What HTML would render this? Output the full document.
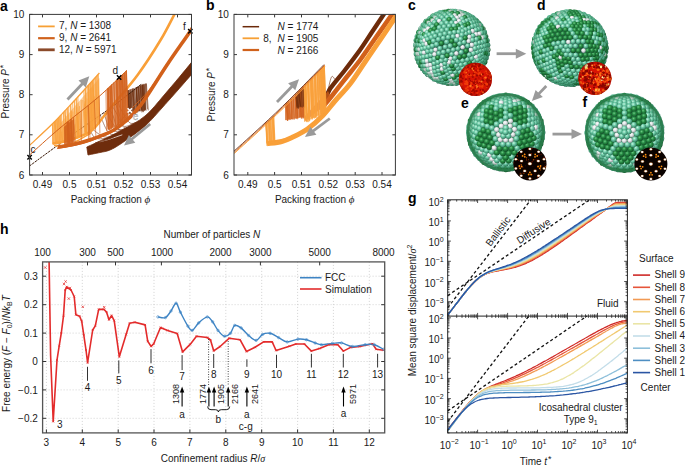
<!DOCTYPE html><html><head><meta charset="utf-8"><style>html,body{margin:0;padding:0;background:#fff;overflow:hidden}svg{display:block}</style></head><body><svg width="685" height="466" viewBox="0 0 685 466" font-family='"Liberation Sans", sans-serif'>
<rect width="685" height="466" fill="#fff"/>
<clipPath id="ca"><rect x="29.6" y="14.4" width="161.9" height="160.6"/></clipPath><g clip-path="url(#ca)">
<path d="M126.6 95.5 L141.6 84 L146.6 83.4 L146 110 L128 113 Z" stroke="none" stroke-width="1" fill="#6E2C0C" fill-opacity="0.45"/>
<path d="M140.4 85.7L141.8 111.1M142.5 84.9L144.1 110.8M131.3 89.0L131.6 112.3M128.0 90.3L129.6 112.2M127.4 90.5L129.4 113.7M138.9 86.2L139.3 111.0M128.9 89.9L130.8 112.4M143.0 84.7L143.5 112.2M137.6 86.7L138.5 111.6M127.3 90.5L129.1 112.2M130.8 89.2L132.7 113.7M141.9 85.2L143.1 111.6M136.1 87.3L137.8 110.8M144.4 84.2L145.3 110.2M134.3 87.9L136.3 111.6M128.5 90.1L130.0 114.4M136.4 87.2L137.7 112.5M138.8 86.3L140.0 111.8M130.0 89.5L130.9 114.0M138.5 86.4L139.4 110.3M142.9 84.8L144.5 110.4M140.1 85.8L141.9 112.5M146.4 83.5L148.3 110.4M136.4 87.2L137.4 111.0M129.8 89.6L130.3 113.8M136.3 87.2L138.0 110.4M132.4 88.6L133.4 111.4M133.4 88.3L135.2 113.6M136.2 87.2L136.9 113.2M141.2 85.4L141.5 110.3M142.5 84.9L144.3 111.1M138.2 86.5L140.0 110.8M132.1 88.7L133.7 110.9M145.7 83.7L146.0 110.8M143.6 84.5L144.9 109.9M145.8 83.7L147.6 109.2M128.5 90.1L128.8 112.9M143.9 84.4L145.4 109.5M133.1 88.4L134.2 111.4M130.3 89.4L131.2 113.3M127.5 90.4L129.0 114.2M142.4 84.9L142.7 110.9M141.9 85.1L142.5 111.7M140.5 85.6L141.4 109.8M132.8 88.5L134.6 111.6" stroke="#6E2C0C" stroke-width="0.6" fill="none" stroke-opacity="0.9"/>
<path d="M86.8 147 C89.0 146.0 94.1 143.8 100.0 141.0 C105.9 138.2 114.5 134.2 122.0 130.0 C129.5 125.8 137.8 122.0 145.0 116.0 C152.2 110.0 157.2 103.0 165.0 94.0 C172.8 85.0 185.7 69.6 191.5 62.3 C197.3 55.0 198.6 52.0 200.0 50.0 L200 64 C198.6 65.8 197.3 67.7 191.5 74.5 C185.7 81.3 172.8 96.0 165.0 104.6 C157.2 113.2 152.2 119.6 145.0 126.0 C137.8 132.4 127.8 139.0 122.0 143.0 C116.2 147.0 113.7 148.4 110.0 150.0 C106.3 151.6 103.7 151.7 100.0 152.5 C96.3 153.3 90.0 154.6 88.0 155.0 Z" stroke="#6E2C0C" stroke-width="0.8" fill="#6E2C0C"/>
<path d="M99.7 141.8 C101.4 141.3 106.2 140.2 110.0 139.0 C113.8 137.8 120.2 135.5 122.3 134.8" stroke="#fff" stroke-width="0.7" fill="none" />
<path d="M95 143 C97.5 142.2 105.5 140.3 110.0 138.5 C114.5 136.7 117.8 134.4 122.0 132.0 C126.2 129.6 132.8 125.3 135.0 124.0" stroke="#6E2C0C" stroke-width="0.8" fill="none" />
<path d="M104.1 112.4 C104.6 114.0 105.6 119.1 106.8 122.2 C107.9 125.2 108.0 129.5 110.9 130.9 C113.8 132.3 122.0 130.6 124.2 130.5" stroke="#6E2C0C" stroke-width="0.55" fill="none" />
<path d="M112.4 106.4 C113.1 107.5 114.4 109.4 116.3 112.9 C118.3 116.4 121.3 125.6 124.0 127.6 C126.8 129.5 131.4 125.2 132.9 124.7" stroke="#6E2C0C" stroke-width="0.55" fill="none" />
<path d="M88.3 123.5 C88.9 125.1 90.3 130.9 91.7 133.4 C93.2 135.9 93.7 137.9 97.1 138.6 C100.6 139.3 109.7 137.9 112.2 137.7" stroke="#6E2C0C" stroke-width="0.55" fill="none" />
<path d="M89.9 122.4 C90.1 123.3 89.0 125.5 91.1 127.8 C93.2 130.1 99.3 134.6 102.4 136.2 C105.4 137.7 108.3 136.9 109.5 137.1" stroke="#6E2C0C" stroke-width="0.55" fill="none" />
<path d="M108.4 109.4 C108.5 110.8 107.8 114.3 109.4 117.7 C111.0 121.0 114.9 127.8 117.9 129.4 C120.9 131.1 125.9 127.9 127.5 127.6" stroke="#6E2C0C" stroke-width="0.55" fill="none" />
<path d="M100.5 115 C100.7 115.9 100.6 117.1 102.1 120.2 C103.7 123.4 106.6 131.8 109.9 133.8 C113.3 135.9 120.1 132.8 122.1 132.6" stroke="#6E2C0C" stroke-width="0.55" fill="none" />
<path d="M115.4 104.1 C116.0 105.3 117.3 107.7 118.6 111.4 C119.9 115.0 120.5 124.1 123.3 126.0 C126.1 127.9 133.3 123.2 135.3 122.7" stroke="#6E2C0C" stroke-width="0.55" fill="none" />
<path d="M108.7 109.2 C109.4 110.1 111.0 111.2 112.6 114.6 C114.3 118.0 115.6 127.3 118.6 129.4 C121.6 131.5 128.5 127.7 130.5 127.3" stroke="#6E2C0C" stroke-width="0.55" fill="none" />
<path d="M118.1 102.1 C118.6 103.4 119.4 106.7 121.4 110.2 C123.4 113.7 126.9 121.2 130.1 123.0 C133.4 124.7 139.1 121.2 140.9 120.8" stroke="#6E2C0C" stroke-width="0.55" fill="none" />
<path d="M29.6 165.9 C37.0 160.5 60.8 143.0 74.0 133.5 C87.2 124.0 97.7 117.2 109.0 109.0 C120.3 100.8 136.2 88.2 141.6 84.0" stroke="#3a1a08" stroke-width="1.0" fill="none" stroke-dasharray="2.5 0.8"/>
<path d="M52 124.3 L60 115.8 L61 144.5 L52 144 Z" stroke="none" stroke-width="1" fill="#F9A03A" fill-opacity="0.75"/>
<path d="M60 123.8 L75 106 L99.4 78 L100 117 L91 131 L70 140 L60 143 Z" stroke="none" stroke-width="1" fill="#F9A03A" fill-opacity="0.5"/>
<path d="M94.8 78.1L95.6 127.5M76.1 98.7L77.8 138.5M85.1 88.8L85.9 133.1M65.3 110.2L66.6 139.9M83.7 90.4L85.3 133.8M61.6 114.2L63.1 141.0M76.8 98.1L78.2 136.3M89.6 83.8L90.4 132.8M58.8 117.1L59.5 143.0M70.7 104.5L72.6 139.3M76.2 98.7L77.0 136.5M68.3 107.1L68.9 142.1M60.1 115.7L62.0 142.8M57.0 119.0L57.4 143.4M88.5 85.1L88.8 132.6M55.1 121.0L56.2 144.5M65.1 110.5L66.7 142.1M85.7 88.2L86.3 133.2M88.2 85.3L89.9 133.0M97.7 74.9L98.1 123.6M61.0 114.8L62.6 142.8M63.4 112.3L65.1 141.8M91.8 81.4L93.4 128.2M70.1 105.2L70.9 140.5M86.0 87.8L86.4 133.5M87.7 85.9L88.5 131.3M57.0 119.1L58.4 143.3M64.4 111.2L66.3 141.4M77.9 96.8L79.4 136.5M60.3 115.6L60.9 141.0M74.2 100.8L75.6 137.1M92.1 81.1L92.7 130.6M98.1 74.5L99.5 120.8M98.0 74.5L99.2 123.3M90.6 82.7L92.5 131.1M85.2 88.8L86.1 134.0M95.9 76.9L97.3 123.2M92.7 80.4L94.5 126.6M93.0 80.1L94.6 128.1M90.2 83.2L90.7 131.4M74.4 100.6L76.1 137.5M52.3 124.0L53.3 144.2M58.7 117.3L59.3 141.5M92.5 80.6L94.4 127.7M54.4 121.8L55.4 143.9M95.8 77.0L97.2 123.6M70.7 104.5L71.8 139.0M91.6 81.6L92.0 131.4M96.6 76.1L98.1 124.0M90.4 82.9L91.4 129.6M93.4 79.7L94.7 128.8M67.2 108.2L68.8 141.7M63.3 112.4L64.2 142.7M72.6 102.5L73.6 139.4M95.0 77.9L96.8 125.6M67.8 107.7L69.4 141.5M87.9 85.8L89.6 133.3M55.1 121.0L56.5 142.2M88.8 84.7L90.3 131.2M66.8 108.7L67.9 141.6" stroke="#F9A03A" stroke-width="0.75" fill="none" stroke-opacity="0.9"/>
<path d="M87.0 98.4L88.4 131.8M65.6 116.1L67.0 140.4M94.7 96.3L95.0 126.8M77.5 112.3L79.4 135.7M85.0 101.2L85.9 133.7M78.0 112.0L78.7 136.9M85.3 102.7L86.0 133.3M63.4 127.0L64.0 141.8M72.9 111.5L73.3 138.0M84.6 111.3L85.3 132.7M64.6 124.1L66.1 140.2M81.2 99.8L81.9 135.1M68.0 123.9L69.7 140.1M60.4 126.5L61.2 142.6M90.9 88.1L92.1 130.5M82.8 100.0L84.7 132.9M90.6 102.2L91.8 129.4M86.2 105.8L87.1 133.3M71.3 110.7L72.2 139.7M65.9 120.8L66.4 141.1M69.1 118.7L70.9 139.5M84.7 103.7L86.0 132.9M79.5 106.1L80.3 134.9M76.8 107.1L77.1 136.4M73.3 120.2L74.0 138.6M89.0 100.1L90.0 131.0M92.8 99.2L93.9 127.3M93.3 87.6L94.8 127.2M98.0 97.1L98.7 123.1M75.0 124.6L75.5 137.4M70.8 114.8L72.4 139.2M91.1 104.6L92.9 129.4M79.7 113.9L80.8 136.3M77.0 116.1L77.8 135.9M65.4 115.2L65.9 140.8M61.9 131.6L62.4 141.6M77.6 116.4L78.6 136.1M64.6 123.0L66.1 141.5M70.1 122.6L71.0 140.0M65.3 122.1L67.2 140.3" stroke="#F9A03A" stroke-width="0.8" fill="none" stroke-opacity="0.9"/>
<path d="M29.6 145.3 C33.3 141.8 44.4 131.8 52.0 124.3 C59.6 116.8 67.1 108.5 75.0 100.0 C82.9 91.5 95.3 77.5 99.4 73.0" stroke="#F9A03A" stroke-width="1.3" fill="none" />
<path d="M53 143.5 C55.8 142.9 63.7 142.1 70.0 140.0 C76.3 137.9 85.3 135.0 91.0 131.0 C96.7 127.0 100.0 120.8 104.0 116.0 C108.0 111.2 109.4 109.3 115.0 102.5 C120.6 95.7 130.0 85.4 137.6 75.0 C145.2 64.6 154.5 50.1 160.6 40.0 C166.7 29.9 171.2 20.4 174.4 14.4 C177.6 8.4 179.1 5.7 180.0 4.0" stroke="#F9A03A" stroke-width="2.6" fill="none" />
<path d="M52.8 143.8 C55.6 143.3 63.5 142.4 69.8 140.3 C76.1 138.3 85.1 135.3 90.8 131.3 C96.5 127.3 99.8 121.1 103.8 116.3 C107.8 111.6 109.2 109.7 114.8 102.8 C120.4 96.0 129.8 85.8 137.4 75.3 C145.0 64.9 154.3 50.4 160.4 40.3 C166.5 30.2 171.0 20.7 174.2 14.7 C177.4 8.7 178.9 6.1 179.8 4.3" stroke="#F9A03A" stroke-width="0.7" fill="none" />
<path d="M52.5 144.3 C55.3 143.7 63.2 142.9 69.5 140.8 C75.8 138.7 84.8 135.8 90.5 131.8 C96.2 127.8 99.5 121.6 103.5 116.8 C107.5 112.1 108.9 110.2 114.5 103.3 C120.1 96.5 129.5 86.2 137.1 75.8 C144.7 65.4 154.0 50.9 160.1 40.8 C166.2 30.7 170.7 21.2 173.9 15.2 C177.1 9.2 178.6 6.6 179.5 4.8" stroke="#F9A03A" stroke-width="0.7" fill="none" />
<path d="M53.3 142.9 C56.2 142.3 64.0 141.5 70.3 139.4 C76.7 137.3 85.7 134.4 91.3 130.4 C97.0 126.4 100.3 120.2 104.3 115.4 C108.3 110.7 109.7 108.8 115.3 101.9 C120.9 95.1 130.3 84.8 137.9 74.4 C145.5 64.0 154.8 49.5 160.9 39.4 C167.1 29.3 171.5 19.8 174.7 13.8 C178.0 7.8 179.4 5.2 180.3 3.4" stroke="#F9A03A" stroke-width="0.7" fill="none" />
<path d="M54 145.5 C56.0 145.7 62.2 147.2 66.0 146.5 C69.8 145.8 72.8 143.2 77.0 141.0 C81.2 138.8 88.7 134.3 91.0 133.0" stroke="#F9A03A" stroke-width="1.5" fill="none" />
<path d="M108 88 L126.8 70.4 L128 122 L108 130 Z" stroke="none" stroke-width="1" fill="#D2621C" fill-opacity="0.6"/>
<path d="M64 126.8 L74 118.7 L74.5 142 L64 145 Z" stroke="none" stroke-width="1" fill="#D2621C" fill-opacity="0.8"/>
<path d="M107.1 88.9L108.0 129.4M81.0 111.1L81.4 142.8M69.7 120.2L71.0 145.5M119.4 77.3L120.0 125.1M73.3 117.3L74.1 143.7M68.0 121.6L69.6 145.8M121.6 75.3L122.3 123.2M88.3 105.2L90.1 140.7M73.6 117.0L75.5 143.8M122.7 74.3L123.3 123.3M124.6 72.5L126.5 120.9M116.7 79.8L118.6 124.6M109.4 86.7L111.1 129.1M67.1 122.3L67.6 145.7M108.3 87.8L110.2 130.0M118.5 78.2L119.4 125.1M115.8 80.7L117.4 125.1M99.2 96.3L99.9 133.7M110.2 86.0L111.2 128.2M67.5 121.9L68.7 144.5M108.0 88.0L108.5 129.2M67.4 122.0L68.2 146.0M116.5 80.1L118.1 125.8M94.3 100.4L95.9 136.8M119.7 77.1L121.5 123.4M126.5 70.6L127.7 121.9M71.2 119.0L72.0 145.1M117.7 78.9L118.4 124.8M119.9 76.9L121.2 123.3M105.9 90.0L106.6 130.9M117.2 79.4L118.5 126.2M111.7 84.5L112.8 127.7M120.5 76.3L121.2 124.4M107.3 88.7L108.1 129.7M70.7 119.4L72.7 145.3M124.1 72.9L125.3 122.4M108.2 87.8L109.1 129.2M88.1 105.4L88.5 140.6M111.7 84.6L112.3 127.7M111.5 84.7L113.1 127.0M121.4 75.4L122.9 122.5M124.0 73.1L125.1 123.0M110.4 85.8L111.3 129.1M107.8 88.2L108.4 129.2M119.9 76.9L120.9 124.0M113.9 82.5L115.3 126.1M110.6 85.6L111.1 128.3M67.8 121.7L69.2 145.3M116.5 80.0L117.0 126.4M122.0 74.9L124.0 122.9M67.6 121.9L68.7 144.9M68.0 121.6L69.4 145.8M124.7 72.4L126.3 121.6M108.1 88.0L109.7 129.6M68.7 121.0L69.5 145.7M122.6 74.3L124.5 123.1M113.8 82.5L115.8 127.3M67.6 121.9L69.3 145.7M68.5 121.2L70.4 144.1M70.6 119.4L72.5 145.4M122.8 74.1L124.8 122.1M66.6 122.7L68.2 144.6M125.6 71.5L126.2 122.1M126.3 70.8L127.5 121.2M122.0 74.9L122.6 124.0M126.4 70.8L128.3 120.8M111.5 84.7L112.3 127.5M71.3 118.9L71.7 144.9M121.7 75.2L123.0 124.1M64.9 124.0L66.2 145.3" stroke="#D2621C" stroke-width="0.7" fill="none" stroke-opacity="0.9"/>
<path d="M29.6 155 C34.7 150.5 48.6 137.6 60.0 128.0 C71.4 118.4 86.8 107.1 97.9 97.5 C109.0 87.9 122.0 74.9 126.8 70.4" stroke="#D2621C" stroke-width="1.0" fill="none" />
<path d="M58 147 C60.8 146.5 69.5 145.2 75.0 144.0 C80.5 142.8 84.8 141.7 91.0 139.5 C97.2 137.3 106.0 134.2 112.0 131.0 C118.0 127.8 122.3 124.2 127.0 120.0 C131.7 115.8 136.3 110.5 140.0 106.0 C143.7 101.5 144.3 100.2 149.0 93.0 C153.7 85.8 161.4 73.3 168.3 63.0 C175.2 52.7 185.5 38.4 190.3 31.2 C195.1 24.0 195.9 21.9 197.0 20.0" stroke="#D2621C" stroke-width="3.6" fill="none" />
<path d="M57.1 148.6 C59.9 148.1 68.6 146.8 74.1 145.6 C79.6 144.3 83.9 143.2 90.1 141.1 C96.2 138.9 105.1 135.8 111.1 132.6 C117.1 129.3 121.4 125.7 126.1 121.6 C130.7 117.4 135.4 112.1 139.1 107.6 C142.7 103.1 143.3 101.7 148.1 94.6 C152.8 87.4 160.5 74.9 167.4 64.6 C174.2 54.3 184.6 39.9 189.4 32.8 C194.1 25.6 194.9 23.4 196.1 21.6" stroke="#D2621C" stroke-width="0.7" fill="none" />
<path d="M57.2 148.3 C60.0 147.8 68.7 146.6 74.2 145.3 C79.7 144.1 84.0 143.0 90.2 140.8 C96.4 138.7 105.2 135.6 111.2 132.3 C117.2 129.1 121.5 125.5 126.2 121.3 C130.9 117.2 135.5 111.8 139.2 107.3 C142.9 102.8 143.5 101.5 148.2 94.3 C152.9 87.2 160.6 74.6 167.5 64.3 C174.4 54.0 184.7 39.7 189.5 32.5 C194.3 25.4 195.1 23.2 196.2 21.3" stroke="#D2621C" stroke-width="0.7" fill="none" />
<path d="M57.6 147.6 C60.5 147.1 69.1 145.9 74.6 144.6 C80.1 143.4 84.5 142.3 90.6 140.1 C96.8 137.9 105.6 134.9 111.6 131.6 C117.6 128.4 122.0 124.8 126.6 120.6 C131.3 116.4 136.0 111.1 139.6 106.6 C143.3 102.1 143.9 100.8 148.6 93.6 C153.4 86.4 161.1 73.9 167.9 63.6 C174.8 53.3 185.2 39.0 189.9 31.8 C194.7 24.6 195.5 22.5 196.6 20.6" stroke="#D2621C" stroke-width="0.7" fill="none" />
<path d="M57.4 148.1 C60.2 147.6 68.9 146.3 74.4 145.1 C79.9 143.8 84.2 142.7 90.4 140.6 C96.5 138.4 105.4 135.3 111.4 132.1 C117.4 128.8 121.7 125.2 126.4 121.1 C131.0 116.9 135.7 111.6 139.4 107.1 C143.0 102.6 143.6 101.2 148.4 94.1 C153.1 86.9 160.8 74.4 167.7 64.1 C174.5 53.8 184.9 39.4 189.7 32.3 C194.4 25.1 195.2 22.9 196.4 21.1" stroke="#D2621C" stroke-width="0.7" fill="none" />
<path d="M112 131 C115.0 127.6 123.6 117.2 129.8 110.4 C136.0 103.6 142.6 98.1 149.0 90.0 C155.4 81.9 164.8 66.7 168.0 62.0" stroke="#D2621C" stroke-width="0.8" fill="none" />
</g>
<line x1="67.5" y1="99.5" x2="82.8" y2="83.2" stroke="#9a9a9a" stroke-width="2.8" />
<path d="M89.3 76.3 L85.8 87.4 L78.5 80.5 Z" fill="#9a9a9a"/>
<line x1="150.2" y1="124" x2="131.3" y2="139.5" stroke="#9a9a9a" stroke-width="2.8" />
<path d="M124.0 145.5 L128.9 135.0 L135.3 142.7 Z" fill="#9a9a9a"/>
<path d="M27.4 155.1l4.4 4.4m0 -4.4l-4.4 4.4" stroke="#000" stroke-width="1.4"/>
<text x="33" y="153.3" font-size="10" text-anchor="middle" fill="#1a1a1a" >c</text>
<path d="M116.9 75.3l4.4 4.4m0 -4.4l-4.4 4.4" stroke="#000" stroke-width="1.4"/>
<text x="115.4" y="73.5" font-size="10" text-anchor="middle" fill="#1a1a1a" >d</text>
<path d="M127.6 108.2l4.4 4.4m0 -4.4l-4.4 4.4" stroke="#fff" stroke-width="1.6"/>
<text x="135.5" y="120.2" font-size="10" text-anchor="middle" fill="#fff" stroke="#888" stroke-width="0.35">e</text>
<path d="M188.1 29.0l4.4 4.4m0 -4.4l-4.4 4.4" stroke="#000" stroke-width="1.4"/>
<text x="184.4" y="29.6" font-size="10" text-anchor="middle" fill="#1a1a1a" >f</text>
<rect x="29.6" y="14.4" width="161.9" height="160.6" fill="none" stroke="#3a3a3a" stroke-width="1"/>
<line x1="42.5" y1="175" x2="42.5" y2="172" stroke="#3a3a3a" stroke-width="1" />
<line x1="42.5" y1="14.4" x2="42.5" y2="17.4" stroke="#3a3a3a" stroke-width="1" />
<text x="42.5" y="188.2" font-size="10" text-anchor="middle" fill="#1a1a1a" >0.49</text>
<line x1="69.5" y1="175" x2="69.5" y2="172" stroke="#3a3a3a" stroke-width="1" />
<line x1="69.5" y1="14.4" x2="69.5" y2="17.4" stroke="#3a3a3a" stroke-width="1" />
<text x="69.5" y="188.2" font-size="10" text-anchor="middle" fill="#1a1a1a" >0.5</text>
<line x1="96.5" y1="175" x2="96.5" y2="172" stroke="#3a3a3a" stroke-width="1" />
<line x1="96.5" y1="14.4" x2="96.5" y2="17.4" stroke="#3a3a3a" stroke-width="1" />
<text x="96.5" y="188.2" font-size="10" text-anchor="middle" fill="#1a1a1a" >0.51</text>
<line x1="123.5" y1="175" x2="123.5" y2="172" stroke="#3a3a3a" stroke-width="1" />
<line x1="123.5" y1="14.4" x2="123.5" y2="17.4" stroke="#3a3a3a" stroke-width="1" />
<text x="123.5" y="188.2" font-size="10" text-anchor="middle" fill="#1a1a1a" >0.52</text>
<line x1="150.5" y1="175" x2="150.5" y2="172" stroke="#3a3a3a" stroke-width="1" />
<line x1="150.5" y1="14.4" x2="150.5" y2="17.4" stroke="#3a3a3a" stroke-width="1" />
<text x="150.5" y="188.2" font-size="10" text-anchor="middle" fill="#1a1a1a" >0.53</text>
<line x1="177.5" y1="175" x2="177.5" y2="172" stroke="#3a3a3a" stroke-width="1" />
<line x1="177.5" y1="14.4" x2="177.5" y2="17.4" stroke="#3a3a3a" stroke-width="1" />
<text x="177.5" y="188.2" font-size="10" text-anchor="middle" fill="#1a1a1a" >0.54</text>
<line x1="29.6" y1="175" x2="32.6" y2="175" stroke="#3a3a3a" stroke-width="1" />
<line x1="191.5" y1="175" x2="188.5" y2="175" stroke="#3a3a3a" stroke-width="1" />
<text x="24.4" y="178.6" font-size="10" text-anchor="end" fill="#1a1a1a" >6</text>
<line x1="29.6" y1="134.8" x2="32.6" y2="134.8" stroke="#3a3a3a" stroke-width="1" />
<line x1="191.5" y1="134.8" x2="188.5" y2="134.8" stroke="#3a3a3a" stroke-width="1" />
<text x="24.4" y="138.4" font-size="10" text-anchor="end" fill="#1a1a1a" >7</text>
<line x1="29.6" y1="94.7" x2="32.6" y2="94.7" stroke="#3a3a3a" stroke-width="1" />
<line x1="191.5" y1="94.7" x2="188.5" y2="94.7" stroke="#3a3a3a" stroke-width="1" />
<text x="24.4" y="98.3" font-size="10" text-anchor="end" fill="#1a1a1a" >8</text>
<line x1="29.6" y1="54.6" x2="32.6" y2="54.6" stroke="#3a3a3a" stroke-width="1" />
<line x1="191.5" y1="54.6" x2="188.5" y2="54.6" stroke="#3a3a3a" stroke-width="1" />
<text x="24.4" y="58.2" font-size="10" text-anchor="end" fill="#1a1a1a" >9</text>
<line x1="29.6" y1="14.4" x2="32.6" y2="14.4" stroke="#3a3a3a" stroke-width="1" />
<line x1="191.5" y1="14.4" x2="188.5" y2="14.4" stroke="#3a3a3a" stroke-width="1" />
<text x="24.4" y="18" font-size="10" text-anchor="end" fill="#1a1a1a" >10</text>
<text x="110.5" y="203" font-size="10" text-anchor="middle" fill="#1a1a1a" >Packing fraction <tspan font-family="Liberation Serif" font-style="italic" font-size="11">ϕ</tspan></text>
<text x="8.9" y="91.6" font-size="10" text-anchor="middle" fill="#1a1a1a" transform="rotate(-90 8.9 91.6)" >Pressure <tspan font-style="italic">P</tspan><tspan font-size="9" dx="0.8" dy="-3">*</tspan></text>
<text x="0" y="10.5" font-size="14" text-anchor="start" font-weight="bold" fill="#000" >a</text>
<line x1="38.1" y1="26.4" x2="54.7" y2="26.4" stroke="#F7A035" stroke-width="1.8" />
<line x1="38.1" y1="38.2" x2="54.7" y2="38.2" stroke="#D0621C" stroke-width="2.2" />
<line x1="38.1" y1="49.8" x2="54.7" y2="49.8" stroke="#8B4A2A" stroke-width="2.8" />
<text x="59" y="29.4" font-size="10" text-anchor="start" fill="#1a1a1a" >7, <tspan font-style="italic">N</tspan> = 1308</text>
<text x="59" y="41.2" font-size="10" text-anchor="start" fill="#1a1a1a" >9, <tspan font-style="italic">N</tspan> = 2641</text>
<text x="59" y="52.8" font-size="10" text-anchor="start" fill="#1a1a1a" >12, <tspan font-style="italic">N</tspan> = 5971</text>
<clipPath id="cb"><rect x="234" y="14.4" width="161.4" height="160.6"/></clipPath><g clip-path="url(#cb)">
<path d="M326 100 C326.6 98.2 326.4 94.5 329.6 89.5 C332.8 84.5 339.9 76.6 345.0 70.0 C350.1 63.4 355.5 56.3 360.0 50.0 C364.5 43.7 367.8 38.3 372.0 32.0 C376.2 25.7 382.3 16.7 385.3 12.0 C388.3 7.3 389.2 5.3 390.0 4.0" stroke="#6E2C0C" stroke-width="4.4" fill="none" />
<path d="M325.8 100.3 C326.4 98.6 326.2 94.8 329.4 89.8 C332.6 84.8 339.7 76.9 344.8 70.3 C349.9 63.7 355.3 56.6 359.8 50.3 C364.3 44.0 367.6 38.6 371.8 32.3 C376.0 26.0 382.1 17.0 385.1 12.3 C388.1 7.6 389.0 5.6 389.8 4.3" stroke="#6E2C0C" stroke-width="0.7" fill="none" />
<path d="M325.7 100.6 C326.3 98.8 326.1 95.1 329.3 90.1 C332.4 85.1 339.6 77.2 344.7 70.6 C349.7 64.0 355.2 56.9 359.7 50.6 C364.2 44.2 367.4 38.9 371.7 32.6 C375.9 26.2 382.0 17.2 385.0 12.6 C388.0 7.9 388.9 5.9 389.7 4.6" stroke="#6E2C0C" stroke-width="0.7" fill="none" />
<path d="M325.2 101.4 C325.8 99.6 325.6 95.9 328.8 90.9 C331.9 85.9 339.1 78.0 344.2 71.4 C349.2 64.8 354.7 57.7 359.2 51.4 C363.7 45.1 366.9 39.7 371.2 33.4 C375.4 27.1 381.5 18.1 384.5 13.4 C387.5 8.7 388.4 6.7 389.2 5.4" stroke="#6E2C0C" stroke-width="0.7" fill="none" />
<path d="M326.6 99 C327.2 97.3 327.0 93.5 330.2 88.5 C333.4 83.5 340.5 75.6 345.6 69.0 C350.7 62.4 356.1 55.4 360.6 49.0 C365.1 42.7 368.4 37.4 372.6 31.0 C376.8 24.7 382.9 15.7 385.9 11.0 C388.9 6.4 389.8 4.4 390.6 3.0" stroke="#6E2C0C" stroke-width="0.7" fill="none" />
<path d="M325.6 100.7 C326.2 98.9 326.0 95.2 329.2 90.2 C332.4 85.2 339.5 77.3 344.6 70.7 C349.7 64.1 355.1 57.0 359.6 50.7 C364.1 44.3 367.4 39.0 371.6 32.7 C375.8 26.3 381.9 17.3 384.9 12.7 C387.9 8.0 388.8 6.0 389.6 4.7" stroke="#6E2C0C" stroke-width="0.7" fill="none" />
<path d="M327 95 C327.8 92.0 330.0 79.5 331.5 77.0 C333.0 74.5 334.6 80.5 336.0 80.0 C337.4 79.5 339.3 75.0 340.0 74.0" stroke="#6E2C0C" stroke-width="0.6" fill="none" />
<path d="M322 108 C323.6 106.0 327.9 100.9 331.8 96.0 C335.7 91.1 340.7 84.6 345.5 78.5 C350.3 72.4 355.3 66.5 360.5 59.5 C365.7 52.5 371.2 44.0 376.5 36.5 C381.8 29.0 388.8 19.1 392.0 14.4 C395.2 9.7 395.3 9.1 396.0 8.0" stroke="#D2621C" stroke-width="4.6" fill="none" />
<path d="M321 109.7 C322.6 107.7 326.9 102.6 330.8 97.7 C334.7 92.8 339.7 86.3 344.5 80.2 C349.3 74.1 354.3 68.2 359.5 61.2 C364.6 54.2 370.2 45.7 375.5 38.2 C380.7 30.7 387.7 20.9 391.0 16.1 C394.2 11.4 394.3 10.8 395.0 9.7" stroke="#D2621C" stroke-width="0.7" fill="none" />
<path d="M320.9 109.8 C322.6 107.8 326.8 102.7 330.7 97.8 C334.6 92.9 339.6 86.4 344.4 80.3 C349.2 74.2 354.3 68.3 359.4 61.3 C364.6 54.3 370.2 45.8 375.4 38.3 C380.7 30.8 387.7 20.9 390.9 16.2 C394.2 11.4 394.3 10.9 394.9 9.8" stroke="#D2621C" stroke-width="0.7" fill="none" />
<path d="M322.8 106.6 C324.5 104.6 328.7 99.5 332.6 94.6 C336.5 89.7 341.5 83.2 346.3 77.1 C351.1 71.0 356.2 65.1 361.3 58.1 C366.5 51.1 372.1 42.6 377.3 35.1 C382.6 27.6 389.6 17.8 392.8 13.0 C396.1 8.3 396.2 7.7 396.8 6.6" stroke="#D2621C" stroke-width="0.7" fill="none" />
<path d="M321.6 108.7 C323.2 106.7 327.5 101.6 331.4 96.7 C335.3 91.8 340.3 85.3 345.1 79.2 C349.9 73.1 354.9 67.2 360.1 60.2 C365.3 53.2 370.8 44.7 376.1 37.2 C381.3 29.7 388.3 19.8 391.6 15.1 C394.8 10.3 394.9 9.7 395.6 8.7" stroke="#D2621C" stroke-width="0.7" fill="none" />
<path d="M321.7 108.5 C323.3 106.5 327.6 101.4 331.5 96.5 C335.4 91.6 340.4 85.1 345.2 79.0 C350.0 72.9 355.0 67.0 360.2 60.0 C365.4 53.0 370.9 44.5 376.2 37.0 C381.4 29.5 388.4 19.7 391.7 14.9 C394.9 10.2 395.0 9.6 395.7 8.5" stroke="#D2621C" stroke-width="0.7" fill="none" />
<path d="M304 117 L328 91 L331 97 L322 108 L305 121 Z" stroke="none" stroke-width="1" fill="#D2621C" fill-opacity="0.7"/>
<path d="M285.2 105.9 L304 86.2 L304 117 L285.2 120.2 Z" stroke="none" stroke-width="1" fill="#D2621C" fill-opacity="0.65"/>
<path d="M303.4 86.9L304.6 117.3M297.1 93.2L297.9 118.1M286.0 104.2L287.3 120.6M301.1 89.2L303.0 117.8M287.2 103.0L287.6 121.0M289.1 101.3L290.9 120.1M291.1 99.3L291.8 119.0M295.0 95.4L295.8 118.6M287.1 103.1L287.4 120.9M295.6 94.7L296.1 118.0M291.0 99.4L291.4 119.0M288.7 101.7L290.1 119.6M291.8 98.6L293.0 119.8M286.3 103.9L287.5 119.9M287.1 103.1L288.9 118.9M293.4 96.9L294.3 119.8M288.1 102.2L289.2 120.1M286.7 103.6L288.0 120.5M293.0 97.3L294.2 118.6M303.3 86.9L304.4 116.5M300.3 90.0L301.1 117.2M298.5 91.8L299.9 117.7M299.5 90.8L301.4 118.6M300.4 89.9L302.3 118.5M296.1 94.2L297.3 119.3M298.7 91.6L299.4 117.4M296.1 94.2L297.4 117.9M303.1 87.2L303.5 118.4M295.9 94.4L297.9 118.8M302.8 87.4L303.8 118.4M287.6 102.6L288.0 119.1M300.0 90.2L300.7 117.2M300.2 90.1L301.7 118.6M299.3 90.9L301.1 117.0M301.4 88.9L302.7 117.4M291.3 99.1L292.2 119.4M288.8 101.5L289.3 119.2M286.9 103.3L287.9 119.3M295.4 95.0L296.4 119.0M285.4 104.7L285.9 120.0" stroke="#D2621C" stroke-width="0.7" fill="none" stroke-opacity="0.9"/>
<path d="M297 93 L304 86 L304 106.5 L297 108 Z" stroke="none" stroke-width="1" fill="#6E2C0C" fill-opacity="0.55"/>
<path d="M297.0 96.3L297.9 108.5M299.4 93.9L300.3 106.8M296.7 96.6L297.1 106.5M298.1 95.1L298.6 108.9M305.5 87.7L306.3 108.4M296.9 96.5L298.5 107.5M298.6 94.6L300.4 106.2M296.3 97.1L296.9 108.6M303.8 89.5L304.5 108.2M301.5 91.7L302.2 108.0M303.6 89.6L304.7 107.2M303.2 90.0L303.8 106.7M296.0 97.4L296.9 107.4M299.1 94.2L300.7 106.3" stroke="#6E2C0C" stroke-width="0.6" fill="none" stroke-opacity="0.9"/>
<path d="M304 86.2 L324.6 65.3 L326.5 112 L304 122 Z" stroke="none" stroke-width="1" fill="#F9A03A" fill-opacity="0.45"/>
<path d="M314.7 75.3L317.0 118.1M305.9 84.3L308.1 122.2M314.9 75.2L316.0 117.5M324.4 65.5L325.8 113.1M315.1 75.0L316.6 116.4M322.8 67.2L323.6 113.2M321.6 68.3L322.6 115.4M322.0 68.0L324.0 112.9M320.9 69.1L321.7 115.1M323.1 66.8L324.2 112.6M310.5 79.6L312.0 118.4M317.3 72.7L319.0 117.0M317.3 72.7L318.4 115.6M320.2 69.8L322.4 113.1M305.3 84.9L306.5 120.9M312.9 77.2L314.3 117.6M309.0 81.1L309.4 118.7M319.1 70.8L320.9 114.4M305.6 84.6L306.9 120.8M323.7 66.2L325.6 112.0M320.6 69.4L321.7 114.2M310.7 79.4L312.3 118.3M305.3 84.9L306.8 121.5M321.8 68.2L324.1 114.2M307.4 82.8L309.1 119.7M314.9 75.1L315.7 117.9M304.2 86.0L305.9 120.7M318.8 71.2L321.2 114.4M311.1 79.0L313.5 117.4M305.7 84.5L307.2 121.8M319.7 70.3L321.2 114.7M317.3 72.7L318.9 116.6M323.2 66.7L324.9 114.6M311.8 78.3L313.9 117.8M322.0 67.9L324.3 114.9M314.2 75.8L315.1 118.1M311.4 78.7L312.1 119.7M308.2 81.9L308.8 119.2M321.1 68.9L321.9 115.6M308.3 81.9L309.8 120.8M318.1 71.9L319.2 115.5M304.0 86.2L304.8 121.7M308.0 82.1L308.9 121.9M312.4 77.7L314.4 118.6M315.5 74.6L317.1 115.6M312.0 78.0L312.9 118.2M308.6 81.6L309.1 119.8M304.5 85.7L306.8 121.4M314.9 75.2L315.6 117.4M324.1 65.9L325.2 114.1M305.6 84.5L306.8 122.2M318.8 71.2L321.3 114.6M320.8 69.2L323.1 115.3M311.0 79.1L312.1 119.3M310.3 79.8L311.4 118.4M317.4 72.6L318.4 114.9M323.4 66.5L324.2 114.3M308.5 81.6L309.2 120.7M320.8 69.1L322.6 115.2M316.0 74.1L316.8 115.9M320.8 69.1L322.5 115.8M312.3 77.8L313.0 118.4M322.2 67.7L322.5 113.0M322.7 67.3L324.9 114.4M308.2 81.9L310.2 119.6M323.7 66.2L324.0 113.7M318.4 71.6L320.6 114.6M324.1 65.8L324.7 113.3M307.3 82.9L309.3 120.9M324.3 65.6L326.3 111.7" stroke="#F9A03A" stroke-width="0.8" fill="none" stroke-opacity="0.9"/>
<path d="M266.3 122.9 L273.5 116.1 L275 139 L270 145 L266.5 144 Z" stroke="none" stroke-width="1" fill="#F9A03A" fill-opacity="0.75"/>
<path d="M273.0 116.5L274.1 143.1M270.5 118.9L272.0 143.2M272.4 117.1L273.9 143.3M269.4 120.0L270.4 145.0M265.5 123.7L266.9 143.3M270.0 119.4L271.8 144.8M266.9 122.3L267.3 144.5M272.1 117.4L273.2 143.8M268.6 120.7L269.8 143.8M266.1 123.1L267.2 144.2M273.2 116.4L274.1 144.9M268.8 120.6L270.0 143.7M265.7 123.5L267.5 143.7M266.2 123.0L267.1 143.5M268.7 120.6L270.6 143.6M273.6 116.0L275.3 144.9M266.1 123.1L267.6 143.7M266.3 122.9L267.1 143.6M273.9 115.7L274.5 144.6M272.9 116.7L274.9 144.8" stroke="#F9A03A" stroke-width="0.7" fill="none" stroke-opacity="0.9"/>
<path d="M267 143.8 C269.5 143.4 277.6 142.6 281.8 141.5 C286.0 140.4 287.7 139.6 292.0 137.5 C296.3 135.4 302.4 132.7 307.5 129.0 C312.6 125.3 318.3 120.2 322.9 115.5 C327.5 110.8 330.5 106.2 335.0 101.0 C339.5 95.8 345.0 90.5 350.0 84.0 C355.0 77.5 360.0 69.3 365.0 62.0 C370.0 54.7 374.9 47.5 380.0 40.0 C385.1 32.5 391.7 22.7 395.4 17.0 C399.1 11.3 400.9 7.8 402.0 6.0" stroke="#F9A03A" stroke-width="5.0" fill="none" />
<path d="M268.1 142 C270.5 141.6 278.7 140.8 282.9 139.7 C287.0 138.7 288.8 137.8 293.1 135.7 C297.3 133.6 303.4 130.9 308.6 127.2 C313.7 123.6 319.4 118.4 324.0 113.7 C328.5 109.1 331.5 104.5 336.1 99.2 C340.6 94.0 346.1 88.7 351.1 82.2 C356.1 75.7 361.1 67.6 366.1 60.2 C371.1 52.9 376.0 45.7 381.1 38.2 C386.1 30.7 392.8 20.9 396.5 15.2 C400.1 9.6 402.0 6.1 403.1 4.2" stroke="#F9A03A" stroke-width="0.7" fill="none" />
<path d="M266.3 144.9 C268.8 144.6 276.9 143.7 281.1 142.6 C285.3 141.6 287.0 140.7 291.3 138.6 C295.6 136.6 301.7 133.8 306.8 130.1 C312.0 126.5 317.6 121.3 322.2 116.6 C326.8 112.0 329.8 107.4 334.3 102.1 C338.8 96.9 344.3 91.6 349.3 85.1 C354.3 78.6 359.3 70.5 364.3 63.1 C369.3 55.8 374.2 48.6 379.3 41.1 C384.4 33.6 391.0 23.8 394.7 18.1 C398.4 12.5 400.2 9.0 401.3 7.1" stroke="#F9A03A" stroke-width="0.7" fill="none" />
<path d="M266.2 145.1 C268.7 144.7 276.8 143.9 281.0 142.8 C285.2 141.8 286.9 140.9 291.2 138.8 C295.5 136.7 301.6 134.0 306.7 130.3 C311.9 126.6 317.5 121.5 322.1 116.8 C326.7 112.1 329.7 107.6 334.2 102.3 C338.7 97.1 344.2 91.8 349.2 85.3 C354.2 78.8 359.2 70.6 364.2 63.3 C369.2 56.0 374.1 48.8 379.2 41.3 C384.3 33.8 390.9 24.0 394.6 18.3 C398.3 12.6 400.1 9.1 401.2 7.3" stroke="#F9A03A" stroke-width="0.7" fill="none" />
<path d="M267.3 143.2 C269.8 142.8 278.0 142.0 282.1 140.9 C286.3 139.9 288.1 139.0 292.3 136.9 C296.6 134.8 302.7 132.1 307.8 128.4 C313.0 124.8 318.7 119.6 323.2 114.9 C327.8 110.3 330.8 105.7 335.3 100.4 C339.9 95.2 345.3 89.9 350.3 83.4 C355.3 76.9 360.3 68.8 365.3 61.4 C370.3 54.1 375.3 46.9 380.3 39.4 C385.4 31.9 392.1 22.1 395.7 16.4 C399.4 10.8 401.2 7.3 402.3 5.4" stroke="#F9A03A" stroke-width="0.7" fill="none" />
<path d="M268.3 141.6 C270.8 141.2 279.0 140.3 283.1 139.3 C287.3 138.2 289.1 137.3 293.3 135.3 C297.6 133.2 303.7 130.4 308.8 126.8 C314.0 123.1 319.7 117.9 324.2 113.3 C328.8 108.6 331.8 104.0 336.3 98.8 C340.9 93.5 346.3 88.3 351.3 81.8 C356.3 75.3 361.3 67.1 366.3 59.8 C371.3 52.4 376.3 45.3 381.3 37.8 C386.4 30.3 393.1 20.4 396.7 14.8 C400.4 9.1 402.2 5.6 403.3 3.8" stroke="#F9A03A" stroke-width="0.7" fill="none" />
<path d="M225.5 161.3 C227.0 160.0 228.3 158.8 234.5 153.2 C240.7 147.6 253.1 136.5 262.5 127.8 C271.9 119.1 280.5 111.1 290.9 100.8 C301.3 90.5 319.4 71.9 325.1 66.1" stroke="#F9A03A" stroke-width="1.0" fill="none" />
<path d="M225 160.5 C226.5 159.2 227.8 158.0 234.0 152.4 C240.2 146.8 252.6 135.7 262.0 127.0 C271.4 118.3 280.0 110.3 290.4 100.0 C300.8 89.7 318.9 71.1 324.6 65.3" stroke="#D2621C" stroke-width="0.9" fill="none" />
<path d="M224.5 159.7 C226.0 158.3 227.3 157.2 233.5 151.6 C239.7 146.0 252.1 134.9 261.5 126.2 C270.9 117.5 279.5 109.5 289.9 99.2 C300.3 88.9 318.4 70.3 324.1 64.5" stroke="#6E2C0C" stroke-width="0.9" fill="none" />
</g>
<line x1="277" y1="102" x2="292.4" y2="86" stroke="#9a9a9a" stroke-width="2.8" />
<path d="M299.0 79.2 L295.3 90.2 L288.1 83.3 Z" fill="#9a9a9a"/>
<line x1="329.8" y1="118.5" x2="312.6" y2="131.3" stroke="#9a9a9a" stroke-width="2.8" />
<path d="M305.0 137.0 L310.4 126.7 L316.4 134.7 Z" fill="#9a9a9a"/>
<rect x="234" y="14.4" width="161.4" height="160.6" fill="none" stroke="#3a3a3a" stroke-width="1"/>
<line x1="247.8" y1="175" x2="247.8" y2="172" stroke="#3a3a3a" stroke-width="1" />
<line x1="247.8" y1="14.4" x2="247.8" y2="17.4" stroke="#3a3a3a" stroke-width="1" />
<text x="247.8" y="188.2" font-size="10" text-anchor="middle" fill="#1a1a1a" >0.49</text>
<line x1="274.6" y1="175" x2="274.6" y2="172" stroke="#3a3a3a" stroke-width="1" />
<line x1="274.6" y1="14.4" x2="274.6" y2="17.4" stroke="#3a3a3a" stroke-width="1" />
<text x="274.6" y="188.2" font-size="10" text-anchor="middle" fill="#1a1a1a" >0.5</text>
<line x1="301.5" y1="175" x2="301.5" y2="172" stroke="#3a3a3a" stroke-width="1" />
<line x1="301.5" y1="14.4" x2="301.5" y2="17.4" stroke="#3a3a3a" stroke-width="1" />
<text x="301.5" y="188.2" font-size="10" text-anchor="middle" fill="#1a1a1a" >0.51</text>
<line x1="328.3" y1="175" x2="328.3" y2="172" stroke="#3a3a3a" stroke-width="1" />
<line x1="328.3" y1="14.4" x2="328.3" y2="17.4" stroke="#3a3a3a" stroke-width="1" />
<text x="328.3" y="188.2" font-size="10" text-anchor="middle" fill="#1a1a1a" >0.52</text>
<line x1="355.2" y1="175" x2="355.2" y2="172" stroke="#3a3a3a" stroke-width="1" />
<line x1="355.2" y1="14.4" x2="355.2" y2="17.4" stroke="#3a3a3a" stroke-width="1" />
<text x="355.2" y="188.2" font-size="10" text-anchor="middle" fill="#1a1a1a" >0.53</text>
<line x1="382" y1="175" x2="382" y2="172" stroke="#3a3a3a" stroke-width="1" />
<line x1="382" y1="14.4" x2="382" y2="17.4" stroke="#3a3a3a" stroke-width="1" />
<text x="382" y="188.2" font-size="10" text-anchor="middle" fill="#1a1a1a" >0.54</text>
<line x1="234" y1="175" x2="237" y2="175" stroke="#3a3a3a" stroke-width="1" />
<line x1="395.4" y1="175" x2="392.4" y2="175" stroke="#3a3a3a" stroke-width="1" />
<text x="228.8" y="178.6" font-size="10" text-anchor="end" fill="#1a1a1a" >6</text>
<line x1="234" y1="134.8" x2="237" y2="134.8" stroke="#3a3a3a" stroke-width="1" />
<line x1="395.4" y1="134.8" x2="392.4" y2="134.8" stroke="#3a3a3a" stroke-width="1" />
<text x="228.8" y="138.4" font-size="10" text-anchor="end" fill="#1a1a1a" >7</text>
<line x1="234" y1="94.7" x2="237" y2="94.7" stroke="#3a3a3a" stroke-width="1" />
<line x1="395.4" y1="94.7" x2="392.4" y2="94.7" stroke="#3a3a3a" stroke-width="1" />
<text x="228.8" y="98.3" font-size="10" text-anchor="end" fill="#1a1a1a" >8</text>
<line x1="234" y1="54.6" x2="237" y2="54.6" stroke="#3a3a3a" stroke-width="1" />
<line x1="395.4" y1="54.6" x2="392.4" y2="54.6" stroke="#3a3a3a" stroke-width="1" />
<text x="228.8" y="58.2" font-size="10" text-anchor="end" fill="#1a1a1a" >9</text>
<line x1="234" y1="14.4" x2="237" y2="14.4" stroke="#3a3a3a" stroke-width="1" />
<line x1="395.4" y1="14.4" x2="392.4" y2="14.4" stroke="#3a3a3a" stroke-width="1" />
<text x="228.8" y="18" font-size="10" text-anchor="end" fill="#1a1a1a" >10</text>
<text x="314.7" y="203" font-size="10" text-anchor="middle" fill="#1a1a1a" >Packing fraction <tspan font-family="Liberation Serif" font-style="italic" font-size="11">ϕ</tspan></text>
<text x="215.1" y="94.6" font-size="10" text-anchor="middle" fill="#1a1a1a" transform="rotate(-90 215.1 94.6)" >Pressure <tspan font-style="italic">P</tspan><tspan font-size="9" dx="0.8" dy="-3">*</tspan></text>
<text x="206" y="10.3" font-size="14" text-anchor="start" font-weight="bold" fill="#000" >b</text>
<line x1="242.6" y1="26.7" x2="259.1" y2="26.7" stroke="#6B2A0A" stroke-width="1.5" />
<line x1="242.6" y1="38.3" x2="259.1" y2="38.3" stroke="#F7A035" stroke-width="1.8" />
<line x1="242.6" y1="50" x2="259.1" y2="50" stroke="#D0621C" stroke-width="2.2" />
<text x="277.5" y="30.2" font-size="10" text-anchor="start" fill="#1a1a1a" ><tspan font-style="italic">N</tspan> = 1774</text>
<text x="263.3" y="41.8" font-size="10" text-anchor="start" fill="#1a1a1a" >8,</text>
<text x="277.5" y="41.8" font-size="10" text-anchor="start" fill="#1a1a1a" ><tspan font-style="italic">N</tspan> = 1905</text>
<text x="277.5" y="53.5" font-size="10" text-anchor="start" fill="#1a1a1a" ><tspan font-style="italic">N</tspan> = 2166</text>
<defs>
<radialGradient id="gt" cx="0.4" cy="0.36" r="0.66"><stop offset="0" stop-color="#c8f4e0"/><stop offset="0.4" stop-color="#72cfac"/><stop offset="0.9" stop-color="#3a8a6c"/><stop offset="1" stop-color="#2c6a54"/></radialGradient>
<radialGradient id="gg" cx="0.4" cy="0.36" r="0.66"><stop offset="0" stop-color="#6cc884"/><stop offset="0.4" stop-color="#2a9048"/><stop offset="0.9" stop-color="#135a2a"/><stop offset="1" stop-color="#0e4420"/></radialGradient>
<radialGradient id="gw" cx="0.4" cy="0.36" r="0.66"><stop offset="0" stop-color="#ffffff"/><stop offset="0.45" stop-color="#e2e6e8"/><stop offset="1" stop-color="#8e989a"/></radialGradient>
<radialGradient id="rim" cx="0.5" cy="0.5" r="0.5"><stop offset="0.82" stop-color="#1e7040" stop-opacity="0"/><stop offset="0.95" stop-color="#1e7040" stop-opacity="0.6"/><stop offset="1" stop-color="#1e7040" stop-opacity="0.35"/></radialGradient>
<radialGradient id="dshade" cx="0.5" cy="0.5" r="0.5"><stop offset="0.8" stop-color="#600" stop-opacity="0"/><stop offset="1" stop-color="#600" stop-opacity="0.35"/></radialGradient>
<circle id="bt" r="2.55" fill="url(#gt)"/><circle id="bg" r="2.55" fill="url(#gg)"/><circle id="bw" r="2.3" fill="url(#gw)"/>
</defs>
<circle cx="451.7" cy="47.2" r="37.4" fill="#2c6552"/>
<use href="#bt" x="420.6" y="65.4"/><use href="#bw" x="431.6" y="77.1"/><use href="#bt" x="427.9" y="74.5"/><use href="#bt" x="487.7" y="44.9"/><use href="#bt" x="487.2" y="53.9"/><use href="#bw" x="486.0" y="36.0"/><use href="#bt" x="484.7" y="62.0"/><use href="#bt" x="425.2" y="71.8"/><use href="#bg" x="483.0" y="28.7"/><use href="#bw" x="480.3" y="69.6"/><use href="#bg" x="479.1" y="23.7"/><use href="#bg" x="476.4" y="20.8"/><use href="#bt" x="439.8" y="12.9"/><use href="#bt" x="473.7" y="75.9"/><use href="#bg" x="432.9" y="16.1"/><use href="#bt" x="473.0" y="17.8"/><use href="#bt" x="469.1" y="15.6"/><use href="#bg" x="426.1" y="21.3"/><use href="#bw" x="466.7" y="79.9"/><use href="#bg" x="464.8" y="13.6"/><use href="#bt" x="420.8" y="28.8"/><use href="#bt" x="460.5" y="82.4"/><use href="#bt" x="460.0" y="12.0"/><use href="#bg" x="418.8" y="62.0"/><use href="#bt" x="416.2" y="54.1"/><use href="#bt" x="422.5" y="68.4"/><use href="#bt" x="415.6" y="44.9"/><use href="#bt" x="417.1" y="36.5"/><use href="#bt" x="456.9" y="83.1"/><use href="#bt" x="455.4" y="11.2"/><use href="#bt" x="452.6" y="83.3"/><use href="#bt" x="450.6" y="11.2"/><use href="#bg" x="447.9" y="83.2"/><use href="#bw" x="446.3" y="11.5"/><use href="#bt" x="486.2" y="58.0"/><use href="#bg" x="488.0" y="49.7"/><use href="#bt" x="480.9" y="25.9"/><use href="#bt" x="487.1" y="40.6"/><use href="#bt" x="484.5" y="32.1"/><use href="#bt" x="443.4" y="82.3"/><use href="#bt" x="442.8" y="12.2"/><use href="#bg" x="482.6" y="65.6"/><use href="#bt" x="438.5" y="80.9"/><use href="#bt" x="436.5" y="14.3"/><use href="#bt" x="477.2" y="72.8"/><use href="#bt" x="434.1" y="79.0"/><use href="#bw" x="430.4" y="76.5"/><use href="#bt" x="470.5" y="78.0"/><use href="#bt" x="429.9" y="18.5"/><use href="#bw" x="463.6" y="81.5"/><use href="#bt" x="427.2" y="73.8"/><use href="#bt" x="424.4" y="70.8"/><use href="#bt" x="423.2" y="25.0"/><use href="#bt" x="420.6" y="65.6"/><use href="#bt" x="478.2" y="22.9"/><use href="#bg" x="418.7" y="32.3"/><use href="#bt" x="417.2" y="58.4"/><use href="#bt" x="416.1" y="40.3"/><use href="#bw" x="415.5" y="49.5"/><use href="#bt" x="475.2" y="19.7"/><use href="#bt" x="471.8" y="17.0"/><use href="#bw" x="482.7" y="28.8"/><use href="#bt" x="487.3" y="54.0"/><use href="#bt" x="439.9" y="13.1"/><use href="#bw" x="486.1" y="36.4"/><use href="#bt" x="487.7" y="45.2"/><use href="#bg" x="484.8" y="62.0"/><use href="#bw" x="459.8" y="82.4"/><use href="#bt" x="467.3" y="14.6"/><use href="#bt" x="462.6" y="12.8"/><use href="#bt" x="480.3" y="69.5"/><use href="#bt" x="455.8" y="83.1"/><use href="#bt" x="433.2" y="16.1"/><use href="#bt" x="473.9" y="75.9"/><use href="#bw" x="467.1" y="79.7"/><use href="#bw" x="457.8" y="11.7"/><use href="#bt" x="452.8" y="11.3"/><use href="#bt" x="422.6" y="68.4"/><use href="#bg" x="448.4" y="11.4"/><use href="#bt" x="451.2" y="83.2"/><use href="#bg" x="444.4" y="12.2"/><use href="#bt" x="426.5" y="21.3"/><use href="#bt" x="480.1" y="25.3"/><use href="#bt" x="446.3" y="82.6"/><use href="#bt" x="419.1" y="62.0"/><use href="#bw" x="421.1" y="28.5"/><use href="#bt" x="417.6" y="36.5"/><use href="#bt" x="416.6" y="53.9"/><use href="#bt" x="441.2" y="81.6"/><use href="#bw" x="416.0" y="44.8"/><use href="#bt" x="436.4" y="79.5"/><use href="#bt" x="485.8" y="57.7"/><use href="#bt" x="432.1" y="77.1"/><use href="#bt" x="425.3" y="71.5"/><use href="#bw" x="428.6" y="74.7"/><use href="#bt" x="484.3" y="32.5"/><use href="#bw" x="463.0" y="81.2"/><use href="#bw" x="487.6" y="49.6"/><use href="#bt" x="486.7" y="40.6"/><use href="#bt" x="436.9" y="14.5"/><use href="#bt" x="482.6" y="65.6"/><use href="#bt" x="477.2" y="22.4"/><use href="#bg" x="470.3" y="77.7"/><use href="#bg" x="476.8" y="72.4"/><use href="#bt" x="430.1" y="18.8"/><use href="#bg" x="421.0" y="65.4"/><use href="#bt" x="473.8" y="19.5"/><use href="#bt" x="441.5" y="13.2"/><use href="#bt" x="423.9" y="25.1"/><use href="#bg" x="482.0" y="28.7"/><use href="#bt" x="419.5" y="32.8"/><use href="#bt" x="458.5" y="82.1"/><use href="#bt" x="418.0" y="58.0"/><use href="#bt" x="469.8" y="16.6"/><use href="#bg" x="417.0" y="40.4"/><use href="#bg" x="416.3" y="49.4"/><use href="#bt" x="465.2" y="14.4"/><use href="#bt" x="486.6" y="53.9"/><use href="#bg" x="485.5" y="36.7"/><use href="#bw" x="454.2" y="82.6"/><use href="#bt" x="484.0" y="61.2"/><use href="#bt" x="423.8" y="69.0"/><use href="#bg" x="445.9" y="12.2"/><use href="#bw" x="460.2" y="13.0"/><use href="#bt" x="486.8" y="45.1"/><use href="#bw" x="466.0" y="79.4"/><use href="#bw" x="450.3" y="11.9"/><use href="#bt" x="455.1" y="12.2"/><use href="#bt" x="434.2" y="16.9"/><use href="#bg" x="479.5" y="68.8"/><use href="#bw" x="449.2" y="82.2"/><use href="#bw" x="473.3" y="75.0"/><use href="#bw" x="478.8" y="25.2"/><use href="#bt" x="444.2" y="81.3"/><use href="#bt" x="427.2" y="72.1"/><use href="#bg" x="427.4" y="21.9"/><use href="#bt" x="420.0" y="61.7"/><use href="#bt" x="439.1" y="79.7"/><use href="#bt" x="430.5" y="75.2"/><use href="#bg" x="418.4" y="36.6"/><use href="#bw" x="434.6" y="77.6"/><use href="#bt" x="422.0" y="29.1"/><use href="#bt" x="484.9" y="57.3"/><use href="#bt" x="438.4" y="15.2"/><use href="#bt" x="483.4" y="32.7"/><use href="#bw" x="417.7" y="53.8"/><use href="#bt" x="417.0" y="44.7"/><use href="#bt" x="461.8" y="80.7"/><use href="#bt" x="486.3" y="49.5"/><use href="#bg" x="485.8" y="41.0"/><use href="#bt" x="475.6" y="21.9"/><use href="#bt" x="481.4" y="64.7"/><use href="#bt" x="469.3" y="77.0"/><use href="#bt" x="422.6" y="65.7"/><use href="#bt" x="476.1" y="71.6"/><use href="#bt" x="443.1" y="13.8"/><use href="#bt" x="471.7" y="19.3"/><use href="#bg" x="431.3" y="19.5"/><use href="#bt" x="457.0" y="81.2"/><use href="#bt" x="480.6" y="28.7"/><use href="#bt" x="467.7" y="16.7"/><use href="#bw" x="420.5" y="33.0"/><use href="#bt" x="425.0" y="25.9"/><use href="#bt" x="419.3" y="58.0"/><use href="#bt" x="418.3" y="40.8"/><use href="#bt" x="447.9" y="13.5"/><use href="#bw" x="425.8" y="69.3"/><use href="#bg" x="485.4" y="53.6"/><use href="#bw" x="462.5" y="15.0"/><use href="#bt" x="483.0" y="60.8"/><use href="#bt" x="417.6" y="49.4"/><use href="#bw" x="452.5" y="81.1"/><use href="#bg" x="452.2" y="13.2"/><use href="#bg" x="457.6" y="13.6"/><use href="#bt" x="484.3" y="36.8"/><use href="#bt" x="485.4" y="45.3"/><use href="#bt" x="465.1" y="78.3"/><use href="#bw" x="435.5" y="17.7"/><use href="#bg" x="478.4" y="67.9"/><use href="#bt" x="447.4" y="80.5"/><use href="#bt" x="472.8" y="73.6"/><use href="#bw" x="429.4" y="72.3"/><use href="#bt" x="477.0" y="25.3"/><use href="#bt" x="442.4" y="79.5"/><use href="#bw" x="433.3" y="75.0"/><use href="#bg" x="421.4" y="61.8"/><use href="#bw" x="437.3" y="77.4"/><use href="#bt" x="483.8" y="57.1"/><use href="#bt" x="419.9" y="36.8"/><use href="#bw" x="428.7" y="22.9"/><use href="#bt" x="423.4" y="29.7"/><use href="#bt" x="440.2" y="16.0"/><use href="#bt" x="484.7" y="49.1"/><use href="#bt" x="460.2" y="79.4"/><use href="#bw" x="419.3" y="53.7"/><use href="#bt" x="418.7" y="44.9"/><use href="#bt" x="481.5" y="32.7"/><use href="#bt" x="480.2" y="63.7"/><use href="#bt" x="473.4" y="22.2"/><use href="#bt" x="484.1" y="41.3"/><use href="#bt" x="424.7" y="65.7"/><use href="#bt" x="444.8" y="14.9"/><use href="#bt" x="468.3" y="75.5"/><use href="#bt" x="475.4" y="69.9"/><use href="#bt" x="469.2" y="19.6"/><use href="#bw" x="432.6" y="20.6"/><use href="#bt" x="455.6" y="79.7"/><use href="#bg" x="483.5" y="52.9"/><use href="#bt" x="422.2" y="33.8"/><use href="#bt" x="481.7" y="59.9"/><use href="#bt" x="426.6" y="26.6"/><use href="#bt" x="449.9" y="15.0"/><use href="#bg" x="419.9" y="40.9"/><use href="#bg" x="464.8" y="17.6"/><use href="#bt" x="421.2" y="57.6"/><use href="#bt" x="478.3" y="29.0"/><use href="#bt" x="428.2" y="69.3"/><use href="#bw" x="454.6" y="15.2"/><use href="#bw" x="459.9" y="16.0"/><use href="#bw" x="419.5" y="49.2"/><use href="#bw" x="450.9" y="79.3"/><use href="#bt" x="483.8" y="46.0"/><use href="#bt" x="482.1" y="56.3"/><use href="#bw" x="481.9" y="37.5"/><use href="#bw" x="431.9" y="72.1"/><use href="#bt" x="477.4" y="66.0"/><use href="#bt" x="463.4" y="76.6"/><use href="#bt" x="437.1" y="19.1"/><use href="#bg" x="445.7" y="78.5"/><use href="#bt" x="421.5" y="37.4"/><use href="#bt" x="436.0" y="74.5"/><use href="#bt" x="440.9" y="76.9"/><use href="#bt" x="471.4" y="72.1"/><use href="#bt" x="474.8" y="25.9"/><use href="#bw" x="425.1" y="30.5"/><use href="#bt" x="423.7" y="61.4"/><use href="#bt" x="430.0" y="24.3"/><use href="#bt" x="420.7" y="45.3"/><use href="#bt" x="482.7" y="50.1"/><use href="#bt" x="442.0" y="17.5"/><use href="#bt" x="478.8" y="62.0"/><use href="#bt" x="421.2" y="52.8"/><use href="#bt" x="458.5" y="77.3"/><use href="#bt" x="470.8" y="23.1"/><use href="#bw" x="479.2" y="33.7"/><use href="#bt" x="481.7" y="42.2"/><use href="#bt" x="447.2" y="17.2"/><use href="#bw" x="427.4" y="65.2"/><use href="#bg" x="424.3" y="34.6"/><use href="#bt" x="481.3" y="53.8"/><use href="#bt" x="466.5" y="20.7"/><use href="#bt" x="421.9" y="41.4"/><use href="#bt" x="479.9" y="57.9"/><use href="#bt" x="473.8" y="67.7"/><use href="#bg" x="453.9" y="77.3"/><use href="#bt" x="466.8" y="73.3"/><use href="#bt" x="451.9" y="17.0"/><use href="#bt" x="434.5" y="22.4"/><use href="#bt" x="461.9" y="18.8"/><use href="#bw" x="457.0" y="17.7"/><use href="#bw" x="428.2" y="28.6"/><use href="#bw" x="431.2" y="68.5"/><use href="#bt" x="422.2" y="48.6"/><use href="#bt" x="423.4" y="38.0"/><use href="#bt" x="423.6" y="56.8"/><use href="#bt" x="449.3" y="76.8"/><use href="#bt" x="475.7" y="29.9"/><use href="#bt" x="481.2" y="46.7"/><use href="#bt" x="434.9" y="71.3"/><use href="#bt" x="444.3" y="75.6"/><use href="#bt" x="439.5" y="73.6"/><use href="#bt" x="475.9" y="63.7"/><use href="#bg" x="479.2" y="38.0"/><use href="#bw" x="439.2" y="21.1"/><use href="#bt" x="461.6" y="74.3"/><use href="#bt" x="472.0" y="26.5"/><use href="#bt" x="427.1" y="32.5"/><use href="#bt" x="423.4" y="44.5"/><use href="#bt" x="469.7" y="69.6"/><use href="#bt" x="479.9" y="50.7"/><use href="#bw" x="426.9" y="60.9"/><use href="#bt" x="432.4" y="26.7"/><use href="#bt" x="477.3" y="59.7"/><use href="#bt" x="479.0" y="55.3"/><use href="#bg" x="468.0" y="24.1"/><use href="#bt" x="444.6" y="20.2"/><use href="#bg" x="457.0" y="74.8"/><use href="#bw" x="424.1" y="52.5"/><use href="#bt" x="426.1" y="36.2"/><use href="#bw" x="424.6" y="40.5"/><use href="#bt" x="463.4" y="22.1"/><use href="#bg" x="449.2" y="19.5"/><use href="#bw" x="475.9" y="34.2"/><use href="#bt" x="478.9" y="42.7"/><use href="#bt" x="454.1" y="19.7"/><use href="#bw" x="452.4" y="74.8"/><use href="#bw" x="430.4" y="64.7"/><use href="#bw" x="459.0" y="21.0"/><use href="#bt" x="471.9" y="65.3"/><use href="#bt" x="464.8" y="70.8"/><use href="#bg" x="430.7" y="30.6"/><use href="#bg" x="436.7" y="24.7"/><use href="#bt" x="434.4" y="67.7"/><use href="#bt" x="447.6" y="73.6"/><use href="#bt" x="438.4" y="70.2"/><use href="#bt" x="425.2" y="48.0"/><use href="#bg" x="442.9" y="72.2"/><use href="#bw" x="472.4" y="31.1"/><use href="#bt" x="478.1" y="47.3"/><use href="#bt" x="427.2" y="56.4"/><use href="#bt" x="473.5" y="61.3"/><use href="#bt" x="476.9" y="51.9"/><use href="#bw" x="475.7" y="56.8"/><use href="#bt" x="429.3" y="34.7"/><use href="#bt" x="476.2" y="39.2"/><use href="#bt" x="468.6" y="28.1"/><use href="#bt" x="459.8" y="71.6"/><use href="#bt" x="441.7" y="23.6"/><use href="#bw" x="426.5" y="43.9"/><use href="#bt" x="427.5" y="39.3"/><use href="#bg" x="464.9" y="25.5"/><use href="#bt" x="467.4" y="66.8"/><use href="#bg" x="434.5" y="28.9"/><use href="#bt" x="430.5" y="60.1"/><use href="#bt" x="460.6" y="23.9"/><use href="#bt" x="446.7" y="23.0"/><use href="#bt" x="455.0" y="71.8"/><use href="#bw" x="455.9" y="23.0"/><use href="#bt" x="451.6" y="22.8"/><use href="#bt" x="427.6" y="51.4"/><use href="#bt" x="450.6" y="71.7"/><use href="#bt" x="475.6" y="43.8"/><use href="#bt" x="472.9" y="35.7"/><use href="#bt" x="434.1" y="63.3"/><use href="#bt" x="446.1" y="70.2"/><use href="#bw" x="441.8" y="68.8"/><use href="#bg" x="469.4" y="62.5"/><use href="#bt" x="438.1" y="66.2"/><use href="#bt" x="433.0" y="33.1"/><use href="#bt" x="462.5" y="67.9"/><use href="#bt" x="439.3" y="27.6"/><use href="#bt" x="428.8" y="47.1"/><use href="#bt" x="474.9" y="48.4"/><use href="#bt" x="469.0" y="32.3"/><use href="#bt" x="471.6" y="58.4"/><use href="#bt" x="431.3" y="37.5"/><use href="#bt" x="473.3" y="53.4"/><use href="#bg" x="429.7" y="42.6"/><use href="#bt" x="430.7" y="55.2"/><use href="#bt" x="462.1" y="27.2"/><use href="#bt" x="465.4" y="29.6"/><use href="#bg" x="457.9" y="25.8"/><use href="#bt" x="457.7" y="68.2"/><use href="#bt" x="472.4" y="40.0"/><use href="#bt" x="444.1" y="26.7"/><use href="#bt" x="453.8" y="25.8"/><use href="#bg" x="453.2" y="68.6"/><use href="#bt" x="465.0" y="63.7"/><use href="#bt" x="449.2" y="68.5"/><use href="#bt" x="449.1" y="26.0"/><use href="#bt" x="437.5" y="31.7"/><use href="#bt" x="434.3" y="58.9"/><use href="#bt" x="444.9" y="67.1"/><use href="#bt" x="431.6" y="50.9"/><use href="#bw" x="469.2" y="36.9"/><use href="#bw" x="441.6" y="64.7"/><use href="#bt" x="437.8" y="62.1"/><use href="#bw" x="471.8" y="44.9"/><use href="#bt" x="467.2" y="59.5"/><use href="#bt" x="435.2" y="36.1"/><use href="#bt" x="459.4" y="29.0"/><use href="#bt" x="460.7" y="64.8"/><use href="#bt" x="465.7" y="33.7"/><use href="#bt" x="432.4" y="45.8"/><use href="#bt" x="462.5" y="31.2"/><use href="#bt" x="441.8" y="30.5"/><use href="#bw" x="470.9" y="49.9"/><use href="#bt" x="433.5" y="40.9"/><use href="#bt" x="469.2" y="54.8"/><use href="#bg" x="455.5" y="29.0"/><use href="#bt" x="447.8" y="65.3"/><use href="#bw" x="434.5" y="54.3"/><use href="#bt" x="455.9" y="65.2"/><use href="#bg" x="451.7" y="65.4"/><use href="#bt" x="446.9" y="29.8"/><use href="#bg" x="451.5" y="29.3"/><use href="#bw" x="468.5" y="41.0"/><use href="#bt" x="444.9" y="63.4"/><use href="#bt" x="462.5" y="60.5"/><use href="#bg" x="437.8" y="57.5"/><use href="#bt" x="440.2" y="34.9"/><use href="#bt" x="441.3" y="60.6"/><use href="#bw" x="435.5" y="49.7"/><use href="#bt" x="458.5" y="32.1"/><use href="#bg" x="465.1" y="37.9"/><use href="#bt" x="461.8" y="34.9"/><use href="#bt" x="467.6" y="45.8"/><use href="#bt" x="438.4" y="39.4"/><use href="#bg" x="464.3" y="56.0"/><use href="#bt" x="457.6" y="61.5"/><use href="#bt" x="436.5" y="44.4"/><use href="#bw" x="449.1" y="62.1"/><use href="#bt" x="444.8" y="33.8"/><use href="#bt" x="454.2" y="32.3"/><use href="#bg" x="466.0" y="50.9"/><use href="#bt" x="453.3" y="62.1"/><use href="#bt" x="449.8" y="33.1"/><use href="#bt" x="438.8" y="53.3"/><use href="#bt" x="445.7" y="59.7"/><use href="#bt" x="463.9" y="42.3"/><use href="#bt" x="442.5" y="56.7"/><use href="#bg" x="459.5" y="56.9"/><use href="#bw" x="457.3" y="36.1"/><use href="#bt" x="443.3" y="38.2"/><use href="#bt" x="460.6" y="39.1"/><use href="#bt" x="439.9" y="48.4"/><use href="#bw" x="450.4" y="58.3"/><use href="#bt" x="454.7" y="57.9"/><use href="#bw" x="462.6" y="47.2"/><use href="#bg" x="441.5" y="43.3"/><use href="#bt" x="461.1" y="52.3"/><use href="#bt" x="453.0" y="36.6"/><use href="#bt" x="448.2" y="37.3"/><use href="#bt" x="443.4" y="52.1"/><use href="#bg" x="447.2" y="55.5"/><use href="#bt" x="459.6" y="43.5"/><use href="#bt" x="456.3" y="40.1"/><use href="#bw" x="456.3" y="53.4"/><use href="#bt" x="446.6" y="42.0"/><use href="#bt" x="451.7" y="54.1"/><use href="#bt" x="445.2" y="47.0"/><use href="#bt" x="457.7" y="48.6"/><use href="#bg" x="451.6" y="41.1"/><use href="#bt" x="448.4" y="50.7"/><use href="#bg" x="454.8" y="45.0"/><use href="#bt" x="453.2" y="49.8"/><use href="#bt" x="450.1" y="45.9"/>
<circle cx="451.7" cy="47.2" r="38.6" fill="url(#rim)" opacity="0.5"/>
<clipPath id="dcc"><circle cx="475.4" cy="79.4" r="16.6"/></clipPath>
<circle cx="475.4" cy="79.4" r="16.6" fill="#d81404"/>
<g clip-path="url(#dcc)"><circle cx="465.2" cy="69.4" r="1.3" fill="#f03a08"/><circle cx="474.4" cy="63.5" r="0.9" fill="#a00800"/><circle cx="487.9" cy="74.7" r="0.7" fill="#f03a08"/><circle cx="467.3" cy="81.0" r="1.0" fill="#a00800"/><circle cx="483.1" cy="80.0" r="1.2" fill="#a00800"/><circle cx="476.1" cy="72.8" r="0.7" fill="#f03a08"/><circle cx="471.0" cy="75.4" r="1.2" fill="#a00800"/><circle cx="477.3" cy="86.9" r="1.2" fill="#ff7a20"/><circle cx="471.4" cy="95.2" r="1.1" fill="#a00800"/><circle cx="479.9" cy="94.9" r="1.3" fill="#f03a08"/><circle cx="482.5" cy="73.8" r="0.7" fill="#a00800"/><circle cx="478.0" cy="82.8" r="1.0" fill="#a00800"/><circle cx="489.1" cy="79.7" r="0.8" fill="#a00800"/><circle cx="480.2" cy="68.9" r="0.9" fill="#a00800"/><circle cx="474.3" cy="75.6" r="0.6" fill="#ff7a20"/><circle cx="475.4" cy="64.1" r="1.2" fill="#a00800"/><circle cx="467.0" cy="88.8" r="0.6" fill="#a00800"/><circle cx="482.2" cy="94.1" r="1.1" fill="#a00800"/><circle cx="490.0" cy="72.5" r="0.8" fill="#a00800"/><circle cx="461.0" cy="77.1" r="1.1" fill="#a00800"/><circle cx="479.9" cy="64.7" r="1.3" fill="#a00800"/><circle cx="483.5" cy="84.7" r="1.2" fill="#f03a08"/><circle cx="466.9" cy="92.9" r="0.8" fill="#a00800"/><circle cx="472.6" cy="85.8" r="0.7" fill="#a00800"/><circle cx="469.2" cy="64.0" r="0.6" fill="#a00800"/><circle cx="487.5" cy="78.4" r="0.8" fill="#a00800"/><circle cx="462.9" cy="71.0" r="0.9" fill="#a00800"/><circle cx="490.3" cy="84.8" r="0.9" fill="#a00800"/><circle cx="478.6" cy="74.3" r="1.3" fill="#f03a08"/><circle cx="465.3" cy="68.6" r="0.9" fill="#a00800"/><circle cx="484.4" cy="91.7" r="0.9" fill="#a00800"/><circle cx="490.7" cy="79.3" r="0.9" fill="#ff7a20"/><circle cx="461.3" cy="80.5" r="0.8" fill="#a00800"/><circle cx="470.2" cy="83.0" r="1.3" fill="#a00800"/><circle cx="488.1" cy="76.1" r="0.8" fill="#a00800"/><circle cx="482.7" cy="84.0" r="1.2" fill="#f03a08"/><circle cx="465.9" cy="90.7" r="1.1" fill="#f03a08"/><circle cx="468.0" cy="67.0" r="1.1" fill="#a00800"/><circle cx="473.2" cy="90.8" r="1.1" fill="#f03a08"/><circle cx="471.0" cy="94.9" r="1.0" fill="#f03a08"/><circle cx="487.6" cy="80.3" r="1.1" fill="#a00800"/><circle cx="460.8" cy="82.9" r="1.2" fill="#f03a08"/><circle cx="467.7" cy="90.3" r="1.2" fill="#f03a08"/><circle cx="466.4" cy="91.7" r="1.1" fill="#f03a08"/><circle cx="491.5" cy="77.0" r="1.0" fill="#a00800"/><circle cx="483.0" cy="92.5" r="0.9" fill="#ff7a20"/><circle cx="470.3" cy="66.3" r="0.7" fill="#f03a08"/><circle cx="477.8" cy="67.0" r="0.9" fill="#f03a08"/><circle cx="465.0" cy="69.2" r="1.1" fill="#f03a08"/><circle cx="481.9" cy="80.5" r="1.1" fill="#a00800"/><circle cx="478.1" cy="92.9" r="0.6" fill="#f03a08"/><circle cx="467.6" cy="80.8" r="0.7" fill="#a00800"/><circle cx="472.5" cy="85.8" r="0.6" fill="#a00800"/><circle cx="465.4" cy="81.6" r="1.0" fill="#f03a08"/><circle cx="476.6" cy="95.1" r="0.9" fill="#a00800"/><circle cx="473.5" cy="89.9" r="1.2" fill="#a00800"/><circle cx="473.2" cy="81.6" r="0.7" fill="#f03a08"/><circle cx="466.1" cy="76.7" r="1.3" fill="#f03a08"/><circle cx="479.9" cy="69.6" r="1.0" fill="#f03a08"/><circle cx="471.1" cy="84.0" r="1.0" fill="#f03a08"/><circle cx="491.1" cy="75.1" r="0.8" fill="#f03a08"/><circle cx="475.8" cy="79.1" r="1.0" fill="#a00800"/><circle cx="470.7" cy="75.3" r="1.2" fill="#f03a08"/><circle cx="467.6" cy="87.1" r="0.8" fill="#a00800"/><circle cx="485.5" cy="77.6" r="1.2" fill="#ff7a20"/><circle cx="468.4" cy="74.6" r="0.9" fill="#ff7a20"/><circle cx="467.3" cy="84.1" r="0.9" fill="#ff7a20"/><circle cx="472.8" cy="90.6" r="1.0" fill="#a00800"/><circle cx="467.0" cy="82.5" r="1.2" fill="#f03a08"/><circle cx="487.5" cy="80.4" r="1.3" fill="#a00800"/><circle cx="477.0" cy="71.3" r="0.7" fill="#a00800"/><circle cx="484.4" cy="78.8" r="0.9" fill="#f03a08"/><circle cx="467.5" cy="69.2" r="0.7" fill="#f03a08"/><circle cx="476.0" cy="70.3" r="0.8" fill="#a00800"/><circle cx="471.9" cy="91.0" r="0.9" fill="#a00800"/><circle cx="475.0" cy="66.6" r="0.8" fill="#a00800"/><circle cx="460.1" cy="83.8" r="1.0" fill="#f03a08"/><circle cx="490.0" cy="80.7" r="1.0" fill="#a00800"/><circle cx="472.0" cy="66.7" r="1.2" fill="#a00800"/><circle cx="467.6" cy="86.2" r="0.7" fill="#f03a08"/><circle cx="471.0" cy="93.9" r="1.2" fill="#a00800"/><circle cx="471.7" cy="69.1" r="1.1" fill="#a00800"/><circle cx="480.7" cy="76.1" r="1.0" fill="#a00800"/><circle cx="465.9" cy="79.5" r="1.0" fill="#a00800"/><circle cx="477.0" cy="75.4" r="1.2" fill="#a00800"/><circle cx="478.9" cy="66.3" r="1.1" fill="#a00800"/><circle cx="491.8" cy="77.2" r="0.6" fill="#f03a08"/><circle cx="479.6" cy="72.9" r="1.3" fill="#f03a08"/><circle cx="474.0" cy="73.5" r="1.2" fill="#a00800"/><circle cx="483.0" cy="89.9" r="0.7" fill="#a00800"/><circle cx="472.9" cy="77.0" r="0.9" fill="#a00800"/><circle cx="479.0" cy="81.1" r="1.1" fill="#f03a08"/><circle cx="479.8" cy="75.2" r="0.8" fill="#a00800"/><circle cx="466.0" cy="72.6" r="0.9" fill="#ff7a20"/><circle cx="488.4" cy="84.2" r="1.0" fill="#a00800"/><circle cx="459.6" cy="78.8" r="1.0" fill="#f03a08"/><circle cx="474.4" cy="91.7" r="1.1" fill="#a00800"/><circle cx="469.4" cy="78.8" r="0.9" fill="#a00800"/><circle cx="474.8" cy="72.4" r="1.1" fill="#f03a08"/><circle cx="487.1" cy="86.3" r="0.7" fill="#a00800"/><circle cx="468.7" cy="74.9" r="0.9" fill="#f03a08"/><circle cx="468.8" cy="92.7" r="1.1" fill="#a00800"/><circle cx="481.5" cy="81.5" r="1.1" fill="#ff7a20"/><circle cx="476.4" cy="85.0" r="1.1" fill="#ff7a20"/><circle cx="478.1" cy="73.8" r="0.8" fill="#f03a08"/><circle cx="476.3" cy="88.9" r="0.8" fill="#f03a08"/><circle cx="470.8" cy="83.4" r="1.1" fill="#f03a08"/><circle cx="479.1" cy="69.1" r="1.0" fill="#f03a08"/><circle cx="464.9" cy="72.5" r="0.9" fill="#f03a08"/><circle cx="477.9" cy="81.1" r="0.6" fill="#a00800"/><circle cx="484.2" cy="72.0" r="0.6" fill="#f03a08"/><circle cx="460.0" cy="82.3" r="0.9" fill="#f03a08"/><circle cx="470.3" cy="80.5" r="0.7" fill="#a00800"/><circle cx="468.1" cy="86.7" r="0.7" fill="#f03a08"/><circle cx="475.2" cy="88.1" r="0.8" fill="#a00800"/><circle cx="476.5" cy="90.9" r="1.2" fill="#a00800"/><circle cx="464.5" cy="91.2" r="1.1" fill="#f03a08"/><circle cx="459.5" cy="82.3" r="1.1" fill="#a00800"/><circle cx="471.9" cy="92.6" r="0.7" fill="#f03a08"/><circle cx="476.2" cy="81.9" r="0.7" fill="#a00800"/><circle cx="462.1" cy="88.9" r="0.8" fill="#a00800"/><circle cx="466.7" cy="81.2" r="1.1" fill="#f03a08"/><circle cx="479.6" cy="86.4" r="1.3" fill="#f03a08"/><circle cx="468.8" cy="70.8" r="0.6" fill="#ff7a20"/><circle cx="489.0" cy="84.9" r="0.6" fill="#a00800"/><circle cx="459.6" cy="74.5" r="0.8" fill="#a00800"/><circle cx="479.1" cy="81.9" r="0.9" fill="#f03a08"/><circle cx="478.9" cy="77.9" r="0.6" fill="#a00800"/><circle cx="472.1" cy="81.8" r="0.9" fill="#a00800"/><circle cx="474.1" cy="82.9" r="1.3" fill="#a00800"/><circle cx="480.5" cy="90.1" r="1.0" fill="#a00800"/><circle cx="483.4" cy="84.1" r="1.0" fill="#a00800"/><circle cx="486.7" cy="73.3" r="0.8" fill="#f03a08"/><circle cx="487.5" cy="80.7" r="1.0" fill="#a00800"/><circle cx="466.0" cy="88.6" r="1.2" fill="#f03a08"/><circle cx="471.5" cy="89.8" r="0.8" fill="#f03a08"/><circle cx="482.3" cy="85.6" r="1.1" fill="#a00800"/><circle cx="479.3" cy="71.0" r="0.7" fill="#a00800"/><circle cx="475.6" cy="84.2" r="1.0" fill="#a00800"/><circle cx="475.5" cy="83.5" r="0.6" fill="#f03a08"/><circle cx="478.2" cy="87.8" r="0.7" fill="#a00800"/><circle cx="467.2" cy="83.9" r="1.0" fill="#f03a08"/><circle cx="486.1" cy="71.2" r="1.0" fill="#f03a08"/><circle cx="461.4" cy="84.7" r="1.3" fill="#f03a08"/><circle cx="473.5" cy="65.6" r="1.2" fill="#a00800"/><circle cx="471.0" cy="83.4" r="0.7" fill="#a00800"/><circle cx="474.3" cy="93.0" r="0.6" fill="#a00800"/><circle cx="476.5" cy="67.1" r="0.6" fill="#a00800"/><circle cx="482.2" cy="86.6" r="1.3" fill="#f03a08"/><circle cx="469.3" cy="74.2" r="0.9" fill="#a00800"/><circle cx="474.5" cy="81.0" r="1.2" fill="#f03a08"/><circle cx="474.7" cy="74.3" r="0.7" fill="#a00800"/><circle cx="472.6" cy="68.7" r="1.2" fill="#ff7a20"/><circle cx="482.3" cy="85.7" r="0.9" fill="#f03a08"/><circle cx="465.3" cy="83.8" r="1.3" fill="#f03a08"/><circle cx="459.4" cy="76.1" r="0.7" fill="#f03a08"/><circle cx="479.6" cy="69.5" r="1.3" fill="#a00800"/><circle cx="487.7" cy="82.0" r="1.2" fill="#a00800"/><circle cx="469.4" cy="84.2" r="0.7" fill="#a00800"/><circle cx="466.2" cy="75.6" r="0.8" fill="#f03a08"/><circle cx="470.5" cy="86.0" r="1.2" fill="#ff7a20"/><circle cx="483.1" cy="68.8" r="0.7" fill="#a00800"/><circle cx="481.1" cy="69.3" r="0.7" fill="#a00800"/><circle cx="486.8" cy="87.6" r="0.7" fill="#f03a08"/><circle cx="478.2" cy="70.4" r="1.2" fill="#f03a08"/><circle cx="464.8" cy="69.0" r="0.6" fill="#a00800"/><circle cx="462.7" cy="78.5" r="0.9" fill="#a00800"/><circle cx="474.3" cy="81.9" r="0.9" fill="#a00800"/><circle cx="461.6" cy="81.5" r="1.3" fill="#a00800"/><circle cx="481.8" cy="64.8" r="1.1" fill="#f03a08"/><circle cx="461.0" cy="76.0" r="1.0" fill="#a00800"/><circle cx="470.3" cy="68.6" r="0.7" fill="#a00800"/><circle cx="483.9" cy="84.6" r="1.1" fill="#f03a08"/><circle cx="473.4" cy="70.4" r="0.8" fill="#ff7a20"/><circle cx="474.5" cy="75.0" r="1.1" fill="#f03a08"/><circle cx="490.5" cy="75.2" r="1.2" fill="#f03a08"/><circle cx="474.5" cy="66.5" r="1.0" fill="#a00800"/><circle cx="481.8" cy="74.5" r="1.0" fill="#ff7a20"/><circle cx="474.7" cy="80.0" r="0.7" fill="#a00800"/><circle cx="466.4" cy="66.5" r="1.0" fill="#f03a08"/><circle cx="471.3" cy="83.0" r="1.0" fill="#f03a08"/><circle cx="473.2" cy="69.5" r="0.7" fill="#f03a08"/><circle cx="472.5" cy="87.5" r="1.2" fill="#f03a08"/><circle cx="481.9" cy="90.9" r="0.8" fill="#f03a08"/><circle cx="486.9" cy="84.2" r="1.2" fill="#f03a08"/><circle cx="473.9" cy="68.8" r="1.0" fill="#a00800"/><circle cx="482.9" cy="74.3" r="1.0" fill="#a00800"/><circle cx="482.4" cy="77.9" r="0.7" fill="#a00800"/><circle cx="463.5" cy="74.5" r="0.7" fill="#a00800"/><circle cx="464.3" cy="71.9" r="1.1" fill="#f03a08"/><circle cx="486.1" cy="83.7" r="1.3" fill="#f03a08"/><circle cx="469.0" cy="93.3" r="1.2" fill="#f03a08"/><circle cx="477.2" cy="93.1" r="0.9" fill="#f03a08"/><circle cx="481.3" cy="83.7" r="0.7" fill="#a00800"/><circle cx="482.9" cy="90.0" r="1.1" fill="#a00800"/><circle cx="474.1" cy="64.5" r="1.1" fill="#f03a08"/><circle cx="489.8" cy="71.9" r="1.3" fill="#f03a08"/><circle cx="479.6" cy="82.6" r="0.7" fill="#a00800"/><circle cx="467.5" cy="87.4" r="1.1" fill="#f03a08"/><circle cx="484.5" cy="84.7" r="0.9" fill="#a00800"/></g>
<circle cx="475.4" cy="79.4" r="16.6" fill="url(#dshade)"/>
<circle cx="569.8" cy="48.0" r="37.5" fill="#2c6552"/>
<use href="#bg" x="543.7" y="73.0"/><use href="#bw" x="538.3" y="65.4"/><use href="#bt" x="553.1" y="15.8"/><use href="#bt" x="603.6" y="35.7"/><use href="#bt" x="590.6" y="18.3"/><use href="#bt" x="585.8" y="80.4"/><use href="#bt" x="573.3" y="84.2"/><use href="#bg" x="547.1" y="76.2"/><use href="#bg" x="606.2" y="48.2"/><use href="#bt" x="564.9" y="12.2"/><use href="#bt" x="536.3" y="61.3"/><use href="#bt" x="537.7" y="31.1"/><use href="#bt" x="596.4" y="72.5"/><use href="#bt" x="594.5" y="21.5"/><use href="#bg" x="551.3" y="79.1"/><use href="#bt" x="603.6" y="61.6"/><use href="#bt" x="533.9" y="44.0"/><use href="#bt" x="546.1" y="20.7"/><use href="#bt" x="597.9" y="24.9"/><use href="#bt" x="602.4" y="31.8"/><use href="#bt" x="555.9" y="81.6"/><use href="#bt" x="534.8" y="57.3"/><use href="#bw" x="578.0" y="83.5"/><use href="#bg" x="569.7" y="11.7"/><use href="#bg" x="557.2" y="14.1"/><use href="#bt" x="605.7" y="43.2"/><use href="#bt" x="600.0" y="27.9"/><use href="#bg" x="589.8" y="78.2"/><use href="#bt" x="560.8" y="83.3"/><use href="#bg" x="574.1" y="12.0"/><use href="#bt" x="605.0" y="56.9"/><use href="#bt" x="539.8" y="27.1"/><use href="#bt" x="599.6" y="68.6"/><use href="#bg" x="534.5" y="39.0"/><use href="#bt" x="565.8" y="84.2"/><use href="#bt" x="578.7" y="12.6"/><use href="#bt" x="549.6" y="17.6"/><use href="#bt" x="539.5" y="67.7"/><use href="#bg" x="534.0" y="53.0"/><use href="#bt" x="582.3" y="82.0"/><use href="#bt" x="569.9" y="84.3"/><use href="#bt" x="561.8" y="12.8"/><use href="#bw" x="605.0" y="38.8"/><use href="#bt" x="583.7" y="14.4"/><use href="#bt" x="537.4" y="63.8"/><use href="#bt" x="541.7" y="71.4"/><use href="#bt" x="593.6" y="75.2"/><use href="#bt" x="605.8" y="51.8"/><use href="#bt" x="536.3" y="34.5"/><use href="#bt" x="588.4" y="16.6"/><use href="#bg" x="545.1" y="74.5"/><use href="#bg" x="543.1" y="23.4"/><use href="#bt" x="602.1" y="64.9"/><use href="#bg" x="603.4" y="34.6"/><use href="#bg" x="574.4" y="83.9"/><use href="#bg" x="533.4" y="47.9"/><use href="#bt" x="592.5" y="19.8"/><use href="#bt" x="566.4" y="11.8"/><use href="#bt" x="553.8" y="15.5"/><use href="#bg" x="548.8" y="77.5"/><use href="#bt" x="535.9" y="60.4"/><use href="#bt" x="586.4" y="80.2"/><use href="#bt" x="601.5" y="30.5"/><use href="#bt" x="596.1" y="22.9"/><use href="#bt" x="606.0" y="47.0"/><use href="#bt" x="538.4" y="30.4"/><use href="#bt" x="553.2" y="80.2"/><use href="#bt" x="599.0" y="26.6"/><use href="#bt" x="596.9" y="71.8"/><use href="#bt" x="603.9" y="60.4"/><use href="#bg" x="579.0" y="83.0"/><use href="#bt" x="558.0" y="82.0"/><use href="#bg" x="570.8" y="12.0"/><use href="#bt" x="546.5" y="20.2"/><use href="#bt" x="533.9" y="42.9"/><use href="#bt" x="538.8" y="66.4"/><use href="#bt" x="558.2" y="14.1"/><use href="#bg" x="534.6" y="56.2"/><use href="#bt" x="562.7" y="83.4"/><use href="#bt" x="605.4" y="41.9"/><use href="#bg" x="575.8" y="12.3"/><use href="#bt" x="567.2" y="83.8"/><use href="#bg" x="590.2" y="77.7"/><use href="#bt" x="540.6" y="69.4"/><use href="#bt" x="571.4" y="84.1"/><use href="#bg" x="540.7" y="26.8"/><use href="#bg" x="604.8" y="55.9"/><use href="#bt" x="599.8" y="67.8"/><use href="#bt" x="535.2" y="38.2"/><use href="#bt" x="580.4" y="13.7"/><use href="#bt" x="550.2" y="18.0"/><use href="#bg" x="537.0" y="62.8"/><use href="#bg" x="543.7" y="72.2"/><use href="#bt" x="562.9" y="13.0"/><use href="#bt" x="582.8" y="81.3"/><use href="#bt" x="604.3" y="37.5"/><use href="#bg" x="534.2" y="51.6"/><use href="#bt" x="585.1" y="15.7"/><use href="#bt" x="575.4" y="83.5"/><use href="#bt" x="602.5" y="33.0"/><use href="#bw" x="546.8" y="75.5"/><use href="#bt" x="537.1" y="33.8"/><use href="#bt" x="589.7" y="18.5"/><use href="#bg" x="605.4" y="50.7"/><use href="#bt" x="594.0" y="74.4"/><use href="#bg" x="544.1" y="23.4"/><use href="#bg" x="602.0" y="63.8"/><use href="#bt" x="599.7" y="28.7"/><use href="#bt" x="593.8" y="21.6"/><use href="#bt" x="550.7" y="78.3"/><use href="#bt" x="567.5" y="12.6"/><use href="#bg" x="536.1" y="59.3"/><use href="#bg" x="597.1" y="25.0"/><use href="#bt" x="554.6" y="15.9"/><use href="#bg" x="534.1" y="46.7"/><use href="#bg" x="539.2" y="30.1"/><use href="#bt" x="555.3" y="80.4"/><use href="#bt" x="539.4" y="66.1"/><use href="#bt" x="586.5" y="79.3"/><use href="#bg" x="605.3" y="45.8"/><use href="#bt" x="560.0" y="81.8"/><use href="#bt" x="564.3" y="82.8"/><use href="#bg" x="579.1" y="82.2"/><use href="#bg" x="572.5" y="12.9"/><use href="#bg" x="547.4" y="20.7"/><use href="#bt" x="568.6" y="83.2"/><use href="#bg" x="603.1" y="59.3"/><use href="#bt" x="572.3" y="83.3"/><use href="#bt" x="597.1" y="70.7"/><use href="#bw" x="534.9" y="41.9"/><use href="#bg" x="541.7" y="69.4"/><use href="#bg" x="535.4" y="55.1"/><use href="#bw" x="559.3" y="14.3"/><use href="#bt" x="604.1" y="40.9"/><use href="#bg" x="577.0" y="13.6"/><use href="#bg" x="542.2" y="26.5"/><use href="#bt" x="537.9" y="62.9"/><use href="#bg" x="545.0" y="72.5"/><use href="#bg" x="590.0" y="76.4"/><use href="#bt" x="536.6" y="37.3"/><use href="#bt" x="602.8" y="36.6"/><use href="#bw" x="604.2" y="54.5"/><use href="#bt" x="582.0" y="15.2"/><use href="#bg" x="599.6" y="66.5"/><use href="#bg" x="551.4" y="18.6"/><use href="#bt" x="535.1" y="50.3"/><use href="#bt" x="582.5" y="80.2"/><use href="#bt" x="564.1" y="13.8"/><use href="#bg" x="575.6" y="82.4"/><use href="#bg" x="548.6" y="75.7"/><use href="#bt" x="600.7" y="31.7"/><use href="#bt" x="586.5" y="17.5"/><use href="#bg" x="538.5" y="33.2"/><use href="#bg" x="545.1" y="23.5"/><use href="#bt" x="597.9" y="27.7"/><use href="#bt" x="590.9" y="20.7"/><use href="#bg" x="594.4" y="23.9"/><use href="#bt" x="552.9" y="78.1"/><use href="#bg" x="601.4" y="62.0"/><use href="#bg" x="604.4" y="49.5"/><use href="#bt" x="537.0" y="58.8"/><use href="#bg" x="540.4" y="29.9"/><use href="#bt" x="593.6" y="73.0"/><use href="#bt" x="540.6" y="66.1"/><use href="#bt" x="558.0" y="80.0"/><use href="#bg" x="569.2" y="13.6"/><use href="#bt" x="535.6" y="45.8"/><use href="#bt" x="571.1" y="82.4"/><use href="#bt" x="562.7" y="81.4"/><use href="#bt" x="567.0" y="82.2"/><use href="#bt" x="555.5" y="17.0"/><use href="#bt" x="603.8" y="44.6"/><use href="#bg" x="586.4" y="77.7"/><use href="#bt" x="578.8" y="80.9"/><use href="#bg" x="573.9" y="14.1"/><use href="#bg" x="548.5" y="21.6"/><use href="#bg" x="543.2" y="69.4"/><use href="#bt" x="536.4" y="41.0"/><use href="#bt" x="602.4" y="57.6"/><use href="#bg" x="543.6" y="26.7"/><use href="#bt" x="536.5" y="54.3"/><use href="#bt" x="596.4" y="68.9"/><use href="#bg" x="602.4" y="40.1"/><use href="#bg" x="578.7" y="15.5"/><use href="#bt" x="560.8" y="15.7"/><use href="#bg" x="539.4" y="62.3"/><use href="#bt" x="538.1" y="36.6"/><use href="#bg" x="547.1" y="72.4"/><use href="#bt" x="574.4" y="80.9"/><use href="#bg" x="600.8" y="35.3"/><use href="#bt" x="602.8" y="52.9"/><use href="#bg" x="583.2" y="17.7"/><use href="#bg" x="540.1" y="32.9"/><use href="#bg" x="589.7" y="74.6"/><use href="#bg" x="598.8" y="64.5"/><use href="#bt" x="536.8" y="49.3"/><use href="#bt" x="597.9" y="30.6"/><use href="#bw" x="587.5" y="20.3"/><use href="#bt" x="542.1" y="29.7"/><use href="#bg" x="582.4" y="78.5"/><use href="#bt" x="552.7" y="19.9"/><use href="#bg" x="551.2" y="75.1"/><use href="#bg" x="591.6" y="23.3"/><use href="#bt" x="594.8" y="26.4"/><use href="#bt" x="565.5" y="15.3"/><use href="#bt" x="546.6" y="25.0"/><use href="#bg" x="600.2" y="60.8"/><use href="#bg" x="602.6" y="48.2"/><use href="#bt" x="569.9" y="80.7"/><use href="#bw" x="556.0" y="77.7"/><use href="#bt" x="538.6" y="57.9"/><use href="#bt" x="565.5" y="80.2"/><use href="#bt" x="560.8" y="79.3"/><use href="#bt" x="542.4" y="65.5"/><use href="#bt" x="537.4" y="44.3"/><use href="#bg" x="570.8" y="15.4"/><use href="#bt" x="592.9" y="70.8"/><use href="#bg" x="577.6" y="79.1"/><use href="#bw" x="557.1" y="18.4"/><use href="#bt" x="601.8" y="43.9"/><use href="#bg" x="575.4" y="16.3"/><use href="#bt" x="600.8" y="56.3"/><use href="#bt" x="585.7" y="75.8"/><use href="#bt" x="538.8" y="39.8"/><use href="#bt" x="544.8" y="27.9"/><use href="#bt" x="545.7" y="68.7"/><use href="#bt" x="549.9" y="23.1"/><use href="#bt" x="595.4" y="66.8"/><use href="#bt" x="538.5" y="53.3"/><use href="#bt" x="540.8" y="35.7"/><use href="#bg" x="579.7" y="17.9"/><use href="#bt" x="600.0" y="39.2"/><use href="#bt" x="542.6" y="31.9"/><use href="#bt" x="541.6" y="61.7"/><use href="#bg" x="600.9" y="51.8"/><use href="#bt" x="572.9" y="79.4"/><use href="#bt" x="562.2" y="17.8"/><use href="#bw" x="584.0" y="20.1"/><use href="#bt" x="549.3" y="71.7"/><use href="#bt" x="597.2" y="63.0"/><use href="#bg" x="588.4" y="22.8"/><use href="#bg" x="598.0" y="34.5"/><use href="#bg" x="588.8" y="72.6"/><use href="#bg" x="591.8" y="26.2"/><use href="#bg" x="594.8" y="30.0"/><use href="#bt" x="581.5" y="76.8"/><use href="#bt" x="598.7" y="59.0"/><use href="#bt" x="538.9" y="48.1"/><use href="#bt" x="554.0" y="74.5"/><use href="#bt" x="548.2" y="26.5"/><use href="#bt" x="568.1" y="78.6"/><use href="#bt" x="554.3" y="21.6"/><use href="#bt" x="567.2" y="17.7"/><use href="#bt" x="558.9" y="76.4"/><use href="#bt" x="563.7" y="77.8"/><use href="#bw" x="600.0" y="47.7"/><use href="#bt" x="544.9" y="64.6"/><use href="#bt" x="591.7" y="68.6"/><use href="#bw" x="572.0" y="18.0"/><use href="#bt" x="541.2" y="56.8"/><use href="#bt" x="540.3" y="43.3"/><use href="#bt" x="599.2" y="54.7"/><use href="#bt" x="545.6" y="30.4"/><use href="#bt" x="576.4" y="18.8"/><use href="#bt" x="576.5" y="77.1"/><use href="#bt" x="541.7" y="38.7"/><use href="#bg" x="599.0" y="43.0"/><use href="#bt" x="584.8" y="73.3"/><use href="#bt" x="559.1" y="20.5"/><use href="#bg" x="594.0" y="64.9"/><use href="#bt" x="543.5" y="34.5"/><use href="#bg" x="580.7" y="20.6"/><use href="#bg" x="551.7" y="25.1"/><use href="#bt" x="548.4" y="67.7"/><use href="#bg" x="584.6" y="22.9"/><use href="#bg" x="595.7" y="61.1"/><use href="#bg" x="541.1" y="51.8"/><use href="#bt" x="596.8" y="38.6"/><use href="#bt" x="598.3" y="50.9"/><use href="#bg" x="597.0" y="57.4"/><use href="#bg" x="571.6" y="76.8"/><use href="#bg" x="588.0" y="25.9"/><use href="#bg" x="544.1" y="60.3"/><use href="#bg" x="563.8" y="20.0"/><use href="#bt" x="552.4" y="70.7"/><use href="#bt" x="594.4" y="33.8"/><use href="#bg" x="591.4" y="29.7"/><use href="#bg" x="588.0" y="69.9"/><use href="#bg" x="549.0" y="28.7"/><use href="#bg" x="566.8" y="75.7"/><use href="#bt" x="579.9" y="74.0"/><use href="#bt" x="557.2" y="72.8"/><use href="#bt" x="569.0" y="20.3"/><use href="#bt" x="541.9" y="46.8"/><use href="#bt" x="562.1" y="74.5"/><use href="#bt" x="556.0" y="23.9"/><use href="#bg" x="597.2" y="46.9"/><use href="#bt" x="573.2" y="20.9"/><use href="#bt" x="577.4" y="21.8"/><use href="#bt" x="547.0" y="33.3"/><use href="#bt" x="590.5" y="65.8"/><use href="#bg" x="596.5" y="53.9"/><use href="#bt" x="547.6" y="63.6"/><use href="#bt" x="543.2" y="42.0"/><use href="#bg" x="581.2" y="23.6"/><use href="#bg" x="545.1" y="37.6"/><use href="#bt" x="544.1" y="55.7"/><use href="#bt" x="592.6" y="61.7"/><use href="#bt" x="575.1" y="73.9"/><use href="#bg" x="594.2" y="58.0"/><use href="#bt" x="561.0" y="23.0"/><use href="#bt" x="595.7" y="42.4"/><use href="#bg" x="583.4" y="70.3"/><use href="#bg" x="553.5" y="27.5"/><use href="#bt" x="584.5" y="26.5"/><use href="#bt" x="551.5" y="66.3"/><use href="#bg" x="595.5" y="50.2"/><use href="#bt" x="593.5" y="37.7"/><use href="#bt" x="587.5" y="29.5"/><use href="#bt" x="569.8" y="73.4"/><use href="#bt" x="565.6" y="22.8"/><use href="#bt" x="544.6" y="50.7"/><use href="#bg" x="590.5" y="33.7"/><use href="#bt" x="555.7" y="68.9"/><use href="#bt" x="547.2" y="59.2"/><use href="#bg" x="578.1" y="24.4"/><use href="#bt" x="570.3" y="23.1"/><use href="#bg" x="550.9" y="32.0"/><use href="#bt" x="565.0" y="72.5"/><use href="#bg" x="586.5" y="66.4"/><use href="#bg" x="574.6" y="23.8"/><use href="#bg" x="560.6" y="70.7"/><use href="#bg" x="593.5" y="54.4"/><use href="#bw" x="558.1" y="26.7"/><use href="#bg" x="545.6" y="45.7"/><use href="#bt" x="578.5" y="70.5"/><use href="#bg" x="593.9" y="46.2"/><use href="#bg" x="548.5" y="36.3"/><use href="#bt" x="588.9" y="62.3"/><use href="#bg" x="580.9" y="26.8"/><use href="#bg" x="546.9" y="40.9"/><use href="#bt" x="551.0" y="62.2"/><use href="#bt" x="590.8" y="58.5"/><use href="#bt" x="547.7" y="54.5"/><use href="#bg" x="591.7" y="41.7"/><use href="#bt" x="563.1" y="26.3"/><use href="#bt" x="583.9" y="29.8"/><use href="#bt" x="573.2" y="70.5"/><use href="#bg" x="555.4" y="30.8"/><use href="#bt" x="554.7" y="64.7"/><use href="#bg" x="592.0" y="50.3"/><use href="#bg" x="581.5" y="66.8"/><use href="#bt" x="586.7" y="33.6"/><use href="#bg" x="589.3" y="37.3"/><use href="#bg" x="576.7" y="26.7"/><use href="#bt" x="567.8" y="26.0"/><use href="#bg" x="572.4" y="26.4"/><use href="#bt" x="568.3" y="69.6"/><use href="#bg" x="559.1" y="66.9"/><use href="#bt" x="563.6" y="68.6"/><use href="#bt" x="548.3" y="49.6"/><use href="#bt" x="550.7" y="57.5"/><use href="#bg" x="552.8" y="35.2"/><use href="#bg" x="589.9" y="54.7"/><use href="#bt" x="584.5" y="62.9"/><use href="#bg" x="549.6" y="44.7"/><use href="#bg" x="579.2" y="29.9"/><use href="#bg" x="550.9" y="40.1"/><use href="#bg" x="590.1" y="45.9"/><use href="#bg" x="587.2" y="58.9"/><use href="#bg" x="560.2" y="29.9"/><use href="#bt" x="554.0" y="60.7"/><use href="#bg" x="576.7" y="66.7"/><use href="#bg" x="582.1" y="33.4"/><use href="#bt" x="551.3" y="52.9"/><use href="#bg" x="587.7" y="41.5"/><use href="#bg" x="565.4" y="29.6"/><use href="#bg" x="558.3" y="62.7"/><use href="#bg" x="574.8" y="30.0"/><use href="#bg" x="585.3" y="37.2"/><use href="#bg" x="571.4" y="66.4"/><use href="#bt" x="570.5" y="29.7"/><use href="#bg" x="562.4" y="64.6"/><use href="#bg" x="587.8" y="50.6"/><use href="#bg" x="557.9" y="34.6"/><use href="#bt" x="579.7" y="63.0"/><use href="#bt" x="566.9" y="65.9"/><use href="#bg" x="551.9" y="48.4"/><use href="#bg" x="554.5" y="56.4"/><use href="#bg" x="585.5" y="55.0"/><use href="#bg" x="582.8" y="59.2"/><use href="#bg" x="555.5" y="39.0"/><use href="#bt" x="553.7" y="43.8"/><use href="#bg" x="577.4" y="33.1"/><use href="#bg" x="557.6" y="58.8"/><use href="#bt" x="585.8" y="46.1"/><use href="#bg" x="562.9" y="33.7"/><use href="#bt" x="574.7" y="62.8"/><use href="#bg" x="561.4" y="61.0"/><use href="#bt" x="555.1" y="51.8"/><use href="#bg" x="580.2" y="37.3"/><use href="#bt" x="583.1" y="41.4"/><use href="#bt" x="572.6" y="33.5"/><use href="#bg" x="568.0" y="33.5"/><use href="#bg" x="565.6" y="61.9"/><use href="#bg" x="570.2" y="62.3"/><use href="#bw" x="583.5" y="50.6"/><use href="#bt" x="578.1" y="59.2"/><use href="#bg" x="557.7" y="54.6"/><use href="#bg" x="560.4" y="38.4"/><use href="#bt" x="556.6" y="47.7"/><use href="#bw" x="560.7" y="57.2"/><use href="#bg" x="580.8" y="55.1"/><use href="#bt" x="558.3" y="43.0"/><use href="#bt" x="575.6" y="37.1"/><use href="#bg" x="564.2" y="57.8"/><use href="#bt" x="573.1" y="58.9"/><use href="#bg" x="580.9" y="46.1"/><use href="#bg" x="565.5" y="37.8"/><use href="#bg" x="559.3" y="51.2"/><use href="#bt" x="578.3" y="41.4"/><use href="#bg" x="568.7" y="58.3"/><use href="#bg" x="570.3" y="37.6"/><use href="#bg" x="562.1" y="53.9"/><use href="#bt" x="575.6" y="55.0"/><use href="#bg" x="578.4" y="50.6"/><use href="#bt" x="561.0" y="46.6"/><use href="#bt" x="563.3" y="42.4"/><use href="#bt" x="566.1" y="54.6"/><use href="#bt" x="573.1" y="41.5"/><use href="#bt" x="570.7" y="54.9"/><use href="#bw" x="568.3" y="42.0"/><use href="#bt" x="563.9" y="50.2"/><use href="#bt" x="575.5" y="46.0"/><use href="#bt" x="566.1" y="46.2"/><use href="#bg" x="573.3" y="50.4"/><use href="#bt" x="568.1" y="50.5"/><use href="#bt" x="570.6" y="46.0"/>
<circle cx="569.8" cy="48.0" r="38.7" fill="url(#rim)" opacity="0.5"/>
<clipPath id="dcd"><circle cx="594.9" cy="78.3" r="16.6"/></clipPath>
<circle cx="594.9" cy="78.3" r="16.6" fill="#d81404"/>
<g clip-path="url(#dcd)"><circle cx="598.9" cy="63.8" r="0.8" fill="#8a0600"/><circle cx="608.4" cy="78.3" r="1.3" fill="#8a0600"/><circle cx="584.7" cy="88.7" r="1.3" fill="#8a0600"/><circle cx="593.5" cy="67.7" r="1.2" fill="#ff6010"/><circle cx="599.2" cy="89.9" r="0.8" fill="#ffb040"/><circle cx="599.4" cy="65.3" r="0.9" fill="#ffb040"/><circle cx="607.3" cy="86.5" r="1.0" fill="#ffb040"/><circle cx="601.0" cy="82.4" r="0.9" fill="#ff6010"/><circle cx="607.0" cy="74.5" r="1.2" fill="#8a0600"/><circle cx="584.7" cy="90.6" r="1.1" fill="#ffb040"/><circle cx="586.4" cy="67.4" r="1.5" fill="#ffb040"/><circle cx="604.7" cy="80.1" r="0.9" fill="#ff6010"/><circle cx="590.7" cy="75.7" r="1.1" fill="#ffb040"/><circle cx="604.9" cy="87.4" r="0.8" fill="#8a0600"/><circle cx="588.8" cy="78.9" r="1.4" fill="#8a0600"/><circle cx="594.3" cy="76.5" r="0.6" fill="#ff6010"/><circle cx="587.0" cy="92.0" r="0.9" fill="#ff6010"/><circle cx="587.5" cy="85.5" r="1.5" fill="#8a0600"/><circle cx="605.1" cy="81.9" r="1.0" fill="#ff6010"/><circle cx="603.1" cy="77.3" r="1.4" fill="#fff0a0"/><circle cx="587.4" cy="64.6" r="1.3" fill="#8a0600"/><circle cx="598.3" cy="66.9" r="1.2" fill="#8a0600"/><circle cx="590.8" cy="80.9" r="0.8" fill="#ff6010"/><circle cx="580.2" cy="79.4" r="0.6" fill="#8a0600"/><circle cx="604.0" cy="87.2" r="0.8" fill="#8a0600"/><circle cx="579.6" cy="83.1" r="1.0" fill="#8a0600"/><circle cx="604.3" cy="69.4" r="1.0" fill="#8a0600"/><circle cx="588.7" cy="79.1" r="0.9" fill="#8a0600"/><circle cx="598.1" cy="69.4" r="1.5" fill="#ff6010"/><circle cx="603.9" cy="73.6" r="0.9" fill="#ff6010"/><circle cx="585.6" cy="85.2" r="1.4" fill="#ff6010"/><circle cx="594.6" cy="79.6" r="0.7" fill="#8a0600"/><circle cx="609.2" cy="81.0" r="1.2" fill="#8a0600"/><circle cx="584.5" cy="90.6" r="0.7" fill="#ffb040"/><circle cx="600.6" cy="93.4" r="1.0" fill="#ff6010"/><circle cx="597.9" cy="63.6" r="1.0" fill="#8a0600"/><circle cx="603.0" cy="84.2" r="1.2" fill="#8a0600"/><circle cx="590.0" cy="74.4" r="0.7" fill="#ff6010"/><circle cx="605.4" cy="86.5" r="1.4" fill="#8a0600"/><circle cx="585.3" cy="68.2" r="1.3" fill="#8a0600"/><circle cx="606.2" cy="84.8" r="1.4" fill="#ffb040"/><circle cx="603.6" cy="71.4" r="1.3" fill="#ff6010"/><circle cx="605.4" cy="90.5" r="1.0" fill="#ffb040"/><circle cx="596.9" cy="67.4" r="1.2" fill="#8a0600"/><circle cx="608.6" cy="84.1" r="0.9" fill="#fff0a0"/><circle cx="599.4" cy="76.5" r="0.9" fill="#ffb040"/><circle cx="605.5" cy="76.0" r="0.6" fill="#ffb040"/><circle cx="607.8" cy="86.0" r="1.1" fill="#ff6010"/><circle cx="601.7" cy="79.7" r="0.6" fill="#8a0600"/><circle cx="609.4" cy="77.7" r="1.2" fill="#fff0a0"/><circle cx="592.3" cy="82.1" r="0.7" fill="#ff6010"/><circle cx="584.1" cy="75.0" r="0.7" fill="#8a0600"/><circle cx="605.6" cy="83.7" r="1.1" fill="#8a0600"/><circle cx="600.1" cy="85.4" r="1.1" fill="#8a0600"/><circle cx="588.9" cy="83.4" r="1.1" fill="#8a0600"/><circle cx="604.0" cy="72.6" r="0.9" fill="#8a0600"/><circle cx="595.7" cy="90.8" r="1.1" fill="#ff6010"/><circle cx="598.5" cy="87.1" r="1.0" fill="#8a0600"/><circle cx="581.6" cy="88.3" r="1.2" fill="#ff6010"/><circle cx="592.1" cy="65.3" r="0.9" fill="#ffb040"/><circle cx="586.7" cy="64.1" r="1.2" fill="#8a0600"/><circle cx="591.8" cy="81.0" r="1.3" fill="#8a0600"/><circle cx="605.4" cy="87.5" r="0.9" fill="#8a0600"/><circle cx="606.9" cy="80.8" r="0.8" fill="#ff6010"/><circle cx="580.3" cy="71.9" r="1.0" fill="#8a0600"/><circle cx="592.4" cy="63.1" r="1.2" fill="#8a0600"/><circle cx="599.0" cy="82.1" r="0.6" fill="#fff0a0"/><circle cx="607.5" cy="71.4" r="1.3" fill="#ff6010"/><circle cx="589.7" cy="71.1" r="0.8" fill="#8a0600"/><circle cx="604.2" cy="67.0" r="0.8" fill="#ff6010"/><circle cx="587.9" cy="73.7" r="1.3" fill="#ff6010"/><circle cx="608.9" cy="77.9" r="1.3" fill="#ff6010"/><circle cx="605.6" cy="85.4" r="0.9" fill="#8a0600"/><circle cx="606.9" cy="89.2" r="1.4" fill="#8a0600"/><circle cx="605.3" cy="74.8" r="0.6" fill="#ffb040"/><circle cx="596.0" cy="79.6" r="0.6" fill="#8a0600"/><circle cx="597.2" cy="74.0" r="0.8" fill="#ff6010"/><circle cx="602.1" cy="86.2" r="1.5" fill="#8a0600"/><circle cx="585.4" cy="86.8" r="1.2" fill="#ff6010"/><circle cx="586.3" cy="79.4" r="1.4" fill="#8a0600"/><circle cx="598.8" cy="88.7" r="1.1" fill="#ffb040"/><circle cx="609.0" cy="73.5" r="0.7" fill="#ff6010"/><circle cx="585.4" cy="72.0" r="1.1" fill="#ffb040"/><circle cx="589.8" cy="64.3" r="1.4" fill="#8a0600"/><circle cx="600.2" cy="74.4" r="1.4" fill="#ffb040"/><circle cx="600.8" cy="70.7" r="0.7" fill="#8a0600"/><circle cx="584.3" cy="89.4" r="0.6" fill="#8a0600"/><circle cx="593.3" cy="82.8" r="1.3" fill="#ff6010"/><circle cx="599.3" cy="76.1" r="0.7" fill="#8a0600"/><circle cx="607.7" cy="70.2" r="1.5" fill="#ff6010"/><circle cx="580.4" cy="76.4" r="0.9" fill="#8a0600"/><circle cx="610.1" cy="77.8" r="1.4" fill="#ff6010"/><circle cx="586.1" cy="66.3" r="0.7" fill="#8a0600"/><circle cx="604.9" cy="86.5" r="0.7" fill="#ff6010"/><circle cx="589.3" cy="78.1" r="1.3" fill="#ff6010"/><circle cx="609.0" cy="86.8" r="0.7" fill="#ff6010"/><circle cx="591.0" cy="83.6" r="1.4" fill="#ff6010"/><circle cx="598.1" cy="84.6" r="1.4" fill="#ff6010"/><circle cx="594.1" cy="67.1" r="1.2" fill="#8a0600"/><circle cx="580.6" cy="82.4" r="1.3" fill="#ff6010"/><circle cx="607.8" cy="75.9" r="0.8" fill="#ffb040"/><circle cx="610.5" cy="78.5" r="1.5" fill="#8a0600"/><circle cx="590.9" cy="79.4" r="1.2" fill="#8a0600"/><circle cx="585.1" cy="87.0" r="1.4" fill="#8a0600"/><circle cx="584.3" cy="89.1" r="1.2" fill="#8a0600"/><circle cx="584.5" cy="80.3" r="1.1" fill="#8a0600"/><circle cx="597.7" cy="73.7" r="0.6" fill="#8a0600"/><circle cx="611.2" cy="77.7" r="1.0" fill="#ff6010"/><circle cx="600.1" cy="80.8" r="1.3" fill="#ff6010"/><circle cx="610.3" cy="77.2" r="0.8" fill="#8a0600"/><circle cx="585.5" cy="75.8" r="1.4" fill="#ff6010"/><circle cx="579.2" cy="83.1" r="0.6" fill="#ff6010"/><circle cx="594.6" cy="64.8" r="0.6" fill="#ff6010"/><circle cx="603.4" cy="70.2" r="0.8" fill="#ff6010"/><circle cx="596.8" cy="78.7" r="0.9" fill="#8a0600"/><circle cx="597.2" cy="81.6" r="1.2" fill="#ff6010"/><circle cx="600.6" cy="73.1" r="1.1" fill="#ff6010"/><circle cx="608.0" cy="86.6" r="0.8" fill="#8a0600"/><circle cx="601.4" cy="92.9" r="0.9" fill="#8a0600"/><circle cx="585.4" cy="75.4" r="0.7" fill="#ff6010"/><circle cx="583.4" cy="83.7" r="1.1" fill="#ff6010"/><circle cx="593.3" cy="91.5" r="1.0" fill="#fff0a0"/><circle cx="585.5" cy="66.4" r="0.8" fill="#8a0600"/><circle cx="603.8" cy="76.6" r="0.9" fill="#8a0600"/><circle cx="607.1" cy="77.8" r="0.7" fill="#ffb040"/><circle cx="592.6" cy="91.5" r="1.2" fill="#8a0600"/><circle cx="590.3" cy="78.1" r="1.0" fill="#8a0600"/><circle cx="588.1" cy="76.8" r="0.6" fill="#8a0600"/><circle cx="594.0" cy="87.5" r="1.1" fill="#8a0600"/><circle cx="603.4" cy="67.1" r="0.9" fill="#ff6010"/><circle cx="580.8" cy="78.7" r="0.8" fill="#ffb040"/><circle cx="598.6" cy="78.7" r="1.4" fill="#ff6010"/><circle cx="603.3" cy="90.4" r="1.4" fill="#ff6010"/><circle cx="599.3" cy="75.1" r="0.7" fill="#ff6010"/><circle cx="602.6" cy="85.4" r="0.7" fill="#8a0600"/><circle cx="593.8" cy="85.2" r="0.7" fill="#8a0600"/><circle cx="602.6" cy="79.5" r="1.0" fill="#8a0600"/><circle cx="590.5" cy="66.1" r="0.9" fill="#8a0600"/><circle cx="589.4" cy="73.5" r="0.7" fill="#8a0600"/><circle cx="591.9" cy="72.9" r="0.9" fill="#8a0600"/><circle cx="582.6" cy="73.1" r="1.1" fill="#ff6010"/><circle cx="600.5" cy="93.1" r="1.0" fill="#ff6010"/><circle cx="584.9" cy="85.9" r="1.2" fill="#8a0600"/><circle cx="603.1" cy="72.6" r="0.8" fill="#8a0600"/><circle cx="603.5" cy="72.8" r="1.2" fill="#8a0600"/><circle cx="583.9" cy="89.6" r="1.1" fill="#8a0600"/><circle cx="590.6" cy="90.3" r="0.7" fill="#8a0600"/><circle cx="600.0" cy="74.0" r="1.2" fill="#ff6010"/><circle cx="585.6" cy="80.2" r="1.5" fill="#8a0600"/><circle cx="610.5" cy="79.5" r="1.0" fill="#ff6010"/><circle cx="586.3" cy="68.2" r="1.5" fill="#ffb040"/><circle cx="585.1" cy="77.4" r="1.4" fill="#8a0600"/><circle cx="590.5" cy="78.9" r="0.7" fill="#ff6010"/><circle cx="587.3" cy="89.3" r="1.1" fill="#ff6010"/><circle cx="601.1" cy="66.9" r="1.3" fill="#fff0a0"/><circle cx="593.6" cy="92.9" r="1.5" fill="#8a0600"/><circle cx="587.0" cy="71.0" r="1.4" fill="#8a0600"/><circle cx="593.6" cy="80.0" r="0.6" fill="#ffb040"/><circle cx="597.7" cy="79.1" r="1.1" fill="#ff6010"/><circle cx="578.9" cy="80.0" r="0.8" fill="#8a0600"/><circle cx="600.4" cy="78.2" r="0.8" fill="#8a0600"/><circle cx="605.5" cy="76.7" r="0.9" fill="#8a0600"/><circle cx="585.0" cy="88.8" r="0.9" fill="#ff6010"/><circle cx="600.4" cy="92.3" r="1.1" fill="#ff6010"/><circle cx="599.9" cy="93.9" r="1.4" fill="#ff6010"/><circle cx="588.8" cy="66.5" r="1.4" fill="#8a0600"/><circle cx="597.7" cy="74.7" r="1.2" fill="#8a0600"/><circle cx="591.3" cy="72.0" r="0.7" fill="#fff0a0"/><circle cx="584.4" cy="73.5" r="1.2" fill="#8a0600"/><circle cx="581.4" cy="83.6" r="0.6" fill="#ff6010"/><circle cx="589.3" cy="89.2" r="1.1" fill="#8a0600"/><circle cx="600.2" cy="79.3" r="0.8" fill="#ff6010"/><circle cx="597.7" cy="88.6" r="1.2" fill="#ff6010"/><circle cx="585.4" cy="71.5" r="1.4" fill="#8a0600"/><circle cx="605.2" cy="66.4" r="1.2" fill="#fff0a0"/><circle cx="599.2" cy="91.5" r="0.9" fill="#8a0600"/><circle cx="592.5" cy="80.1" r="0.8" fill="#8a0600"/><circle cx="596.1" cy="89.1" r="1.2" fill="#ff6010"/><circle cx="589.3" cy="91.3" r="0.9" fill="#8a0600"/><circle cx="587.4" cy="83.1" r="1.5" fill="#8a0600"/><circle cx="583.8" cy="70.7" r="1.1" fill="#ff6010"/><circle cx="593.9" cy="77.3" r="1.1" fill="#8a0600"/><circle cx="593.1" cy="78.7" r="0.9" fill="#8a0600"/><circle cx="609.8" cy="75.2" r="0.9" fill="#8a0600"/><circle cx="591.3" cy="83.3" r="1.5" fill="#8a0600"/><circle cx="602.4" cy="74.0" r="0.7" fill="#ff6010"/><circle cx="591.6" cy="74.7" r="1.1" fill="#ff6010"/><circle cx="607.5" cy="77.8" r="0.8" fill="#ffb040"/><circle cx="589.5" cy="73.0" r="1.5" fill="#8a0600"/><circle cx="604.6" cy="80.0" r="0.8" fill="#8a0600"/><circle cx="603.8" cy="67.0" r="1.1" fill="#8a0600"/><circle cx="596.8" cy="74.8" r="1.4" fill="#ff6010"/><circle cx="585.4" cy="70.9" r="0.8" fill="#8a0600"/><circle cx="599.3" cy="87.2" r="1.3" fill="#8a0600"/><circle cx="598.1" cy="83.3" r="1.0" fill="#ff6010"/><circle cx="606.2" cy="88.2" r="0.9" fill="#8a0600"/><circle cx="585.0" cy="85.0" r="1.4" fill="#8a0600"/><circle cx="586.6" cy="73.7" r="0.9" fill="#ff6010"/><circle cx="583.0" cy="73.5" r="1.4" fill="#8a0600"/><circle cx="608.3" cy="87.2" r="1.1" fill="#8a0600"/><circle cx="604.2" cy="85.7" r="1.2" fill="#8a0600"/><circle cx="592.8" cy="73.5" r="1.4" fill="#8a0600"/><circle cx="598.7" cy="91.4" r="1.3" fill="#ff6010"/><circle cx="608.2" cy="78.8" r="0.6" fill="#ffb040"/><circle cx="610.5" cy="79.0" r="1.2" fill="#ff6010"/><circle cx="596.4" cy="65.4" r="0.7" fill="#8a0600"/><circle cx="608.3" cy="79.6" r="1.5" fill="#ff6010"/><circle cx="595.1" cy="84.6" r="1.4" fill="#8a0600"/><circle cx="596.2" cy="93.8" r="1.3" fill="#ff6010"/><circle cx="606.0" cy="88.2" r="1.3" fill="#8a0600"/><circle cx="603.5" cy="81.0" r="0.8" fill="#ff6010"/><circle cx="589.6" cy="77.0" r="1.2" fill="#8a0600"/><circle cx="587.1" cy="92.7" r="0.9" fill="#8a0600"/><circle cx="584.1" cy="86.0" r="1.5" fill="#8a0600"/><circle cx="598.8" cy="90.4" r="0.8" fill="#ffb040"/><circle cx="596.2" cy="90.1" r="1.4" fill="#ffb040"/><circle cx="603.6" cy="67.3" r="1.4" fill="#8a0600"/><circle cx="596.0" cy="80.0" r="0.6" fill="#ff6010"/><circle cx="601.9" cy="80.3" r="0.8" fill="#fff0a0"/><circle cx="604.5" cy="65.4" r="0.7" fill="#8a0600"/><circle cx="597.7" cy="91.3" r="0.9" fill="#ff6010"/><circle cx="595.7" cy="73.9" r="0.9" fill="#8a0600"/><circle cx="586.6" cy="65.5" r="1.4" fill="#fff0a0"/><circle cx="607.7" cy="75.9" r="0.6" fill="#8a0600"/><circle cx="580.5" cy="71.6" r="1.0" fill="#ff6010"/><circle cx="585.7" cy="67.0" r="1.2" fill="#fff0a0"/><circle cx="581.2" cy="69.6" r="0.6" fill="#fff0a0"/><circle cx="603.7" cy="76.3" r="0.9" fill="#8a0600"/><circle cx="595.5" cy="79.0" r="0.9" fill="#ffb040"/><circle cx="605.6" cy="87.5" r="0.9" fill="#8a0600"/><circle cx="587.0" cy="83.5" r="0.8" fill="#ff6010"/><circle cx="599.2" cy="67.9" r="0.9" fill="#8a0600"/><circle cx="602.0" cy="74.3" r="0.8" fill="#8a0600"/><circle cx="596.7" cy="80.0" r="1.3" fill="#ff6010"/><circle cx="590.4" cy="88.3" r="0.6" fill="#ffb040"/><circle cx="592.8" cy="92.4" r="0.8" fill="#8a0600"/><circle cx="586.4" cy="76.7" r="0.6" fill="#8a0600"/><circle cx="609.8" cy="76.8" r="0.7" fill="#8a0600"/><circle cx="582.8" cy="76.8" r="0.9" fill="#ffb040"/><circle cx="605.3" cy="89.5" r="0.8" fill="#8a0600"/></g>
<circle cx="594.9" cy="78.3" r="16.6" fill="url(#dshade)"/>
<circle cx="505.7" cy="132.3" r="38.6" fill="#2a7a4c"/>
<use href="#bt" transform="translate(511.7 96.0) scale(1.12)"/><use href="#bt" transform="translate(538.3 115.6) scale(1.12)"/><use href="#bt" transform="translate(531.7 158.2) scale(1.12)"/><use href="#bt" transform="translate(488.9 165.1) scale(1.12)"/><use href="#bt" transform="translate(469.1 126.7) scale(1.12)"/><use href="#bt" transform="translate(535.3 110.5) scale(1.12)"/><use href="#bt" transform="translate(531.9 106.4) scale(1.12)"/><use href="#bg" transform="translate(527.3 102.6) scale(1.12)"/><use href="#bt" transform="translate(522.2 99.4) scale(1.12)"/><use href="#bt" transform="translate(517.1 97.4) scale(1.12)"/><use href="#bt" transform="translate(476.1 110.6) scale(1.12)"/><use href="#bt" transform="translate(479.6 106.3) scale(1.12)"/><use href="#bg" transform="translate(484.2 102.7) scale(1.12)"/><use href="#bt" transform="translate(489.0 99.6) scale(1.12)"/><use href="#bt" transform="translate(494.2 97.4) scale(1.12)"/><use href="#bt" transform="translate(499.6 96.1) scale(1.12)"/><use href="#bg" transform="translate(505.8 95.4) scale(1.12)"/><use href="#bt" transform="translate(535.5 153.9) scale(1.12)"/><use href="#bt" transform="translate(538.5 149.3) scale(1.12)"/><use href="#bg" transform="translate(540.6 143.8) scale(1.12)"/><use href="#bt" transform="translate(542.1 138.0) scale(1.12)"/><use href="#bt" transform="translate(542.6 132.4) scale(1.12)"/><use href="#bt" transform="translate(541.9 126.8) scale(1.12)"/><use href="#bg" transform="translate(540.8 121.0) scale(1.12)"/><use href="#bt" transform="translate(494.5 167.3) scale(1.12)"/><use href="#bt" transform="translate(499.9 168.6) scale(1.12)"/><use href="#bg" transform="translate(505.8 169.3) scale(1.12)"/><use href="#bt" transform="translate(511.6 168.5) scale(1.12)"/><use href="#bt" transform="translate(517.2 167.3) scale(1.12)"/><use href="#bt" transform="translate(522.3 165.2) scale(1.12)"/><use href="#bg" transform="translate(527.1 161.9) scale(1.12)"/><use href="#bt" transform="translate(468.9 132.2) scale(1.12)"/><use href="#bt" transform="translate(469.5 137.9) scale(1.12)"/><use href="#bg" transform="translate(470.8 143.7) scale(1.12)"/><use href="#bt" transform="translate(472.9 149.1) scale(1.12)"/><use href="#bt" transform="translate(475.9 153.9) scale(1.12)"/><use href="#bt" transform="translate(479.7 158.1) scale(1.12)"/><use href="#bg" transform="translate(484.0 162.1) scale(1.12)"/><use href="#bt" transform="translate(472.9 115.6) scale(1.12)"/><use href="#bg" transform="translate(470.6 120.9) scale(1.12)"/><use href="#bt" transform="translate(491.7 165.8) scale(1.12)"/><use href="#bt" transform="translate(519.6 166.1) scale(1.12)"/><use href="#bt" transform="translate(537.0 113.3) scale(1.12)"/><use href="#bt" transform="translate(514.2 96.9) scale(1.12)"/><use href="#bt" transform="translate(474.4 113.2) scale(1.12)"/><use href="#bt" transform="translate(497.4 96.7) scale(1.12)"/><use href="#bt" transform="translate(533.4 156.3) scale(1.12)"/><use href="#bt" transform="translate(542.1 129.2) scale(1.12)"/><use href="#bt" transform="translate(469.2 129.4) scale(1.12)"/><use href="#bt" transform="translate(478.1 156.0) scale(1.12)"/><use href="#bt" transform="translate(472.0 118.3) scale(1.12)"/><use href="#bt" transform="translate(503.0 95.9) scale(1.12)"/><use href="#bt" transform="translate(508.4 95.9) scale(1.12)"/><use href="#bt" transform="translate(541.2 123.9) scale(1.12)"/><use href="#bt" transform="translate(539.2 118.2) scale(1.12)"/><use href="#bt" transform="translate(524.6 163.4) scale(1.12)"/><use href="#bt" transform="translate(529.4 160.2) scale(1.12)"/><use href="#bt" transform="translate(482.1 160.2) scale(1.12)"/><use href="#bt" transform="translate(486.7 163.4) scale(1.12)"/><use href="#bt" transform="translate(470.3 123.7) scale(1.12)"/><use href="#bt" transform="translate(496.8 167.6) scale(1.12)"/><use href="#bt" transform="translate(514.4 167.6) scale(1.12)"/><use href="#bt" transform="translate(533.5 108.9) scale(1.12)"/><use href="#bt" transform="translate(519.4 98.5) scale(1.12)"/><use href="#bt" transform="translate(477.7 109.1) scale(1.12)"/><use href="#bt" transform="translate(492.0 98.3) scale(1.12)"/><use href="#bt" transform="translate(536.6 151.7) scale(1.12)"/><use href="#bt" transform="translate(542.0 134.7) scale(1.12)"/><use href="#bt" transform="translate(469.2 134.8) scale(1.12)"/><use href="#bt" transform="translate(474.7 151.5) scale(1.12)"/><use href="#bt" transform="translate(471.9 146.4) scale(1.12)"/><use href="#bg" transform="translate(529.5 104.8) scale(1.12)"/><use href="#bg" transform="translate(524.5 101.1) scale(1.12)"/><use href="#bg" transform="translate(481.7 104.8) scale(1.12)"/><use href="#bg" transform="translate(487.0 101.3) scale(1.12)"/><use href="#bg" transform="translate(539.2 146.4) scale(1.12)"/><use href="#bg" transform="translate(541.1 140.6) scale(1.12)"/><use href="#bg" transform="translate(502.5 168.6) scale(1.12)"/><use href="#bg" transform="translate(508.9 168.8) scale(1.12)"/><use href="#bg" transform="translate(470.2 140.6) scale(1.12)"/><use href="#bw" transform="translate(474.1 116.2) scale(1.12)"/><use href="#bt" transform="translate(537.6 116.3) scale(1.12)"/><use href="#bw" transform="translate(511.3 97.1) scale(1.12)"/><use href="#bw" transform="translate(500.2 97.2) scale(1.12)"/><use href="#bt" transform="translate(530.6 157.5) scale(1.12)"/><use href="#bt" transform="translate(540.7 126.4) scale(1.12)"/><use href="#bw" transform="translate(489.2 163.9) scale(1.12)"/><use href="#bt" transform="translate(521.8 163.9) scale(1.12)"/><use href="#bw" transform="translate(470.5 126.5) scale(1.12)"/><use href="#bt" transform="translate(480.6 157.6) scale(1.12)"/><use href="#bt" transform="translate(505.8 96.8) scale(1.12)"/><use href="#bw" transform="translate(539.6 121.2) scale(1.12)"/><use href="#bw" transform="translate(526.8 161.0) scale(1.12)"/><use href="#bw" transform="translate(484.8 161.1) scale(1.12)"/><use href="#bt" transform="translate(471.9 121.5) scale(1.12)"/><use href="#bt" transform="translate(534.2 153.7) scale(1.12)"/><use href="#bt" transform="translate(494.0 165.8) scale(1.12)"/><use href="#bt" transform="translate(517.2 165.9) scale(1.12)"/><use href="#bt" transform="translate(534.8 111.8) scale(1.12)"/><use href="#bt" transform="translate(516.0 98.6) scale(1.12)"/><use href="#bt" transform="translate(476.7 111.8) scale(1.12)"/><use href="#bt" transform="translate(495.5 98.5) scale(1.12)"/><use href="#bt" transform="translate(541.3 131.9) scale(1.12)"/><use href="#bt" transform="translate(470.2 131.8) scale(1.12)"/><use href="#bt" transform="translate(477.2 153.5) scale(1.12)"/><use href="#bt" transform="translate(531.0 107.5) scale(1.12)"/><use href="#bg" transform="translate(521.3 100.4) scale(1.12)"/><use href="#bg" transform="translate(480.4 107.8) scale(1.12)"/><use href="#bg" transform="translate(489.9 100.5) scale(1.12)"/><use href="#bg" transform="translate(537.0 148.7) scale(1.12)"/><use href="#bg" transform="translate(540.6 137.4) scale(1.12)"/><use href="#bg" transform="translate(499.8 167.0) scale(1.12)"/><use href="#bg" transform="translate(511.8 167.1) scale(1.12)"/><use href="#bg" transform="translate(470.5 137.2) scale(1.12)"/><use href="#bg" transform="translate(474.4 148.6) scale(1.12)"/><use href="#bg" transform="translate(526.3 103.9) scale(1.12)"/><use href="#bg" transform="translate(484.9 103.6) scale(1.12)"/><use href="#bg" transform="translate(539.3 143.2) scale(1.12)"/><use href="#bg" transform="translate(505.5 167.5) scale(1.12)"/><use href="#bg" transform="translate(472.2 143.1) scale(1.12)"/><use href="#bt" transform="translate(537.7 119.3) scale(1.12)"/><use href="#bt" transform="translate(508.2 98.2) scale(1.12)"/><use href="#bt" transform="translate(473.8 119.1) scale(1.12)"/><use href="#bt" transform="translate(503.0 98.2) scale(1.12)"/><use href="#bt" transform="translate(527.8 158.3) scale(1.12)"/><use href="#bt" transform="translate(523.9 161.4) scale(1.12)"/><use href="#bt" transform="translate(539.2 124.0) scale(1.12)"/><use href="#bt" transform="translate(487.6 161.6) scale(1.12)"/><use href="#bt" transform="translate(472.2 124.4) scale(1.12)"/><use href="#bt" transform="translate(483.3 158.5) scale(1.12)"/><use href="#bw" transform="translate(534.9 115.0) scale(1.12)"/><use href="#bt" transform="translate(513.0 99.2) scale(1.12)"/><use href="#bt" transform="translate(476.3 115.2) scale(1.12)"/><use href="#bt" transform="translate(498.6 99.2) scale(1.12)"/><use href="#bt" transform="translate(539.5 128.9) scale(1.12)"/><use href="#bw" transform="translate(519.4 163.3) scale(1.12)"/><use href="#bt" transform="translate(471.8 128.7) scale(1.12)"/><use href="#bw" transform="translate(531.1 154.8) scale(1.12)"/><use href="#bt" transform="translate(491.9 163.4) scale(1.12)"/><use href="#bt" transform="translate(480.3 155.0) scale(1.12)"/><use href="#bt" transform="translate(477.3 150.5) scale(1.12)"/><use href="#bw" transform="translate(518.0 101.0) scale(1.12)"/><use href="#bt" transform="translate(493.6 100.8) scale(1.12)"/><use href="#bt" transform="translate(534.2 150.6) scale(1.12)"/><use href="#bt" transform="translate(497.2 164.8) scale(1.12)"/><use href="#bt" transform="translate(514.3 164.9) scale(1.12)"/><use href="#bt" transform="translate(531.9 111.0) scale(1.12)"/><use href="#bt" transform="translate(479.3 111.1) scale(1.12)"/><use href="#bt" transform="translate(539.3 134.3) scale(1.12)"/><use href="#bt" transform="translate(472.2 134.0) scale(1.12)"/><use href="#bw" transform="translate(527.6 107.0) scale(1.12)"/><use href="#bt" transform="translate(522.8 103.5) scale(1.12)"/><use href="#bt" transform="translate(483.8 107.1) scale(1.12)"/><use href="#bt" transform="translate(488.6 103.7) scale(1.12)"/><use href="#bt" transform="translate(538.3 139.8) scale(1.12)"/><use href="#bt" transform="translate(502.9 165.6) scale(1.12)"/><use href="#bt" transform="translate(508.6 165.7) scale(1.12)"/><use href="#bt" transform="translate(472.8 139.8) scale(1.12)"/><use href="#bt" transform="translate(474.6 145.4) scale(1.12)"/><use href="#bt" transform="translate(536.8 145.6) scale(1.12)"/><use href="#bt" transform="translate(474.4 122.0) scale(1.12)"/><use href="#bt" transform="translate(537.2 122.0) scale(1.12)"/><use href="#bt" transform="translate(505.7 99.3) scale(1.12)"/><use href="#bt" transform="translate(525.0 158.8) scale(1.12)"/><use href="#bt" transform="translate(486.2 158.8) scale(1.12)"/><use href="#bt" transform="translate(534.7 118.3) scale(1.12)"/><use href="#bt" transform="translate(509.8 100.4) scale(1.12)"/><use href="#bt" transform="translate(476.6 118.5) scale(1.12)"/><use href="#bt" transform="translate(501.6 100.4) scale(1.12)"/><use href="#bt" transform="translate(527.9 155.8) scale(1.12)"/><use href="#bt" transform="translate(537.6 126.5) scale(1.12)"/><use href="#bt" transform="translate(521.3 160.6) scale(1.12)"/><use href="#bt" transform="translate(474.0 126.4) scale(1.12)"/><use href="#bt" transform="translate(490.2 160.7) scale(1.12)"/><use href="#bt" transform="translate(483.4 155.8) scale(1.12)"/><use href="#bt" transform="translate(532.0 114.5) scale(1.12)"/><use href="#bw" transform="translate(514.7 101.7) scale(1.12)"/><use href="#bw" transform="translate(479.3 114.5) scale(1.12)"/><use href="#bt" transform="translate(496.7 101.8) scale(1.12)"/><use href="#bw" transform="translate(530.9 151.8) scale(1.12)"/><use href="#bt" transform="translate(537.3 131.0) scale(1.12)"/><use href="#bt" transform="translate(516.6 162.1) scale(1.12)"/><use href="#bt" transform="translate(473.8 131.3) scale(1.12)"/><use href="#bw" transform="translate(494.9 162.3) scale(1.12)"/><use href="#bw" transform="translate(480.6 152.1) scale(1.12)"/><use href="#bt" transform="translate(519.1 103.9) scale(1.12)"/><use href="#bt" transform="translate(533.3 147.2) scale(1.12)"/><use href="#bt" transform="translate(474.4 136.4) scale(1.12)"/><use href="#bt" transform="translate(478.1 147.2) scale(1.12)"/><use href="#bt" transform="translate(528.4 110.6) scale(1.12)"/><use href="#bt" transform="translate(483.2 110.7) scale(1.12)"/><use href="#bt" transform="translate(492.1 104.1) scale(1.12)"/><use href="#bt" transform="translate(536.8 136.4) scale(1.12)"/><use href="#bt" transform="translate(500.2 163.3) scale(1.12)"/><use href="#bt" transform="translate(511.3 163.3) scale(1.12)"/><use href="#bt" transform="translate(524.2 106.8) scale(1.12)"/><use href="#bt" transform="translate(487.4 106.9) scale(1.12)"/><use href="#bt" transform="translate(535.6 141.8) scale(1.12)"/><use href="#bt" transform="translate(505.8 163.5) scale(1.12)"/><use href="#bt" transform="translate(476.0 142.0) scale(1.12)"/><use href="#bt" transform="translate(534.8 122.9) scale(1.12)"/><use href="#bt" transform="translate(505.8 101.7) scale(1.12)"/><use href="#bt" transform="translate(476.4 122.7) scale(1.12)"/><use href="#bt" transform="translate(523.7 157.3) scale(1.12)"/><use href="#bt" transform="translate(487.6 157.1) scale(1.12)"/><use href="#bt" transform="translate(510.0 102.9) scale(1.12)"/><use href="#bt" transform="translate(479.2 118.9) scale(1.12)"/><use href="#bw" transform="translate(501.2 102.9) scale(1.12)"/><use href="#bt" transform="translate(526.6 153.6) scale(1.12)"/><use href="#bw" transform="translate(535.3 127.4) scale(1.12)"/><use href="#bw" transform="translate(519.5 158.6) scale(1.12)"/><use href="#bt" transform="translate(476.5 127.4) scale(1.12)"/><use href="#bt" transform="translate(485.0 153.6) scale(1.12)"/><use href="#bt" transform="translate(532.4 119.1) scale(1.12)"/><use href="#bw" transform="translate(492.0 158.8) scale(1.12)"/><use href="#bt" transform="translate(529.6 149.2) scale(1.12)"/><use href="#bt" transform="translate(496.9 160.2) scale(1.12)"/><use href="#bt" transform="translate(514.2 159.9) scale(1.12)"/><use href="#bt" transform="translate(482.2 149.0) scale(1.12)"/><use href="#bt" transform="translate(528.8 114.8) scale(1.12)"/><use href="#bt" transform="translate(514.9 104.7) scale(1.12)"/><use href="#bt" transform="translate(482.6 115.0) scale(1.12)"/><use href="#bt" transform="translate(496.6 104.9) scale(1.12)"/><use href="#bt" transform="translate(534.8 132.7) scale(1.12)"/><use href="#bt" transform="translate(476.5 132.6) scale(1.12)"/><use href="#bg" transform="translate(524.8 110.9) scale(1.12)"/><use href="#bg" transform="translate(520.1 107.7) scale(1.12)"/><use href="#bg" transform="translate(486.8 111.1) scale(1.12)"/><use href="#bg" transform="translate(491.5 107.4) scale(1.12)"/><use href="#bg" transform="translate(531.8 143.9) scale(1.12)"/><use href="#bg" transform="translate(533.8 138.1) scale(1.12)"/><use href="#bg" transform="translate(502.9 160.8) scale(1.12)"/><use href="#bg" transform="translate(508.7 160.6) scale(1.12)"/><use href="#bg" transform="translate(477.8 138.3) scale(1.12)"/><use href="#bg" transform="translate(479.6 143.9) scale(1.12)"/><use href="#bt" transform="translate(505.9 104.4) scale(1.12)"/><use href="#bt" transform="translate(479.4 123.9) scale(1.12)"/><use href="#bt" transform="translate(532.2 123.7) scale(1.12)"/><use href="#bt" transform="translate(522.2 154.8) scale(1.12)"/><use href="#bw" transform="translate(489.6 154.8) scale(1.12)"/><use href="#bt" transform="translate(528.8 119.9) scale(1.12)"/><use href="#bt" transform="translate(510.3 106.3) scale(1.12)"/><use href="#bt" transform="translate(482.5 119.9) scale(1.12)"/><use href="#bt" transform="translate(500.9 106.4) scale(1.12)"/><use href="#bt" transform="translate(524.7 150.5) scale(1.12)"/><use href="#bt" transform="translate(532.0 128.6) scale(1.12)"/><use href="#bt" transform="translate(494.2 156.1) scale(1.12)"/><use href="#bt" transform="translate(517.2 156.3) scale(1.12)"/><use href="#bt" transform="translate(479.5 128.7) scale(1.12)"/><use href="#bt" transform="translate(486.6 150.5) scale(1.12)"/><use href="#bg" transform="translate(524.9 116.0) scale(1.12)"/><use href="#bg" transform="translate(515.2 108.8) scale(1.12)"/><use href="#bg" transform="translate(486.3 115.8) scale(1.12)"/><use href="#bt" transform="translate(496.1 108.7) scale(1.12)"/><use href="#bg" transform="translate(527.3 145.5) scale(1.12)"/><use href="#bg" transform="translate(531.0 134.4) scale(1.12)"/><use href="#bt" transform="translate(499.8 156.9) scale(1.12)"/><use href="#bt" transform="translate(511.9 156.8) scale(1.12)"/><use href="#bg" transform="translate(480.4 134.1) scale(1.12)"/><use href="#bg" transform="translate(484.1 145.4) scale(1.12)"/><use href="#bg" transform="translate(520.5 111.9) scale(1.12)"/><use href="#bg" transform="translate(491.1 112.0) scale(1.12)"/><use href="#bg" transform="translate(529.5 139.9) scale(1.12)"/><use href="#bg" transform="translate(505.7 157.5) scale(1.12)"/><use href="#bg" transform="translate(481.8 140.1) scale(1.12)"/><use href="#bt" transform="translate(505.7 108.3) scale(1.12)"/><use href="#bt" transform="translate(528.3 125.0) scale(1.12)"/><use href="#bt" transform="translate(482.9 125.0) scale(1.12)"/><use href="#bt" transform="translate(519.8 151.7) scale(1.12)"/><use href="#bt" transform="translate(491.8 151.8) scale(1.12)"/><use href="#bg" transform="translate(524.7 121.2) scale(1.12)"/><use href="#bg" transform="translate(510.4 110.6) scale(1.12)"/><use href="#bg" transform="translate(486.5 121.2) scale(1.12)"/><use href="#bg" transform="translate(501.0 110.8) scale(1.12)"/><use href="#bg" transform="translate(522.3 146.8) scale(1.12)"/><use href="#bg" transform="translate(527.6 130.2) scale(1.12)"/><use href="#bg" transform="translate(496.7 152.5) scale(1.12)"/><use href="#bg" transform="translate(514.6 152.5) scale(1.12)"/><use href="#bg" transform="translate(483.5 130.2) scale(1.12)"/><use href="#bg" transform="translate(489.3 147.0) scale(1.12)"/><use href="#bg" transform="translate(526.4 135.9) scale(1.12)"/><use href="#bg" transform="translate(485.0 136.0) scale(1.12)"/><use href="#bg" transform="translate(520.2 117.3) scale(1.12)"/><use href="#bg" transform="translate(515.4 113.6) scale(1.12)"/><use href="#bg" transform="translate(490.9 117.4) scale(1.12)"/><use href="#bg" transform="translate(496.0 113.6) scale(1.12)"/><use href="#bg" transform="translate(524.4 141.6) scale(1.12)"/><use href="#bg" transform="translate(502.9 153.2) scale(1.12)"/><use href="#bg" transform="translate(508.8 153.2) scale(1.12)"/><use href="#bg" transform="translate(486.8 141.6) scale(1.12)"/><use href="#bt" transform="translate(523.9 126.2) scale(1.12)"/><use href="#bt" transform="translate(505.7 113.1) scale(1.12)"/><use href="#bt" transform="translate(487.4 126.4) scale(1.12)"/><use href="#bt" transform="translate(516.9 148.0) scale(1.12)"/><use href="#bw" transform="translate(494.2 147.9) scale(1.12)"/><use href="#bg" transform="translate(491.4 122.7) scale(1.12)"/><use href="#bg" transform="translate(488.5 131.7) scale(1.12)"/><use href="#bg" transform="translate(520.0 122.7) scale(1.12)"/><use href="#bt" transform="translate(510.3 115.5) scale(1.12)"/><use href="#bg" transform="translate(501.0 115.8) scale(1.12)"/><use href="#bg" transform="translate(519.5 142.9) scale(1.12)"/><use href="#bg" transform="translate(522.8 131.7) scale(1.12)"/><use href="#bg" transform="translate(499.7 148.5) scale(1.12)"/><use href="#bg" transform="translate(511.6 148.4) scale(1.12)"/><use href="#bg" transform="translate(492.2 142.8) scale(1.12)"/><use href="#bg" transform="translate(515.5 119.2) scale(1.12)"/><use href="#bg" transform="translate(496.2 119.1) scale(1.12)"/><use href="#bg" transform="translate(521.5 137.2) scale(1.12)"/><use href="#bg" transform="translate(505.6 148.8) scale(1.12)"/><use href="#bg" transform="translate(490.0 137.4) scale(1.12)"/><use href="#bt" transform="translate(505.7 117.8) scale(1.12)"/><use href="#bt" transform="translate(492.0 128.0) scale(1.12)"/><use href="#bt" transform="translate(519.5 127.7) scale(1.12)"/><use href="#bt" transform="translate(514.3 143.8) scale(1.12)"/><use href="#bt" transform="translate(497.4 143.8) scale(1.12)"/><use href="#bt" transform="translate(493.7 133.2) scale(1.12)"/><use href="#bt" transform="translate(514.9 124.5) scale(1.12)"/><use href="#bw" transform="translate(510.5 121.1) scale(1.12)"/><use href="#bt" transform="translate(496.6 124.2) scale(1.12)"/><use href="#bt" transform="translate(501.2 121.1) scale(1.12)"/><use href="#bt" transform="translate(516.2 138.7) scale(1.12)"/><use href="#bt" transform="translate(517.8 133.2) scale(1.12)"/><use href="#bt" transform="translate(502.9 144.3) scale(1.12)"/><use href="#bt" transform="translate(508.6 144.3) scale(1.12)"/><use href="#bt" transform="translate(495.5 138.8) scale(1.12)"/><use href="#bw" transform="translate(514.5 129.3) scale(1.12)"/><use href="#bw" transform="translate(505.5 123.1) scale(1.12)"/><use href="#bw" transform="translate(496.7 129.6) scale(1.12)"/><use href="#bw" transform="translate(511.1 139.9) scale(1.12)"/><use href="#bw" transform="translate(500.3 139.6) scale(1.12)"/><use href="#bw" transform="translate(510.1 126.2) scale(1.12)"/><use href="#bw" transform="translate(501.3 126.1) scale(1.12)"/><use href="#bw" transform="translate(512.9 134.5) scale(1.12)"/><use href="#bw" transform="translate(505.7 140.0) scale(1.12)"/><use href="#bw" transform="translate(498.7 134.7) scale(1.12)"/><use href="#bt" transform="translate(509.7 130.9) scale(1.12)"/><use href="#bt" transform="translate(505.8 127.9) scale(1.12)"/><use href="#bt" transform="translate(501.7 131.0) scale(1.12)"/><use href="#bt" transform="translate(508.4 136.0) scale(1.12)"/><use href="#bt" transform="translate(503.3 136.0) scale(1.12)"/><use href="#bt" transform="translate(505.6 132.2) scale(1.12)"/>
<circle cx="505.7" cy="132.3" r="39.2" fill="url(#rim)"/>
<circle cx="505.7" cy="132.3" r="37.8" fill="none" stroke="#2a7c4c" stroke-width="2.4" stroke-opacity="0.8"/>
<clipPath id="dce"><circle cx="529.9" cy="163.8" r="16.6"/></clipPath>
<circle cx="529.9" cy="163.8" r="16.6" fill="#0a0200"/>
<g clip-path="url(#dce)"><circle cx="520.0" cy="166.1" r="0.5" fill="#801000" opacity="0.75"/><circle cx="523.9" cy="173.4" r="0.6" fill="#e06000" opacity="0.75"/><circle cx="517.6" cy="159.4" r="0.4" fill="#601000" opacity="0.75"/><circle cx="537.7" cy="177.9" r="0.8" fill="#601000" opacity="0.75"/><circle cx="534.4" cy="170.6" r="0.4" fill="#801000" opacity="0.75"/><circle cx="531.5" cy="153.6" r="0.7" fill="#801000" opacity="0.75"/><circle cx="536.5" cy="160.1" r="0.5" fill="#601000" opacity="0.75"/><circle cx="541.1" cy="154.5" r="0.8" fill="#601000" opacity="0.75"/><circle cx="527.0" cy="178.4" r="0.5" fill="#801000" opacity="0.75"/><circle cx="532.7" cy="161.1" r="0.6" fill="#601000" opacity="0.75"/><circle cx="535.1" cy="170.0" r="0.7" fill="#801000" opacity="0.75"/><circle cx="530.9" cy="163.6" r="0.7" fill="#c03000" opacity="0.75"/><circle cx="535.8" cy="159.2" r="0.4" fill="#801000" opacity="0.75"/><circle cx="540.6" cy="175.6" r="0.6" fill="#601000" opacity="0.75"/><circle cx="522.7" cy="162.1" r="0.4" fill="#c03000" opacity="0.75"/><circle cx="526.6" cy="159.9" r="0.6" fill="#c03000" opacity="0.75"/><circle cx="543.0" cy="158.6" r="0.4" fill="#e06000" opacity="0.75"/><circle cx="517.7" cy="159.4" r="0.5" fill="#e06000" opacity="0.75"/><circle cx="528.9" cy="151.3" r="0.4" fill="#601000" opacity="0.75"/><circle cx="537.6" cy="161.3" r="0.6" fill="#801000" opacity="0.75"/><circle cx="528.6" cy="148.6" r="0.6" fill="#801000" opacity="0.75"/><circle cx="533.6" cy="159.7" r="0.8" fill="#e06000" opacity="0.75"/><circle cx="519.9" cy="167.0" r="0.8" fill="#801000" opacity="0.75"/><circle cx="520.5" cy="172.7" r="0.4" fill="#801000" opacity="0.75"/><circle cx="532.4" cy="174.6" r="0.5" fill="#801000" opacity="0.75"/><circle cx="526.8" cy="172.1" r="0.6" fill="#801000" opacity="0.75"/><circle cx="544.4" cy="166.1" r="0.7" fill="#601000" opacity="0.75"/><circle cx="521.6" cy="175.9" r="0.6" fill="#801000" opacity="0.75"/><circle cx="522.8" cy="167.4" r="0.8" fill="#601000" opacity="0.75"/><circle cx="513.7" cy="162.8" r="0.6" fill="#c03000" opacity="0.75"/><circle cx="526.5" cy="157.8" r="0.7" fill="#e06000" opacity="0.75"/><circle cx="545.7" cy="166.8" r="0.7" fill="#e06000" opacity="0.75"/><circle cx="545.5" cy="158.4" r="0.6" fill="#801000" opacity="0.75"/><circle cx="540.5" cy="167.2" r="0.7" fill="#e06000" opacity="0.75"/><circle cx="517.4" cy="153.3" r="0.5" fill="#c03000" opacity="0.75"/><circle cx="521.2" cy="164.8" r="0.8" fill="#e06000" opacity="0.75"/><circle cx="528.5" cy="159.8" r="0.6" fill="#601000" opacity="0.75"/><circle cx="517.3" cy="156.0" r="0.7" fill="#e06000" opacity="0.75"/><circle cx="532.0" cy="148.4" r="0.6" fill="#801000" opacity="0.75"/><circle cx="537.6" cy="159.7" r="0.5" fill="#801000" opacity="0.75"/><circle cx="537.6" cy="176.4" r="0.7" fill="#c03000" opacity="0.75"/><circle cx="534.9" cy="173.8" r="0.6" fill="#601000" opacity="0.75"/><circle cx="540.6" cy="169.9" r="0.6" fill="#e06000" opacity="0.75"/><circle cx="514.2" cy="160.2" r="0.4" fill="#601000" opacity="0.75"/><circle cx="518.4" cy="160.5" r="0.6" fill="#801000" opacity="0.75"/><circle cx="538.9" cy="155.0" r="0.8" fill="#801000" opacity="0.75"/><circle cx="527.7" cy="149.9" r="0.4" fill="#601000" opacity="0.75"/><circle cx="518.8" cy="167.1" r="0.7" fill="#801000" opacity="0.75"/><circle cx="528.7" cy="161.2" r="0.5" fill="#601000" opacity="0.75"/><circle cx="531.7" cy="178.8" r="0.7" fill="#601000" opacity="0.75"/><circle cx="532.1" cy="161.6" r="0.6" fill="#801000" opacity="0.75"/><circle cx="525.3" cy="154.3" r="0.4" fill="#c03000" opacity="0.75"/><circle cx="544.0" cy="166.9" r="0.4" fill="#801000" opacity="0.75"/><circle cx="522.9" cy="172.8" r="0.6" fill="#801000" opacity="0.75"/><circle cx="528.6" cy="159.4" r="0.4" fill="#e06000" opacity="0.75"/><circle cx="546.1" cy="164.7" r="0.6" fill="#601000" opacity="0.75"/><circle cx="545.0" cy="162.5" r="0.4" fill="#e06000" opacity="0.75"/><circle cx="524.6" cy="154.0" r="0.5" fill="#c03000" opacity="0.75"/><circle cx="532.9" cy="166.2" r="0.4" fill="#801000" opacity="0.75"/><circle cx="520.0" cy="174.1" r="0.6" fill="#c03000" opacity="0.75"/><circle cx="520.9" cy="173.5" r="0.5" fill="#e06000" opacity="0.75"/><circle cx="531.0" cy="150.1" r="0.4" fill="#e06000" opacity="0.75"/><circle cx="532.2" cy="162.9" r="0.4" fill="#601000" opacity="0.75"/><circle cx="537.7" cy="166.8" r="0.7" fill="#c03000" opacity="0.75"/><circle cx="521.1" cy="153.3" r="0.5" fill="#801000" opacity="0.75"/><circle cx="535.0" cy="148.2" r="0.7" fill="#601000" opacity="0.75"/><circle cx="544.0" cy="157.2" r="0.8" fill="#801000" opacity="0.75"/><circle cx="540.7" cy="165.8" r="0.6" fill="#e06000" opacity="0.75"/><circle cx="520.1" cy="164.3" r="0.7" fill="#601000" opacity="0.75"/><circle cx="525.7" cy="165.8" r="0.5" fill="#601000" opacity="0.75"/><ellipse cx="529.9" cy="163.8" rx="2.2" ry="1.8" fill="#ff9a40" opacity="0.6"/><ellipse cx="529.9" cy="163.8" rx="1.6" ry="1.3" fill="#fff"/><ellipse cx="529.9" cy="155.0" rx="1.8" ry="1.4" fill="#ff9a40" opacity="0.6"/><ellipse cx="529.9" cy="155.0" rx="1.3" ry="1.0" fill="#fff"/><ellipse cx="538.3" cy="161.1" rx="1.8" ry="1.4" fill="#ff9a40" opacity="0.6"/><ellipse cx="538.3" cy="161.1" rx="1.3" ry="1.0" fill="#fff"/><ellipse cx="535.1" cy="170.9" rx="1.8" ry="1.4" fill="#ff9a40" opacity="0.6"/><ellipse cx="535.1" cy="170.9" rx="1.3" ry="1.0" fill="#fff"/><ellipse cx="524.7" cy="170.9" rx="1.8" ry="1.4" fill="#ff9a40" opacity="0.6"/><ellipse cx="524.7" cy="170.9" rx="1.3" ry="1.0" fill="#fff"/><ellipse cx="521.5" cy="161.1" rx="1.8" ry="1.4" fill="#ff9a40" opacity="0.6"/><ellipse cx="521.5" cy="161.1" rx="1.3" ry="1.0" fill="#fff"/><ellipse cx="529.9" cy="149.0" rx="1.6" ry="1.3" fill="#ff9a40" opacity="0.6"/><ellipse cx="529.9" cy="149.0" rx="1.2" ry="1.0" fill="#fff"/><ellipse cx="538.6" cy="151.8" rx="1.6" ry="1.3" fill="#ff9a40" opacity="0.6"/><ellipse cx="538.6" cy="151.8" rx="1.2" ry="1.0" fill="#fff"/><ellipse cx="544.0" cy="159.2" rx="1.6" ry="1.3" fill="#ff9a40" opacity="0.6"/><ellipse cx="544.0" cy="159.2" rx="1.2" ry="1.0" fill="#fff"/><ellipse cx="544.0" cy="168.4" rx="1.6" ry="1.3" fill="#ff9a40" opacity="0.6"/><ellipse cx="544.0" cy="168.4" rx="1.2" ry="1.0" fill="#fff"/><ellipse cx="538.6" cy="175.8" rx="1.6" ry="1.3" fill="#ff9a40" opacity="0.6"/><ellipse cx="538.6" cy="175.8" rx="1.2" ry="1.0" fill="#fff"/><ellipse cx="529.9" cy="178.6" rx="1.6" ry="1.3" fill="#ff9a40" opacity="0.6"/><ellipse cx="529.9" cy="178.6" rx="1.2" ry="1.0" fill="#fff"/><ellipse cx="521.2" cy="175.8" rx="1.6" ry="1.3" fill="#ff9a40" opacity="0.6"/><ellipse cx="521.2" cy="175.8" rx="1.2" ry="1.0" fill="#fff"/><ellipse cx="515.8" cy="168.4" rx="1.6" ry="1.3" fill="#ff9a40" opacity="0.6"/><ellipse cx="515.8" cy="168.4" rx="1.2" ry="1.0" fill="#fff"/><ellipse cx="515.8" cy="159.2" rx="1.6" ry="1.3" fill="#ff9a40" opacity="0.6"/><ellipse cx="515.8" cy="159.2" rx="1.2" ry="1.0" fill="#fff"/><ellipse cx="521.2" cy="151.8" rx="1.6" ry="1.3" fill="#ff9a40" opacity="0.6"/><ellipse cx="521.2" cy="151.8" rx="1.2" ry="1.0" fill="#fff"/><circle cx="537.2" cy="155.9" r="0.9" fill="#ff9010"/><circle cx="535.0" cy="156.8" r="0.9" fill="#ff9010"/><circle cx="535.2" cy="154.4" r="0.9" fill="#ff9010"/><circle cx="539.7" cy="168.3" r="0.9" fill="#ff9010"/><circle cx="538.1" cy="166.5" r="0.9" fill="#ff9010"/><circle cx="540.5" cy="166.0" r="0.9" fill="#ff9010"/><circle cx="528.7" cy="174.5" r="0.9" fill="#ff9010"/><circle cx="529.9" cy="172.4" r="0.9" fill="#ff9010"/><circle cx="531.1" cy="174.5" r="0.9" fill="#ff9010"/><circle cx="519.3" cy="166.0" r="0.9" fill="#ff9010"/><circle cx="521.7" cy="166.5" r="0.9" fill="#ff9010"/><circle cx="520.1" cy="168.3" r="0.9" fill="#ff9010"/><circle cx="524.6" cy="154.4" r="0.9" fill="#ff9010"/><circle cx="524.8" cy="156.8" r="0.9" fill="#ff9010"/><circle cx="522.6" cy="155.9" r="0.9" fill="#ff9010"/></g>
<circle cx="624.5" cy="132.8" r="39.0" fill="#2a7a4c"/>
<use href="#bt" transform="translate(630.5 96.0) scale(1.12)"/><use href="#bt" transform="translate(657.6 115.9) scale(1.12)"/><use href="#bt" transform="translate(650.9 158.9) scale(1.12)"/><use href="#bt" transform="translate(607.8 166.0) scale(1.12)"/><use href="#bt" transform="translate(587.8 127.0) scale(1.12)"/><use href="#bt" transform="translate(654.5 111.0) scale(1.12)"/><use href="#bt" transform="translate(650.8 106.5) scale(1.12)"/><use href="#bg" transform="translate(646.5 102.8) scale(1.12)"/><use href="#bt" transform="translate(641.3 99.5) scale(1.12)"/><use href="#bt" transform="translate(636.1 97.3) scale(1.12)"/><use href="#bt" transform="translate(594.5 111.0) scale(1.12)"/><use href="#bt" transform="translate(598.2 106.7) scale(1.12)"/><use href="#bg" transform="translate(602.6 102.7) scale(1.12)"/><use href="#bt" transform="translate(607.9 99.5) scale(1.12)"/><use href="#bt" transform="translate(613.1 97.2) scale(1.12)"/><use href="#bt" transform="translate(618.5 96.0) scale(1.12)"/><use href="#bg" transform="translate(624.3 95.5) scale(1.12)"/><use href="#bt" transform="translate(654.8 154.7) scale(1.12)"/><use href="#bt" transform="translate(657.5 150.0) scale(1.12)"/><use href="#bg" transform="translate(659.8 144.4) scale(1.12)"/><use href="#bt" transform="translate(661.4 138.4) scale(1.12)"/><use href="#bt" transform="translate(661.5 132.9) scale(1.12)"/><use href="#bt" transform="translate(661.5 127.1) scale(1.12)"/><use href="#bg" transform="translate(659.7 121.5) scale(1.12)"/><use href="#bt" transform="translate(612.9 168.1) scale(1.12)"/><use href="#bt" transform="translate(618.4 169.4) scale(1.12)"/><use href="#bg" transform="translate(624.4 170.1) scale(1.12)"/><use href="#bt" transform="translate(630.5 169.6) scale(1.12)"/><use href="#bt" transform="translate(636.2 168.2) scale(1.12)"/><use href="#bt" transform="translate(641.4 166.0) scale(1.12)"/><use href="#bg" transform="translate(646.2 163.1) scale(1.12)"/><use href="#bt" transform="translate(587.1 132.7) scale(1.12)"/><use href="#bt" transform="translate(587.9 138.6) scale(1.12)"/><use href="#bg" transform="translate(589.3 144.3) scale(1.12)"/><use href="#bt" transform="translate(591.3 150.0) scale(1.12)"/><use href="#bt" transform="translate(594.2 154.7) scale(1.12)"/><use href="#bt" transform="translate(598.1 159.1) scale(1.12)"/><use href="#bg" transform="translate(602.5 163.0) scale(1.12)"/><use href="#bt" transform="translate(591.3 115.9) scale(1.12)"/><use href="#bg" transform="translate(589.1 121.4) scale(1.12)"/><use href="#bt" transform="translate(610.4 166.8) scale(1.12)"/><use href="#bt" transform="translate(638.8 166.8) scale(1.12)"/><use href="#bt" transform="translate(656.0 113.4) scale(1.12)"/><use href="#bt" transform="translate(633.2 97.0) scale(1.12)"/><use href="#bt" transform="translate(593.1 113.6) scale(1.12)"/><use href="#bt" transform="translate(616.1 97.0) scale(1.12)"/><use href="#bt" transform="translate(652.3 156.9) scale(1.12)"/><use href="#bt" transform="translate(661.4 129.9) scale(1.12)"/><use href="#bt" transform="translate(587.8 129.8) scale(1.12)"/><use href="#bt" transform="translate(596.6 156.8) scale(1.12)"/><use href="#bt" transform="translate(590.4 118.8) scale(1.12)"/><use href="#bt" transform="translate(621.5 96.1) scale(1.12)"/><use href="#bt" transform="translate(627.2 96.1) scale(1.12)"/><use href="#bt" transform="translate(660.5 124.2) scale(1.12)"/><use href="#bt" transform="translate(658.7 118.5) scale(1.12)"/><use href="#bt" transform="translate(643.9 164.3) scale(1.12)"/><use href="#bt" transform="translate(648.4 160.9) scale(1.12)"/><use href="#bt" transform="translate(600.5 160.9) scale(1.12)"/><use href="#bt" transform="translate(605.1 164.3) scale(1.12)"/><use href="#bt" transform="translate(588.6 124.1) scale(1.12)"/><use href="#bt" transform="translate(615.6 168.5) scale(1.12)"/><use href="#bt" transform="translate(633.3 168.4) scale(1.12)"/><use href="#bt" transform="translate(652.8 109.2) scale(1.12)"/><use href="#bt" transform="translate(638.4 98.6) scale(1.12)"/><use href="#bt" transform="translate(596.4 109.1) scale(1.12)"/><use href="#bt" transform="translate(610.7 98.6) scale(1.12)"/><use href="#bt" transform="translate(655.8 152.5) scale(1.12)"/><use href="#bt" transform="translate(661.1 135.4) scale(1.12)"/><use href="#bt" transform="translate(587.8 135.3) scale(1.12)"/><use href="#bt" transform="translate(593.2 152.6) scale(1.12)"/><use href="#bg" transform="translate(590.4 146.9) scale(1.12)"/><use href="#bg" transform="translate(648.5 104.7) scale(1.12)"/><use href="#bg" transform="translate(643.8 101.3) scale(1.12)"/><use href="#bg" transform="translate(600.5 104.7) scale(1.12)"/><use href="#bg" transform="translate(605.5 101.4) scale(1.12)"/><use href="#bg" transform="translate(658.5 147.1) scale(1.12)"/><use href="#bg" transform="translate(660.4 141.2) scale(1.12)"/><use href="#bg" transform="translate(621.3 169.5) scale(1.12)"/><use href="#bg" transform="translate(627.7 169.5) scale(1.12)"/><use href="#bg" transform="translate(588.7 141.3) scale(1.12)"/><use href="#bt" transform="translate(592.2 116.7) scale(1.12)"/><use href="#bw" transform="translate(656.5 116.7) scale(1.12)"/><use href="#bw" transform="translate(629.9 97.2) scale(1.12)"/><use href="#bt" transform="translate(619.1 97.2) scale(1.12)"/><use href="#bw" transform="translate(649.9 158.4) scale(1.12)"/><use href="#bt" transform="translate(660.1 126.8) scale(1.12)"/><use href="#bw" transform="translate(607.9 164.8) scale(1.12)"/><use href="#bt" transform="translate(640.8 164.7) scale(1.12)"/><use href="#bt" transform="translate(588.9 127.1) scale(1.12)"/><use href="#bw" transform="translate(599.2 158.3) scale(1.12)"/><use href="#bt" transform="translate(624.4 97.0) scale(1.12)"/><use href="#bt" transform="translate(658.9 121.5) scale(1.12)"/><use href="#bt" transform="translate(645.5 161.9) scale(1.12)"/><use href="#bt" transform="translate(603.2 162.0) scale(1.12)"/><use href="#bt" transform="translate(590.3 121.5) scale(1.12)"/><use href="#bt" transform="translate(653.2 154.4) scale(1.12)"/><use href="#bt" transform="translate(613.0 166.7) scale(1.12)"/><use href="#bt" transform="translate(636.2 166.8) scale(1.12)"/><use href="#bt" transform="translate(653.9 112.4) scale(1.12)"/><use href="#bt" transform="translate(635.1 98.4) scale(1.12)"/><use href="#bt" transform="translate(595.3 112.2) scale(1.12)"/><use href="#bt" transform="translate(614.0 98.3) scale(1.12)"/><use href="#bt" transform="translate(660.2 132.0) scale(1.12)"/><use href="#bt" transform="translate(588.6 132.2) scale(1.12)"/><use href="#bt" transform="translate(595.7 154.4) scale(1.12)"/><use href="#bg" transform="translate(650.2 107.8) scale(1.12)"/><use href="#bg" transform="translate(640.3 100.9) scale(1.12)"/><use href="#bg" transform="translate(599.0 107.8) scale(1.12)"/><use href="#bg" transform="translate(608.5 100.8) scale(1.12)"/><use href="#bg" transform="translate(656.2 149.3) scale(1.12)"/><use href="#bg" transform="translate(660.0 137.7) scale(1.12)"/><use href="#bg" transform="translate(618.6 168.0) scale(1.12)"/><use href="#bg" transform="translate(630.5 167.9) scale(1.12)"/><use href="#bg" transform="translate(589.2 137.9) scale(1.12)"/><use href="#bg" transform="translate(593.0 149.3) scale(1.12)"/><use href="#bg" transform="translate(645.3 104.0) scale(1.12)"/><use href="#bg" transform="translate(603.6 104.1) scale(1.12)"/><use href="#bg" transform="translate(658.6 144.0) scale(1.12)"/><use href="#bg" transform="translate(624.3 168.5) scale(1.12)"/><use href="#bg" transform="translate(590.7 143.9) scale(1.12)"/><use href="#bt" transform="translate(656.6 119.6) scale(1.12)"/><use href="#bt" transform="translate(627.2 98.3) scale(1.12)"/><use href="#bt" transform="translate(592.4 119.7) scale(1.12)"/><use href="#bt" transform="translate(621.7 98.1) scale(1.12)"/><use href="#bt" transform="translate(646.9 159.5) scale(1.12)"/><use href="#bt" transform="translate(642.8 162.2) scale(1.12)"/><use href="#bt" transform="translate(658.1 124.6) scale(1.12)"/><use href="#bt" transform="translate(606.4 162.5) scale(1.12)"/><use href="#bt" transform="translate(590.9 124.5) scale(1.12)"/><use href="#bt" transform="translate(601.9 159.4) scale(1.12)"/><use href="#bt" transform="translate(654.3 115.4) scale(1.12)"/><use href="#bw" transform="translate(631.8 99.3) scale(1.12)"/><use href="#bt" transform="translate(594.6 115.6) scale(1.12)"/><use href="#bw" transform="translate(617.3 99.2) scale(1.12)"/><use href="#bt" transform="translate(658.7 129.5) scale(1.12)"/><use href="#bw" transform="translate(638.5 164.4) scale(1.12)"/><use href="#bt" transform="translate(590.3 129.5) scale(1.12)"/><use href="#bw" transform="translate(650.3 155.8) scale(1.12)"/><use href="#bw" transform="translate(610.5 164.3) scale(1.12)"/><use href="#bw" transform="translate(598.8 155.7) scale(1.12)"/><use href="#bt" transform="translate(595.7 151.3) scale(1.12)"/><use href="#bt" transform="translate(636.9 100.9) scale(1.12)"/><use href="#bt" transform="translate(612.3 101.0) scale(1.12)"/><use href="#bt" transform="translate(653.2 151.4) scale(1.12)"/><use href="#bt" transform="translate(615.8 165.7) scale(1.12)"/><use href="#bt" transform="translate(633.1 165.7) scale(1.12)"/><use href="#bt" transform="translate(650.9 111.1) scale(1.12)"/><use href="#bt" transform="translate(598.1 111.4) scale(1.12)"/><use href="#bt" transform="translate(658.4 134.5) scale(1.12)"/><use href="#bt" transform="translate(590.3 134.6) scale(1.12)"/><use href="#bt" transform="translate(646.8 107.2) scale(1.12)"/><use href="#bt" transform="translate(642.2 103.8) scale(1.12)"/><use href="#bt" transform="translate(602.2 107.0) scale(1.12)"/><use href="#bt" transform="translate(606.9 103.8) scale(1.12)"/><use href="#bt" transform="translate(657.6 140.3) scale(1.12)"/><use href="#bt" transform="translate(621.4 166.8) scale(1.12)"/><use href="#bt" transform="translate(627.4 166.7) scale(1.12)"/><use href="#bt" transform="translate(591.5 140.2) scale(1.12)"/><use href="#bt" transform="translate(593.3 145.9) scale(1.12)"/><use href="#bt" transform="translate(655.7 146.0) scale(1.12)"/><use href="#bt" transform="translate(593.0 122.7) scale(1.12)"/><use href="#bt" transform="translate(656.1 122.5) scale(1.12)"/><use href="#bt" transform="translate(624.7 99.6) scale(1.12)"/><use href="#bt" transform="translate(644.1 159.7) scale(1.12)"/><use href="#bt" transform="translate(604.8 159.7) scale(1.12)"/><use href="#bt" transform="translate(654.2 118.9) scale(1.12)"/><use href="#bt" transform="translate(628.6 100.5) scale(1.12)"/><use href="#bt" transform="translate(594.9 118.8) scale(1.12)"/><use href="#bt" transform="translate(620.3 100.4) scale(1.12)"/><use href="#bt" transform="translate(647.1 156.6) scale(1.12)"/><use href="#bt" transform="translate(656.8 126.9) scale(1.12)"/><use href="#bt" transform="translate(640.0 161.3) scale(1.12)"/><use href="#bt" transform="translate(592.4 126.9) scale(1.12)"/><use href="#bt" transform="translate(608.8 161.6) scale(1.12)"/><use href="#bt" transform="translate(602.0 156.4) scale(1.12)"/><use href="#bt" transform="translate(651.0 114.8) scale(1.12)"/><use href="#bt" transform="translate(633.4 102.0) scale(1.12)"/><use href="#bw" transform="translate(597.9 115.0) scale(1.12)"/><use href="#bt" transform="translate(615.7 101.9) scale(1.12)"/><use href="#bt" transform="translate(649.9 152.8) scale(1.12)"/><use href="#bt" transform="translate(656.5 131.8) scale(1.12)"/><use href="#bw" transform="translate(635.4 162.9) scale(1.12)"/><use href="#bt" transform="translate(592.3 131.9) scale(1.12)"/><use href="#bt" transform="translate(613.7 163.1) scale(1.12)"/><use href="#bw" transform="translate(598.9 152.5) scale(1.12)"/><use href="#bt" transform="translate(638.2 104.1) scale(1.12)"/><use href="#bt" transform="translate(652.6 148.0) scale(1.12)"/><use href="#bt" transform="translate(593.0 137.2) scale(1.12)"/><use href="#bt" transform="translate(596.5 148.0) scale(1.12)"/><use href="#bt" transform="translate(647.4 111.0) scale(1.12)"/><use href="#bt" transform="translate(601.5 110.7) scale(1.12)"/><use href="#bt" transform="translate(610.9 104.1) scale(1.12)"/><use href="#bt" transform="translate(656.0 136.9) scale(1.12)"/><use href="#bt" transform="translate(618.8 164.1) scale(1.12)"/><use href="#bt" transform="translate(630.3 164.0) scale(1.12)"/><use href="#bt" transform="translate(642.9 107.3) scale(1.12)"/><use href="#bt" transform="translate(605.8 107.0) scale(1.12)"/><use href="#bt" transform="translate(654.6 142.6) scale(1.12)"/><use href="#bt" transform="translate(624.3 164.5) scale(1.12)"/><use href="#bt" transform="translate(594.4 142.4) scale(1.12)"/><use href="#bt" transform="translate(653.8 123.1) scale(1.12)"/><use href="#bt" transform="translate(624.4 101.8) scale(1.12)"/><use href="#bt" transform="translate(594.9 123.3) scale(1.12)"/><use href="#bt" transform="translate(642.7 157.7) scale(1.12)"/><use href="#bt" transform="translate(606.1 157.8) scale(1.12)"/><use href="#bt" transform="translate(629.1 103.0) scale(1.12)"/><use href="#bt" transform="translate(597.4 119.4) scale(1.12)"/><use href="#bt" transform="translate(620.0 103.0) scale(1.12)"/><use href="#bw" transform="translate(645.6 154.4) scale(1.12)"/><use href="#bw" transform="translate(654.3 127.9) scale(1.12)"/><use href="#bw" transform="translate(638.5 159.5) scale(1.12)"/><use href="#bw" transform="translate(594.8 127.7) scale(1.12)"/><use href="#bt" transform="translate(603.3 154.1) scale(1.12)"/><use href="#bt" transform="translate(651.4 119.3) scale(1.12)"/><use href="#bw" transform="translate(610.7 159.7) scale(1.12)"/><use href="#bt" transform="translate(648.3 149.8) scale(1.12)"/><use href="#bt" transform="translate(615.8 160.9) scale(1.12)"/><use href="#bt" transform="translate(633.2 160.7) scale(1.12)"/><use href="#bt" transform="translate(600.7 149.6) scale(1.12)"/><use href="#bt" transform="translate(648.0 115.3) scale(1.12)"/><use href="#bt" transform="translate(633.7 105.0) scale(1.12)"/><use href="#bt" transform="translate(601.1 115.3) scale(1.12)"/><use href="#bt" transform="translate(615.1 104.9) scale(1.12)"/><use href="#bt" transform="translate(653.7 133.0) scale(1.12)"/><use href="#bt" transform="translate(595.1 133.0) scale(1.12)"/><use href="#bg" transform="translate(643.6 111.3) scale(1.12)"/><use href="#bg" transform="translate(638.8 107.7) scale(1.12)"/><use href="#bg" transform="translate(605.2 111.1) scale(1.12)"/><use href="#bg" transform="translate(609.9 107.8) scale(1.12)"/><use href="#bg" transform="translate(650.8 144.7) scale(1.12)"/><use href="#bg" transform="translate(652.8 138.8) scale(1.12)"/><use href="#bg" transform="translate(621.5 161.5) scale(1.12)"/><use href="#bg" transform="translate(627.5 161.6) scale(1.12)"/><use href="#bg" transform="translate(596.2 139.0) scale(1.12)"/><use href="#bg" transform="translate(597.9 144.6) scale(1.12)"/><use href="#bt" transform="translate(624.6 104.8) scale(1.12)"/><use href="#bw" transform="translate(597.8 124.1) scale(1.12)"/><use href="#bw" transform="translate(651.2 124.0) scale(1.12)"/><use href="#bt" transform="translate(641.1 155.3) scale(1.12)"/><use href="#bt" transform="translate(608.0 155.5) scale(1.12)"/><use href="#bt" transform="translate(647.9 120.1) scale(1.12)"/><use href="#bt" transform="translate(629.1 106.6) scale(1.12)"/><use href="#bt" transform="translate(601.0 120.2) scale(1.12)"/><use href="#bt" transform="translate(619.6 106.7) scale(1.12)"/><use href="#bt" transform="translate(643.8 151.3) scale(1.12)"/><use href="#bt" transform="translate(651.0 129.3) scale(1.12)"/><use href="#bt" transform="translate(612.8 157.0) scale(1.12)"/><use href="#bt" transform="translate(636.0 156.8) scale(1.12)"/><use href="#bt" transform="translate(598.2 129.0) scale(1.12)"/><use href="#bt" transform="translate(605.4 151.4) scale(1.12)"/><use href="#bg" transform="translate(644.2 116.1) scale(1.12)"/><use href="#bg" transform="translate(634.1 108.9) scale(1.12)"/><use href="#bg" transform="translate(604.9 116.2) scale(1.12)"/><use href="#bg" transform="translate(614.9 109.3) scale(1.12)"/><use href="#bg" transform="translate(646.5 146.2) scale(1.12)"/><use href="#bg" transform="translate(650.2 134.7) scale(1.12)"/><use href="#bg" transform="translate(618.5 157.6) scale(1.12)"/><use href="#bg" transform="translate(630.7 157.7) scale(1.12)"/><use href="#bg" transform="translate(598.7 134.6) scale(1.12)"/><use href="#bg" transform="translate(602.5 146.4) scale(1.12)"/><use href="#bg" transform="translate(639.3 112.2) scale(1.12)"/><use href="#bg" transform="translate(609.8 112.3) scale(1.12)"/><use href="#bg" transform="translate(648.7 140.5) scale(1.12)"/><use href="#bg" transform="translate(624.5 158.3) scale(1.12)"/><use href="#bg" transform="translate(600.5 140.6) scale(1.12)"/><use href="#bt" transform="translate(624.5 108.5) scale(1.12)"/><use href="#bt" transform="translate(647.5 125.1) scale(1.12)"/><use href="#bt" transform="translate(601.3 125.3) scale(1.12)"/><use href="#bt" transform="translate(638.9 152.4) scale(1.12)"/><use href="#bt" transform="translate(610.3 152.3) scale(1.12)"/><use href="#bg" transform="translate(643.7 121.4) scale(1.12)"/><use href="#bg" transform="translate(629.3 111.1) scale(1.12)"/><use href="#bg" transform="translate(605.3 121.5) scale(1.12)"/><use href="#bg" transform="translate(619.8 111.1) scale(1.12)"/><use href="#bg" transform="translate(641.3 147.5) scale(1.12)"/><use href="#bg" transform="translate(646.7 130.5) scale(1.12)"/><use href="#bg" transform="translate(615.6 153.4) scale(1.12)"/><use href="#bg" transform="translate(633.3 153.3) scale(1.12)"/><use href="#bg" transform="translate(602.0 130.8) scale(1.12)"/><use href="#bg" transform="translate(607.7 147.6) scale(1.12)"/><use href="#bg" transform="translate(645.5 136.4) scale(1.12)"/><use href="#bg" transform="translate(603.6 136.5) scale(1.12)"/><use href="#bg" transform="translate(639.3 117.6) scale(1.12)"/><use href="#bg" transform="translate(634.6 114.0) scale(1.12)"/><use href="#bg" transform="translate(609.5 117.4) scale(1.12)"/><use href="#bg" transform="translate(614.7 114.1) scale(1.12)"/><use href="#bg" transform="translate(643.7 142.3) scale(1.12)"/><use href="#bg" transform="translate(621.6 153.9) scale(1.12)"/><use href="#bg" transform="translate(627.6 153.8) scale(1.12)"/><use href="#bg" transform="translate(605.5 142.2) scale(1.12)"/><use href="#bt" transform="translate(643.1 126.7) scale(1.12)"/><use href="#bt" transform="translate(624.5 113.1) scale(1.12)"/><use href="#bt" transform="translate(605.9 126.7) scale(1.12)"/><use href="#bt" transform="translate(636.2 148.5) scale(1.12)"/><use href="#bt" transform="translate(613.2 148.6) scale(1.12)"/><use href="#bg" transform="translate(610.2 122.8) scale(1.12)"/><use href="#bg" transform="translate(607.1 132.4) scale(1.12)"/><use href="#bg" transform="translate(639.0 123.0) scale(1.12)"/><use href="#bg" transform="translate(629.3 115.8) scale(1.12)"/><use href="#bg" transform="translate(619.8 116.1) scale(1.12)"/><use href="#bg" transform="translate(638.3 143.4) scale(1.12)"/><use href="#bg" transform="translate(642.1 132.3) scale(1.12)"/><use href="#bg" transform="translate(618.6 149.3) scale(1.12)"/><use href="#bg" transform="translate(630.6 149.2) scale(1.12)"/><use href="#bg" transform="translate(610.9 143.5) scale(1.12)"/><use href="#bg" transform="translate(634.1 119.3) scale(1.12)"/><use href="#bg" transform="translate(614.9 119.4) scale(1.12)"/><use href="#bg" transform="translate(640.1 138.1) scale(1.12)"/><use href="#bg" transform="translate(624.6 149.3) scale(1.12)"/><use href="#bg" transform="translate(608.5 138.0) scale(1.12)"/><use href="#bt" transform="translate(624.7 118.4) scale(1.12)"/><use href="#bt" transform="translate(610.6 128.1) scale(1.12)"/><use href="#bt" transform="translate(638.1 128.3) scale(1.12)"/><use href="#bt" transform="translate(633.1 144.7) scale(1.12)"/><use href="#bt" transform="translate(616.1 144.7) scale(1.12)"/><use href="#bt" transform="translate(612.1 133.6) scale(1.12)"/><use href="#bt" transform="translate(633.9 124.8) scale(1.12)"/><use href="#bt" transform="translate(629.2 121.4) scale(1.12)"/><use href="#bt" transform="translate(614.9 124.8) scale(1.12)"/><use href="#bt" transform="translate(619.8 121.4) scale(1.12)"/><use href="#bt" transform="translate(634.9 139.2) scale(1.12)"/><use href="#bt" transform="translate(636.7 133.6) scale(1.12)"/><use href="#bt" transform="translate(621.4 144.6) scale(1.12)"/><use href="#bt" transform="translate(627.4 144.7) scale(1.12)"/><use href="#bt" transform="translate(613.8 139.3) scale(1.12)"/><use href="#bw" transform="translate(633.4 130.1) scale(1.12)"/><use href="#bw" transform="translate(624.6 123.5) scale(1.12)"/><use href="#bw" transform="translate(615.5 130.0) scale(1.12)"/><use href="#bw" transform="translate(630.0 140.3) scale(1.12)"/><use href="#bw" transform="translate(619.1 140.3) scale(1.12)"/><use href="#bw" transform="translate(628.9 126.7) scale(1.12)"/><use href="#bw" transform="translate(620.2 126.4) scale(1.12)"/><use href="#bw" transform="translate(631.6 135.0) scale(1.12)"/><use href="#bw" transform="translate(624.4 140.6) scale(1.12)"/><use href="#bw" transform="translate(617.0 135.0) scale(1.12)"/><use href="#bt" transform="translate(628.7 131.6) scale(1.12)"/><use href="#bt" transform="translate(624.5 128.5) scale(1.12)"/><use href="#bt" transform="translate(620.3 131.4) scale(1.12)"/><use href="#bt" transform="translate(626.9 136.5) scale(1.12)"/><use href="#bt" transform="translate(621.8 136.3) scale(1.12)"/><use href="#bt" transform="translate(624.7 132.6) scale(1.12)"/>
<circle cx="624.5" cy="132.8" r="39.6" fill="url(#rim)"/>
<circle cx="624.5" cy="132.8" r="38.2" fill="none" stroke="#2a7c4c" stroke-width="2.4" stroke-opacity="0.8"/>
<clipPath id="dcf"><circle cx="650.9" cy="164.1" r="16.5"/></clipPath>
<circle cx="650.9" cy="164.1" r="16.5" fill="#0a0200"/>
<g clip-path="url(#dcf)"><ellipse cx="650.9" cy="164.1" rx="2.2" ry="1.8" fill="#ff9a40" opacity="0.6"/><ellipse cx="650.9" cy="164.1" rx="1.6" ry="1.3" fill="#fff"/><ellipse cx="650.9" cy="155.3" rx="1.8" ry="1.4" fill="#ff9a40" opacity="0.6"/><ellipse cx="650.9" cy="155.3" rx="1.3" ry="1.0" fill="#fff"/><ellipse cx="659.3" cy="161.4" rx="1.8" ry="1.4" fill="#ff9a40" opacity="0.6"/><ellipse cx="659.3" cy="161.4" rx="1.3" ry="1.0" fill="#fff"/><ellipse cx="656.1" cy="171.2" rx="1.8" ry="1.4" fill="#ff9a40" opacity="0.6"/><ellipse cx="656.1" cy="171.2" rx="1.3" ry="1.0" fill="#fff"/><ellipse cx="645.7" cy="171.2" rx="1.8" ry="1.4" fill="#ff9a40" opacity="0.6"/><ellipse cx="645.7" cy="171.2" rx="1.3" ry="1.0" fill="#fff"/><ellipse cx="642.5" cy="161.4" rx="1.8" ry="1.4" fill="#ff9a40" opacity="0.6"/><ellipse cx="642.5" cy="161.4" rx="1.3" ry="1.0" fill="#fff"/><ellipse cx="650.9" cy="149.3" rx="1.6" ry="1.3" fill="#ff9a40" opacity="0.6"/><ellipse cx="650.9" cy="149.3" rx="1.2" ry="1.0" fill="#fff"/><ellipse cx="659.6" cy="152.1" rx="1.6" ry="1.3" fill="#ff9a40" opacity="0.6"/><ellipse cx="659.6" cy="152.1" rx="1.2" ry="1.0" fill="#fff"/><ellipse cx="665.0" cy="159.5" rx="1.6" ry="1.3" fill="#ff9a40" opacity="0.6"/><ellipse cx="665.0" cy="159.5" rx="1.2" ry="1.0" fill="#fff"/><ellipse cx="665.0" cy="168.7" rx="1.6" ry="1.3" fill="#ff9a40" opacity="0.6"/><ellipse cx="665.0" cy="168.7" rx="1.2" ry="1.0" fill="#fff"/><ellipse cx="659.6" cy="176.1" rx="1.6" ry="1.3" fill="#ff9a40" opacity="0.6"/><ellipse cx="659.6" cy="176.1" rx="1.2" ry="1.0" fill="#fff"/><ellipse cx="650.9" cy="178.9" rx="1.6" ry="1.3" fill="#ff9a40" opacity="0.6"/><ellipse cx="650.9" cy="178.9" rx="1.2" ry="1.0" fill="#fff"/><ellipse cx="642.2" cy="176.1" rx="1.6" ry="1.3" fill="#ff9a40" opacity="0.6"/><ellipse cx="642.2" cy="176.1" rx="1.2" ry="1.0" fill="#fff"/><ellipse cx="636.8" cy="168.7" rx="1.6" ry="1.3" fill="#ff9a40" opacity="0.6"/><ellipse cx="636.8" cy="168.7" rx="1.2" ry="1.0" fill="#fff"/><ellipse cx="636.8" cy="159.5" rx="1.6" ry="1.3" fill="#ff9a40" opacity="0.6"/><ellipse cx="636.8" cy="159.5" rx="1.2" ry="1.0" fill="#fff"/><ellipse cx="642.2" cy="152.1" rx="1.6" ry="1.3" fill="#ff9a40" opacity="0.6"/><ellipse cx="642.2" cy="152.1" rx="1.2" ry="1.0" fill="#fff"/><circle cx="658.2" cy="156.2" r="0.9" fill="#ff9010"/><circle cx="656.0" cy="157.1" r="0.9" fill="#ff9010"/><circle cx="656.2" cy="154.7" r="0.9" fill="#ff9010"/><circle cx="660.7" cy="168.6" r="0.9" fill="#ff9010"/><circle cx="659.1" cy="166.8" r="0.9" fill="#ff9010"/><circle cx="661.5" cy="166.3" r="0.9" fill="#ff9010"/><circle cx="649.7" cy="174.8" r="0.9" fill="#ff9010"/><circle cx="650.9" cy="172.7" r="0.9" fill="#ff9010"/><circle cx="652.1" cy="174.8" r="0.9" fill="#ff9010"/><circle cx="640.3" cy="166.3" r="0.9" fill="#ff9010"/><circle cx="642.7" cy="166.8" r="0.9" fill="#ff9010"/><circle cx="641.1" cy="168.6" r="0.9" fill="#ff9010"/><circle cx="645.6" cy="154.7" r="0.9" fill="#ff9010"/><circle cx="645.8" cy="157.1" r="0.9" fill="#ff9010"/><circle cx="643.6" cy="156.2" r="0.9" fill="#ff9010"/></g>
<line x1="496.6" y1="53.7" x2="516.8" y2="53.7" stroke="#9a9a9a" stroke-width="2.8" />
<path d="M526.3 53.7 L515.8 58.7 L515.8 48.7 Z" fill="#9a9a9a"/>
<line x1="546.3" y1="86" x2="538.5" y2="94.1" stroke="#9a9a9a" stroke-width="2.8" />
<path d="M531.9 101.0 L535.6 90.0 L542.8 96.9 Z" fill="#9a9a9a"/>
<line x1="552.5" y1="134.1" x2="572.5" y2="134.1" stroke="#9a9a9a" stroke-width="2.8" />
<path d="M582.0 134.1 L571.5 139.1 L571.5 129.1 Z" fill="#9a9a9a"/>
<text x="408" y="10.3" font-size="14" text-anchor="start" font-weight="bold" fill="#000" >c</text>
<text x="537" y="10" font-size="14" text-anchor="start" font-weight="bold" fill="#000" >d</text>
<text x="461" y="107.5" font-size="14" text-anchor="start" font-weight="bold" fill="#000" >e</text>
<text x="582.5" y="106.8" font-size="14" text-anchor="start" font-weight="bold" fill="#000" >f</text>
<defs><clipPath id="gu"><rect x="447.7" y="199.8" width="179.7" height="116.3"/></clipPath><clipPath id="gl"><rect x="447.7" y="316.1" width="179.7" height="116.8"/></clipPath></defs>
<g clip-path="url(#gu)" fill="none" stroke-width="1.3">
<path d="M447.7 315.2 C448.1 314.6 449.5 312.9 450.3 311.7 C451.2 310.5 452.1 309.4 453.0 308.2 C453.8 307.1 454.7 305.9 455.6 304.7 C456.5 303.6 457.3 302.4 458.2 301.3 C459.1 300.2 460.0 299.0 460.8 297.9 C461.7 296.8 462.6 295.6 463.5 294.6 C464.3 293.5 465.2 292.4 466.1 291.3 C467.0 290.2 467.8 289.2 468.7 288.2 C469.6 287.2 470.5 286.2 471.3 285.2 C472.2 284.3 473.1 283.4 474.0 282.5 C474.8 281.7 475.7 280.8 476.6 280.1 C477.5 279.3 478.3 278.6 479.2 277.9 C480.1 277.3 481.0 276.7 481.8 276.1 C482.7 275.6 483.6 275.1 484.5 274.7 C485.3 274.2 486.2 273.8 487.1 273.5 C488.0 273.2 488.8 272.9 489.7 272.6 C490.6 272.3 491.5 272.1 492.3 271.9 C493.2 271.6 494.1 271.4 495.0 271.3 C495.8 271.1 496.7 270.9 497.6 270.8 C498.5 270.6 499.3 270.5 500.2 270.3 C501.1 270.1 502.0 270.0 502.8 269.9 C503.7 269.7 504.6 269.5 505.5 269.4 C506.3 269.2 507.2 269.1 508.1 268.9 C509.0 268.7 509.8 268.5 510.7 268.3 C511.6 268.1 512.5 267.9 513.4 267.7 C514.2 267.5 515.1 267.2 516.0 267.0 C516.9 266.7 517.7 266.4 518.6 266.2 C519.5 265.9 520.4 265.6 521.2 265.2 C522.1 264.9 523.0 264.6 523.9 264.2 C524.7 263.9 525.6 263.5 526.5 263.1 C527.4 262.7 528.2 262.3 529.1 261.9 C530.0 261.5 530.9 261.0 531.7 260.6 C532.6 260.1 533.5 259.7 534.4 259.2 C535.2 258.7 536.1 258.2 537.0 257.7 C537.9 257.2 538.7 256.7 539.6 256.2 C540.5 255.7 541.4 255.1 542.2 254.6 C543.1 254.0 544.0 253.5 544.9 252.9 C545.7 252.4 546.6 251.8 547.5 251.2 C548.4 250.6 549.2 250.1 550.1 249.5 C551.0 248.9 551.9 248.3 552.7 247.7 C553.6 247.1 554.5 246.5 555.4 245.9 C556.2 245.3 557.1 244.7 558.0 244.1 C558.9 243.5 559.7 242.8 560.6 242.2 C561.5 241.6 562.4 241.0 563.2 240.4 C564.1 239.7 565.0 239.1 565.9 238.5 C566.7 237.9 567.6 237.2 568.5 236.6 C569.4 236.0 570.2 235.4 571.1 234.7 C572.0 234.1 572.9 233.5 573.8 232.8 C574.6 232.2 575.5 231.6 576.4 230.9 C577.3 230.3 578.1 229.7 579.0 229.0 C579.9 228.4 580.8 227.8 581.6 227.1 C582.5 226.5 583.4 225.9 584.3 225.2 C585.1 224.6 586.0 223.9 586.9 223.3 C587.8 222.7 588.6 222.0 589.5 221.4 C590.4 220.8 591.3 220.1 592.1 219.5 C593.0 218.8 593.9 218.2 594.8 217.6 C595.6 216.9 596.5 216.3 597.4 215.6 C598.3 215.0 599.1 214.4 600.0 213.7 C600.9 213.1 601.8 212.4 602.6 211.8 C603.5 211.2 604.4 210.5 605.3 209.9 C606.1 209.3 607.0 208.6 607.9 208.0 C608.8 207.3 609.6 206.7 610.5 206.1 C611.4 205.4 612.3 204.7 613.1 204.1 C614.0 203.5 614.9 202.8 615.8 202.5 C616.6 202.2 617.5 202.3 618.4 202.3 C619.3 202.3 620.1 202.3 621.0 202.3 C621.9 202.3 622.8 202.3 623.6 202.3 C624.5 202.3 625.4 202.3 626.3 202.3 C627.1 202.3 628.5 202.3 628.9 202.3" stroke="#CF2A27"/>
<path d="M447.7 315.2 C448.1 314.6 449.5 312.9 450.3 311.7 C451.2 310.5 452.1 309.4 453.0 308.2 C453.8 307.1 454.7 305.9 455.6 304.7 C456.5 303.6 457.3 302.4 458.2 301.3 C459.1 300.1 460.0 299.0 460.8 297.9 C461.7 296.8 462.6 295.6 463.5 294.5 C464.3 293.4 465.2 292.4 466.1 291.3 C467.0 290.2 467.8 289.2 468.7 288.2 C469.6 287.2 470.5 286.2 471.3 285.2 C472.2 284.3 473.1 283.4 474.0 282.5 C474.8 281.6 475.7 280.8 476.6 280.0 C477.5 279.3 478.3 278.5 479.2 277.9 C480.1 277.2 481.0 276.6 481.8 276.1 C482.7 275.5 483.6 275.0 484.5 274.6 C485.3 274.1 486.2 273.7 487.1 273.4 C488.0 273.0 488.8 272.7 489.7 272.4 C490.6 272.1 491.5 271.9 492.3 271.7 C493.2 271.4 494.1 271.2 495.0 271.0 C495.8 270.9 496.7 270.7 497.6 270.5 C498.5 270.3 499.3 270.2 500.2 270.0 C501.1 269.8 502.0 269.7 502.8 269.5 C503.7 269.3 504.6 269.2 505.5 269.0 C506.3 268.8 507.2 268.6 508.1 268.4 C509.0 268.2 509.8 268.0 510.7 267.8 C511.6 267.6 512.5 267.4 513.4 267.1 C514.2 266.9 515.1 266.6 516.0 266.4 C516.9 266.1 517.7 265.8 518.6 265.5 C519.5 265.2 520.4 264.9 521.2 264.5 C522.1 264.2 523.0 263.8 523.9 263.5 C524.7 263.1 525.6 262.7 526.5 262.3 C527.4 261.9 528.2 261.5 529.1 261.1 C530.0 260.7 530.9 260.2 531.7 259.8 C532.6 259.3 533.5 258.8 534.4 258.3 C535.2 257.9 536.1 257.4 537.0 256.8 C537.9 256.3 538.7 255.8 539.6 255.3 C540.5 254.8 541.4 254.2 542.2 253.7 C543.1 253.1 544.0 252.6 544.9 252.0 C545.7 251.5 546.6 250.9 547.5 250.3 C548.4 249.7 549.2 249.2 550.1 248.6 C551.0 248.0 551.9 247.4 552.7 246.8 C553.6 246.2 554.5 245.6 555.4 245.0 C556.2 244.4 557.1 243.8 558.0 243.2 C558.9 242.6 559.7 242.0 560.6 241.4 C561.5 240.8 562.4 240.1 563.2 239.5 C564.1 238.9 565.0 238.3 565.9 237.7 C566.7 237.1 567.6 236.4 568.5 235.8 C569.4 235.2 570.2 234.6 571.1 233.9 C572.0 233.3 572.9 232.7 573.8 232.1 C574.6 231.4 575.5 230.8 576.4 230.2 C577.3 229.6 578.1 228.9 579.0 228.3 C579.9 227.7 580.8 227.0 581.6 226.4 C582.5 225.8 583.4 225.1 584.3 224.5 C585.1 223.9 586.0 223.3 586.9 222.6 C587.8 222.0 588.6 221.4 589.5 220.7 C590.4 220.1 591.3 219.5 592.1 218.9 C593.0 218.2 593.9 217.6 594.8 217.0 C595.6 216.4 596.5 215.8 597.4 215.2 C598.3 214.6 599.1 213.9 600.0 213.3 C600.9 212.7 601.8 212.1 602.6 211.6 C603.5 211.0 604.4 210.4 605.3 209.8 C606.1 209.2 607.0 208.7 607.9 208.1 C608.8 207.5 609.6 206.9 610.5 206.4 C611.4 205.8 612.3 205.2 613.1 204.7 C614.0 204.1 614.9 203.5 615.8 203.2 C616.6 202.9 617.5 203.1 618.4 203.1 C619.3 203.0 620.1 203.1 621.0 203.0 C621.9 203.0 622.8 203.0 623.6 203.0 C624.5 203.0 625.4 203.0 626.3 203.0 C627.1 203.0 628.5 203.0 628.9 203.0" stroke="#E6553A"/>
<path d="M447.7 315.2 C448.1 314.6 449.5 312.9 450.3 311.7 C451.2 310.5 452.1 309.4 453.0 308.2 C453.8 307.1 454.7 305.9 455.6 304.7 C456.5 303.6 457.3 302.4 458.2 301.3 C459.1 300.1 460.0 299.0 460.8 297.9 C461.7 296.8 462.6 295.6 463.5 294.5 C464.3 293.4 465.2 292.4 466.1 291.3 C467.0 290.2 467.8 289.2 468.7 288.2 C469.6 287.2 470.5 286.2 471.3 285.2 C472.2 284.3 473.1 283.3 474.0 282.5 C474.8 281.6 475.7 280.8 476.6 280.0 C477.5 279.2 478.3 278.5 479.2 277.8 C480.1 277.2 481.0 276.6 481.8 276.0 C482.7 275.4 483.6 274.9 484.5 274.5 C485.3 274.0 486.2 273.6 487.1 273.3 C488.0 272.9 488.8 272.6 489.7 272.3 C490.6 272.0 491.5 271.7 492.3 271.5 C493.2 271.3 494.1 271.0 495.0 270.8 C495.8 270.6 496.7 270.4 497.6 270.2 C498.5 270.1 499.3 269.9 500.2 269.7 C501.1 269.5 502.0 269.3 502.8 269.1 C503.7 269.0 504.6 268.8 505.5 268.6 C506.3 268.4 507.2 268.2 508.1 268.0 C509.0 267.8 509.8 267.5 510.7 267.3 C511.6 267.1 512.5 266.8 513.4 266.6 C514.2 266.3 515.1 266.0 516.0 265.7 C516.9 265.5 517.7 265.1 518.6 264.8 C519.5 264.5 520.4 264.2 521.2 263.8 C522.1 263.5 523.0 263.1 523.9 262.7 C524.7 262.3 525.6 262.0 526.5 261.5 C527.4 261.1 528.2 260.7 529.1 260.3 C530.0 259.8 530.9 259.4 531.7 258.9 C532.6 258.4 533.5 258.0 534.4 257.5 C535.2 257.0 536.1 256.5 537.0 256.0 C537.9 255.5 538.7 254.9 539.6 254.4 C540.5 253.9 541.4 253.3 542.2 252.8 C543.1 252.2 544.0 251.7 544.9 251.1 C545.7 250.6 546.6 250.0 547.5 249.4 C548.4 248.9 549.2 248.3 550.1 247.7 C551.0 247.1 551.9 246.5 552.7 245.9 C553.6 245.3 554.5 244.7 555.4 244.1 C556.2 243.5 557.1 242.9 558.0 242.3 C558.9 241.7 559.7 241.1 560.6 240.5 C561.5 239.9 562.4 239.3 563.2 238.7 C564.1 238.1 565.0 237.5 565.9 236.9 C566.7 236.2 567.6 235.6 568.5 235.0 C569.4 234.4 570.2 233.8 571.1 233.1 C572.0 232.5 572.9 231.9 573.8 231.3 C574.6 230.7 575.5 230.0 576.4 229.4 C577.3 228.8 578.1 228.2 579.0 227.5 C579.9 226.9 580.8 226.3 581.6 225.7 C582.5 225.1 583.4 224.4 584.3 223.8 C585.1 223.2 586.0 222.6 586.9 221.9 C587.8 221.3 588.6 220.7 589.5 220.1 C590.4 219.5 591.3 218.9 592.1 218.3 C593.0 217.6 593.9 217.0 594.8 216.4 C595.6 215.8 596.5 215.3 597.4 214.7 C598.3 214.1 599.1 213.5 600.0 213.0 C600.9 212.4 601.8 211.9 602.6 211.3 C603.5 210.8 604.4 210.2 605.3 209.7 C606.1 209.2 607.0 208.7 607.9 208.2 C608.8 207.7 609.6 207.2 610.5 206.7 C611.4 206.2 612.3 205.7 613.1 205.2 C614.0 204.8 614.9 204.2 615.8 203.9 C616.6 203.7 617.5 203.8 618.4 203.8 C619.3 203.8 620.1 203.8 621.0 203.8 C621.9 203.8 622.8 203.8 623.6 203.8 C624.5 203.8 625.4 203.8 626.3 203.8 C627.1 203.8 628.5 203.8 628.9 203.8" stroke="#F29A54"/>
<path d="M447.7 315.2 C448.1 314.6 449.5 312.9 450.3 311.7 C451.2 310.5 452.1 309.4 453.0 308.2 C453.8 307.1 454.7 305.9 455.6 304.7 C456.5 303.6 457.3 302.4 458.2 301.3 C459.1 300.1 460.0 299.0 460.8 297.9 C461.7 296.8 462.6 295.6 463.5 294.5 C464.3 293.4 465.2 292.4 466.1 291.3 C467.0 290.2 467.8 289.2 468.7 288.2 C469.6 287.1 470.5 286.1 471.3 285.2 C472.2 284.2 473.1 283.3 474.0 282.5 C474.8 281.6 475.7 280.7 476.6 280.0 C477.5 279.2 478.3 278.5 479.2 277.8 C480.1 277.1 481.0 276.5 481.8 275.9 C482.7 275.4 483.6 274.9 484.5 274.4 C485.3 273.9 486.2 273.5 487.1 273.2 C488.0 272.8 488.8 272.5 489.7 272.1 C490.6 271.8 491.5 271.6 492.3 271.3 C493.2 271.1 494.1 270.8 495.0 270.6 C495.8 270.4 496.7 270.2 497.6 270.0 C498.5 269.8 499.3 269.6 500.2 269.4 C501.1 269.2 502.0 269.0 502.8 268.8 C503.7 268.6 504.6 268.4 505.5 268.2 C506.3 268.0 507.2 267.8 508.1 267.5 C509.0 267.3 509.8 267.1 510.7 266.8 C511.6 266.5 512.5 266.3 513.4 266.0 C514.2 265.7 515.1 265.4 516.0 265.1 C516.9 264.8 517.7 264.5 518.6 264.2 C519.5 263.8 520.4 263.5 521.2 263.1 C522.1 262.8 523.0 262.4 523.9 262.0 C524.7 261.6 525.6 261.2 526.5 260.8 C527.4 260.3 528.2 259.9 529.1 259.4 C530.0 259.0 530.9 258.5 531.7 258.1 C532.6 257.6 533.5 257.1 534.4 256.6 C535.2 256.1 536.1 255.6 537.0 255.1 C537.9 254.6 538.7 254.1 539.6 253.5 C540.5 253.0 541.4 252.4 542.2 251.9 C543.1 251.3 544.0 250.8 544.9 250.2 C545.7 249.7 546.6 249.1 547.5 248.5 C548.4 248.0 549.2 247.4 550.1 246.8 C551.0 246.2 551.9 245.6 552.7 245.0 C553.6 244.5 554.5 243.9 555.4 243.3 C556.2 242.7 557.1 242.1 558.0 241.5 C558.9 240.9 559.7 240.3 560.6 239.7 C561.5 239.1 562.4 238.5 563.2 237.9 C564.1 237.2 565.0 236.6 565.9 236.0 C566.7 235.4 567.6 234.8 568.5 234.2 C569.4 233.6 570.2 233.0 571.1 232.4 C572.0 231.7 572.9 231.1 573.8 230.5 C574.6 229.9 575.5 229.3 576.4 228.7 C577.3 228.0 578.1 227.4 579.0 226.8 C579.9 226.2 580.8 225.6 581.6 225.0 C582.5 224.3 583.4 223.7 584.3 223.1 C585.1 222.5 586.0 221.9 586.9 221.3 C587.8 220.7 588.6 220.0 589.5 219.4 C590.4 218.8 591.3 218.2 592.1 217.6 C593.0 217.0 593.9 216.5 594.8 215.9 C595.6 215.3 596.5 214.7 597.4 214.2 C598.3 213.6 599.1 213.1 600.0 212.6 C600.9 212.1 601.8 211.6 602.6 211.1 C603.5 210.6 604.4 210.1 605.3 209.6 C606.1 209.2 607.0 208.7 607.9 208.3 C608.8 207.9 609.6 207.4 610.5 207.0 C611.4 206.6 612.3 206.1 613.1 205.8 C614.0 205.4 614.9 204.9 615.8 204.7 C616.6 204.5 617.5 204.6 618.4 204.6 C619.3 204.5 620.1 204.6 621.0 204.5 C621.9 204.5 622.8 204.5 623.6 204.5 C624.5 204.5 625.4 204.5 626.3 204.5 C627.1 204.5 628.5 204.5 628.9 204.5" stroke="#F1C970"/>
<path d="M447.7 315.2 C448.1 314.6 449.5 312.9 450.3 311.7 C451.2 310.5 452.1 309.4 453.0 308.2 C453.8 307.1 454.7 305.9 455.6 304.7 C456.5 303.6 457.3 302.4 458.2 301.3 C459.1 300.1 460.0 299.0 460.8 297.9 C461.7 296.8 462.6 295.6 463.5 294.5 C464.3 293.4 465.2 292.3 466.1 291.3 C467.0 290.2 467.8 289.2 468.7 288.2 C469.6 287.1 470.5 286.1 471.3 285.2 C472.2 284.2 473.1 283.3 474.0 282.4 C474.8 281.6 475.7 280.7 476.6 279.9 C477.5 279.2 478.3 278.4 479.2 277.7 C480.1 277.1 481.0 276.4 481.8 275.9 C482.7 275.3 483.6 274.8 484.5 274.3 C485.3 273.8 486.2 273.4 487.1 273.0 C488.0 272.7 488.8 272.3 489.7 272.0 C490.6 271.7 491.5 271.4 492.3 271.1 C493.2 270.9 494.1 270.6 495.0 270.4 C495.8 270.2 496.7 269.9 497.6 269.7 C498.5 269.5 499.3 269.3 500.2 269.1 C501.1 268.9 502.0 268.7 502.8 268.4 C503.7 268.2 504.6 268.0 505.5 267.8 C506.3 267.5 507.2 267.3 508.1 267.1 C509.0 266.8 509.8 266.6 510.7 266.3 C511.6 266.0 512.5 265.7 513.4 265.4 C514.2 265.1 515.1 264.8 516.0 264.5 C516.9 264.2 517.7 263.9 518.6 263.5 C519.5 263.2 520.4 262.8 521.2 262.4 C522.1 262.0 523.0 261.6 523.9 261.2 C524.7 260.8 525.6 260.4 526.5 260.0 C527.4 259.5 528.2 259.1 529.1 258.6 C530.0 258.2 530.9 257.7 531.7 257.2 C532.6 256.7 533.5 256.2 534.4 255.7 C535.2 255.2 536.1 254.7 537.0 254.2 C537.9 253.7 538.7 253.2 539.6 252.6 C540.5 252.1 541.4 251.6 542.2 251.0 C543.1 250.5 544.0 249.9 544.9 249.3 C545.7 248.8 546.6 248.2 547.5 247.6 C548.4 247.1 549.2 246.5 550.1 245.9 C551.0 245.3 551.9 244.8 552.7 244.2 C553.6 243.6 554.5 243.0 555.4 242.4 C556.2 241.8 557.1 241.2 558.0 240.6 C558.9 240.0 559.7 239.4 560.6 238.8 C561.5 238.2 562.4 237.6 563.2 237.0 C564.1 236.4 565.0 235.8 565.9 235.2 C566.7 234.6 567.6 234.0 568.5 233.4 C569.4 232.8 570.2 232.2 571.1 231.6 C572.0 230.9 572.9 230.3 573.8 229.7 C574.6 229.1 575.5 228.5 576.4 227.9 C577.3 227.3 578.1 226.7 579.0 226.1 C579.9 225.5 580.8 224.8 581.6 224.2 C582.5 223.6 583.4 223.0 584.3 222.4 C585.1 221.8 586.0 221.2 586.9 220.6 C587.8 220.0 588.6 219.4 589.5 218.8 C590.4 218.2 591.3 217.6 592.1 217.0 C593.0 216.5 593.9 215.9 594.8 215.3 C595.6 214.8 596.5 214.2 597.4 213.7 C598.3 213.2 599.1 212.7 600.0 212.2 C600.9 211.7 601.8 211.3 602.6 210.8 C603.5 210.4 604.4 210.0 605.3 209.6 C606.1 209.2 607.0 208.8 607.9 208.4 C608.8 208.0 609.6 207.7 610.5 207.3 C611.4 207.0 612.3 206.6 613.1 206.3 C614.0 206.0 614.9 205.6 615.8 205.4 C616.6 205.3 617.5 205.3 618.4 205.3 C619.3 205.3 620.1 205.3 621.0 205.3 C621.9 205.3 622.8 205.3 623.6 205.3 C624.5 205.3 625.4 205.3 626.3 205.3 C627.1 205.3 628.5 205.3 628.9 205.3" stroke="#EAE5A6"/>
<path d="M447.7 315.2 C448.1 314.6 449.5 312.9 450.3 311.7 C451.2 310.5 452.1 309.4 453.0 308.2 C453.8 307.1 454.7 305.9 455.6 304.7 C456.5 303.6 457.3 302.4 458.2 301.3 C459.1 300.1 460.0 299.0 460.8 297.9 C461.7 296.8 462.6 295.6 463.5 294.5 C464.3 293.4 465.2 292.3 466.1 291.3 C467.0 290.2 467.8 289.2 468.7 288.1 C469.6 287.1 470.5 286.1 471.3 285.2 C472.2 284.2 473.1 283.3 474.0 282.4 C474.8 281.5 475.7 280.7 476.6 279.9 C477.5 279.1 478.3 278.4 479.2 277.7 C480.1 277.0 481.0 276.4 481.8 275.8 C482.7 275.2 483.6 274.7 484.5 274.2 C485.3 273.7 486.2 273.3 487.1 272.9 C488.0 272.5 488.8 272.2 489.7 271.9 C490.6 271.5 491.5 271.2 492.3 271.0 C493.2 270.7 494.1 270.4 495.0 270.2 C495.8 269.9 496.7 269.7 497.6 269.5 C498.5 269.2 499.3 269.0 500.2 268.8 C501.1 268.6 502.0 268.3 502.8 268.1 C503.7 267.9 504.6 267.6 505.5 267.4 C506.3 267.1 507.2 266.9 508.1 266.6 C509.0 266.3 509.8 266.1 510.7 265.8 C511.6 265.5 512.5 265.2 513.4 264.9 C514.2 264.6 515.1 264.2 516.0 263.9 C516.9 263.6 517.7 263.2 518.6 262.8 C519.5 262.5 520.4 262.1 521.2 261.7 C522.1 261.3 523.0 260.9 523.9 260.5 C524.7 260.1 525.6 259.6 526.5 259.2 C527.4 258.7 528.2 258.3 529.1 257.8 C530.0 257.3 530.9 256.9 531.7 256.4 C532.6 255.9 533.5 255.4 534.4 254.9 C535.2 254.4 536.1 253.9 537.0 253.3 C537.9 252.8 538.7 252.3 539.6 251.7 C540.5 251.2 541.4 250.7 542.2 250.1 C543.1 249.6 544.0 249.0 544.9 248.4 C545.7 247.9 546.6 247.3 547.5 246.7 C548.4 246.2 549.2 245.6 550.1 245.0 C551.0 244.4 551.9 243.9 552.7 243.3 C553.6 242.7 554.5 242.1 555.4 241.5 C556.2 240.9 557.1 240.3 558.0 239.8 C558.9 239.2 559.7 238.6 560.6 238.0 C561.5 237.4 562.4 236.8 563.2 236.2 C564.1 235.6 565.0 235.0 565.9 234.4 C566.7 233.8 567.6 233.2 568.5 232.6 C569.4 232.0 570.2 231.4 571.1 230.8 C572.0 230.2 572.9 229.6 573.8 229.0 C574.6 228.3 575.5 227.7 576.4 227.1 C577.3 226.5 578.1 225.9 579.0 225.3 C579.9 224.7 580.8 224.1 581.6 223.5 C582.5 222.9 583.4 222.3 584.3 221.7 C585.1 221.1 586.0 220.5 586.9 219.9 C587.8 219.3 588.6 218.7 589.5 218.1 C590.4 217.6 591.3 217.0 592.1 216.4 C593.0 215.9 593.9 215.3 594.8 214.8 C595.6 214.2 596.5 213.7 597.4 213.2 C598.3 212.7 599.1 212.3 600.0 211.8 C600.9 211.4 601.8 211.0 602.6 210.6 C603.5 210.2 604.4 209.8 605.3 209.5 C606.1 209.1 607.0 208.8 607.9 208.5 C608.8 208.2 609.6 207.9 610.5 207.6 C611.4 207.4 612.3 207.1 613.1 206.8 C614.0 206.6 614.9 206.3 615.8 206.2 C616.6 206.0 617.5 206.1 618.4 206.1 C619.3 206.0 620.1 206.1 621.0 206.0 C621.9 206.0 622.8 206.0 623.6 206.0 C624.5 206.0 625.4 206.0 626.3 206.0 C627.1 206.0 628.5 206.0 628.9 206.0" stroke="#C3DDE9"/>
<path d="M447.7 315.2 C448.1 314.6 449.5 312.9 450.3 311.7 C451.2 310.5 452.1 309.4 453.0 308.2 C453.8 307.1 454.7 305.9 455.6 304.7 C456.5 303.6 457.3 302.4 458.2 301.3 C459.1 300.1 460.0 299.0 460.8 297.9 C461.7 296.8 462.6 295.6 463.5 294.5 C464.3 293.4 465.2 292.3 466.1 291.3 C467.0 290.2 467.8 289.2 468.7 288.1 C469.6 287.1 470.5 286.1 471.3 285.2 C472.2 284.2 473.1 283.3 474.0 282.4 C474.8 281.5 475.7 280.7 476.6 279.9 C477.5 279.1 478.3 278.3 479.2 277.7 C480.1 277.0 481.0 276.3 481.8 275.7 C482.7 275.2 483.6 274.6 484.5 274.1 C485.3 273.7 486.2 273.2 487.1 272.8 C488.0 272.4 488.8 272.0 489.7 271.7 C490.6 271.4 491.5 271.1 492.3 270.8 C493.2 270.5 494.1 270.2 495.0 270.0 C495.8 269.7 496.7 269.5 497.6 269.2 C498.5 269.0 499.3 268.7 500.2 268.5 C501.1 268.2 502.0 268.0 502.8 267.7 C503.7 267.5 504.6 267.2 505.5 267.0 C506.3 266.7 507.2 266.4 508.1 266.2 C509.0 265.9 509.8 265.6 510.7 265.3 C511.6 265.0 512.5 264.7 513.4 264.3 C514.2 264.0 515.1 263.6 516.0 263.3 C516.9 262.9 517.7 262.6 518.6 262.2 C519.5 261.8 520.4 261.4 521.2 261.0 C522.1 260.6 523.0 260.2 523.9 259.7 C524.7 259.3 525.6 258.9 526.5 258.4 C527.4 257.9 528.2 257.5 529.1 257.0 C530.0 256.5 530.9 256.0 531.7 255.5 C532.6 255.0 533.5 254.5 534.4 254.0 C535.2 253.5 536.1 253.0 537.0 252.5 C537.9 251.9 538.7 251.4 539.6 250.9 C540.5 250.3 541.4 249.8 542.2 249.2 C543.1 248.7 544.0 248.1 544.9 247.5 C545.7 247.0 546.6 246.4 547.5 245.9 C548.4 245.3 549.2 244.7 550.1 244.1 C551.0 243.6 551.9 243.0 552.7 242.4 C553.6 241.8 554.5 241.2 555.4 240.7 C556.2 240.1 557.1 239.5 558.0 238.9 C558.9 238.3 559.7 237.7 560.6 237.1 C561.5 236.5 562.4 235.9 563.2 235.3 C564.1 234.7 565.0 234.2 565.9 233.6 C566.7 233.0 567.6 232.4 568.5 231.8 C569.4 231.2 570.2 230.6 571.1 230.0 C572.0 229.4 572.9 228.8 573.8 228.2 C574.6 227.6 575.5 227.0 576.4 226.4 C577.3 225.8 578.1 225.2 579.0 224.6 C579.9 224.0 580.8 223.4 581.6 222.8 C582.5 222.2 583.4 221.6 584.3 221.0 C585.1 220.4 586.0 219.8 586.9 219.2 C587.8 218.6 588.6 218.1 589.5 217.5 C590.4 216.9 591.3 216.4 592.1 215.8 C593.0 215.3 593.9 214.7 594.8 214.2 C595.6 213.7 596.5 213.2 597.4 212.7 C598.3 212.3 599.1 211.8 600.0 211.4 C600.9 211.0 601.8 210.7 602.6 210.3 C603.5 210.0 604.4 209.7 605.3 209.4 C606.1 209.1 607.0 208.9 607.9 208.6 C608.8 208.4 609.6 208.2 610.5 208.0 C611.4 207.7 612.3 207.5 613.1 207.4 C614.0 207.2 614.9 207.0 615.8 206.9 C616.6 206.8 617.5 206.8 618.4 206.8 C619.3 206.8 620.1 206.8 621.0 206.8 C621.9 206.8 622.8 206.8 623.6 206.8 C624.5 206.8 625.4 206.8 626.3 206.8 C627.1 206.8 628.5 206.8 628.9 206.8" stroke="#8DBFDA"/>
<path d="M447.7 315.2 C448.1 314.6 449.5 312.9 450.3 311.7 C451.2 310.5 452.1 309.4 453.0 308.2 C453.8 307.1 454.7 305.9 455.6 304.7 C456.5 303.6 457.3 302.4 458.2 301.3 C459.1 300.1 460.0 299.0 460.8 297.9 C461.7 296.7 462.6 295.6 463.5 294.5 C464.3 293.4 465.2 292.3 466.1 291.3 C467.0 290.2 467.8 289.1 468.7 288.1 C469.6 287.1 470.5 286.1 471.3 285.1 C472.2 284.2 473.1 283.3 474.0 282.4 C474.8 281.5 475.7 280.6 476.6 279.8 C477.5 279.1 478.3 278.3 479.2 277.6 C480.1 276.9 481.0 276.3 481.8 275.7 C482.7 275.1 483.6 274.6 484.5 274.1 C485.3 273.6 486.2 273.1 487.1 272.7 C488.0 272.3 488.8 271.9 489.7 271.6 C490.6 271.2 491.5 270.9 492.3 270.6 C493.2 270.3 494.1 270.0 495.0 269.7 C495.8 269.5 496.7 269.2 497.6 268.9 C498.5 268.7 499.3 268.4 500.2 268.2 C501.1 267.9 502.0 267.7 502.8 267.4 C503.7 267.1 504.6 266.9 505.5 266.6 C506.3 266.3 507.2 266.0 508.1 265.7 C509.0 265.4 509.8 265.1 510.7 264.8 C511.6 264.4 512.5 264.1 513.4 263.8 C514.2 263.4 515.1 263.1 516.0 262.7 C516.9 262.3 517.7 261.9 518.6 261.5 C519.5 261.1 520.4 260.7 521.2 260.3 C522.1 259.9 523.0 259.4 523.9 259.0 C524.7 258.5 525.6 258.1 526.5 257.6 C527.4 257.1 528.2 256.7 529.1 256.2 C530.0 255.7 530.9 255.2 531.7 254.7 C532.6 254.2 533.5 253.7 534.4 253.2 C535.2 252.6 536.1 252.1 537.0 251.6 C537.9 251.0 538.7 250.5 539.6 250.0 C540.5 249.4 541.4 248.9 542.2 248.3 C543.1 247.8 544.0 247.2 544.9 246.6 C545.7 246.1 546.6 245.5 547.5 245.0 C548.4 244.4 549.2 243.8 550.1 243.2 C551.0 242.7 551.9 242.1 552.7 241.5 C553.6 240.9 554.5 240.4 555.4 239.8 C556.2 239.2 557.1 238.6 558.0 238.0 C558.9 237.4 559.7 236.9 560.6 236.3 C561.5 235.7 562.4 235.1 563.2 234.5 C564.1 233.9 565.0 233.3 565.9 232.7 C566.7 232.1 567.6 231.5 568.5 231.0 C569.4 230.4 570.2 229.8 571.1 229.2 C572.0 228.6 572.9 228.0 573.8 227.4 C574.6 226.8 575.5 226.2 576.4 225.6 C577.3 225.0 578.1 224.4 579.0 223.8 C579.9 223.2 580.8 222.6 581.6 222.1 C582.5 221.5 583.4 220.9 584.3 220.3 C585.1 219.7 586.0 219.1 586.9 218.5 C587.8 218.0 588.6 217.4 589.5 216.8 C590.4 216.3 591.3 215.7 592.1 215.2 C593.0 214.7 593.9 214.1 594.8 213.6 C595.6 213.2 596.5 212.7 597.4 212.2 C598.3 211.8 599.1 211.4 600.0 211.0 C600.9 210.7 601.8 210.4 602.6 210.1 C603.5 209.8 604.4 209.5 605.3 209.3 C606.1 209.1 607.0 208.9 607.9 208.7 C608.8 208.6 609.6 208.4 610.5 208.3 C611.4 208.1 612.3 208.0 613.1 207.9 C614.0 207.8 614.9 207.7 615.8 207.6 C616.6 207.6 617.5 207.6 618.4 207.6 C619.3 207.6 620.1 207.6 621.0 207.5 C621.9 207.5 622.8 207.5 623.6 207.5 C624.5 207.5 625.4 207.5 626.3 207.5 C627.1 207.5 628.5 207.5 628.9 207.5" stroke="#4E8EC2"/>
<path d="M447.7 315.2 C448.1 314.6 449.5 312.9 450.3 311.7 C451.2 310.5 452.1 309.4 453.0 308.2 C453.8 307.1 454.7 305.9 455.6 304.7 C456.5 303.6 457.3 302.4 458.2 301.3 C459.1 300.1 460.0 299.0 460.8 297.9 C461.7 296.7 462.6 295.6 463.5 294.5 C464.3 293.4 465.2 292.3 466.1 291.3 C467.0 290.2 467.8 289.1 468.7 288.1 C469.6 287.1 470.5 286.1 471.3 285.1 C472.2 284.2 473.1 283.2 474.0 282.3 C474.8 281.5 475.7 280.6 476.6 279.8 C477.5 279.0 478.3 278.3 479.2 277.6 C480.1 276.9 481.0 276.2 481.8 275.6 C482.7 275.0 483.6 274.5 484.5 274.0 C485.3 273.5 486.2 273.0 487.1 272.6 C488.0 272.2 488.8 271.8 489.7 271.4 C490.6 271.1 491.5 270.7 492.3 270.4 C493.2 270.1 494.1 269.8 495.0 269.5 C495.8 269.2 496.7 269.0 497.6 268.7 C498.5 268.4 499.3 268.1 500.2 267.9 C501.1 267.6 502.0 267.3 502.8 267.0 C503.7 266.8 504.6 266.5 505.5 266.2 C506.3 265.9 507.2 265.6 508.1 265.2 C509.0 264.9 509.8 264.6 510.7 264.3 C511.6 263.9 512.5 263.6 513.4 263.2 C514.2 262.8 515.1 262.5 516.0 262.1 C516.9 261.7 517.7 261.3 518.6 260.9 C519.5 260.4 520.4 260.0 521.2 259.6 C522.1 259.1 523.0 258.7 523.9 258.2 C524.7 257.8 525.6 257.3 526.5 256.8 C527.4 256.3 528.2 255.9 529.1 255.4 C530.0 254.9 530.9 254.4 531.7 253.8 C532.6 253.3 533.5 252.8 534.4 252.3 C535.2 251.8 536.1 251.2 537.0 250.7 C537.9 250.2 538.7 249.6 539.6 249.1 C540.5 248.5 541.4 248.0 542.2 247.4 C543.1 246.9 544.0 246.3 544.9 245.8 C545.7 245.2 546.6 244.6 547.5 244.1 C548.4 243.5 549.2 242.9 550.1 242.4 C551.0 241.8 551.9 241.2 552.7 240.6 C553.6 240.1 554.5 239.5 555.4 238.9 C556.2 238.3 557.1 237.7 558.0 237.2 C558.9 236.6 559.7 236.0 560.6 235.4 C561.5 234.8 562.4 234.3 563.2 233.7 C564.1 233.1 565.0 232.5 565.9 231.9 C566.7 231.3 567.6 230.7 568.5 230.1 C569.4 229.6 570.2 229.0 571.1 228.4 C572.0 227.8 572.9 227.2 573.8 226.6 C574.6 226.0 575.5 225.4 576.4 224.9 C577.3 224.3 578.1 223.7 579.0 223.1 C579.9 222.5 580.8 221.9 581.6 221.3 C582.5 220.8 583.4 220.2 584.3 219.6 C585.1 219.0 586.0 218.4 586.9 217.9 C587.8 217.3 588.6 216.7 589.5 216.2 C590.4 215.6 591.3 215.1 592.1 214.6 C593.0 214.1 593.9 213.6 594.8 213.1 C595.6 212.6 596.5 212.2 597.4 211.8 C598.3 211.4 599.1 211.0 600.0 210.7 C600.9 210.3 601.8 210.1 602.6 209.8 C603.5 209.6 604.4 209.4 605.3 209.2 C606.1 209.1 607.0 208.9 607.9 208.8 C608.8 208.7 609.6 208.7 610.5 208.6 C611.4 208.5 612.3 208.5 613.1 208.5 C614.0 208.4 614.9 208.4 615.8 208.4 C616.6 208.3 617.5 208.3 618.4 208.3 C619.3 208.3 620.1 208.3 621.0 208.3 C621.9 208.3 622.8 208.3 623.6 208.3 C624.5 208.3 625.4 208.3 626.3 208.3 C627.1 208.3 628.5 208.3 628.9 208.3" stroke="#2A55A3"/>
</g>
<g clip-path="url(#gl)" fill="none" stroke-width="1.3">
<path d="M447.7 430.1 C448.1 429.5 449.5 427.8 450.3 426.6 C451.2 425.4 452.1 424.3 453.0 423.1 C453.8 421.9 454.7 420.8 455.6 419.6 C456.5 418.5 457.3 417.3 458.2 416.2 C459.1 415.1 460.0 414.0 460.8 412.8 C461.7 411.7 462.6 410.6 463.5 409.5 C464.3 408.5 465.2 407.4 466.1 406.3 C467.0 405.3 467.8 404.3 468.7 403.3 C469.6 402.3 470.5 401.3 471.3 400.4 C472.2 399.5 473.1 398.6 474.0 397.7 C474.8 396.9 475.7 396.0 476.6 395.3 C477.5 394.5 478.3 393.8 479.2 393.1 C480.1 392.4 481.0 391.8 481.8 391.2 C482.7 390.6 483.6 390.0 484.5 389.5 C485.3 389.0 486.2 388.5 487.1 388.1 C488.0 387.6 488.8 387.2 489.7 386.8 C490.6 386.4 491.5 386.0 492.3 385.7 C493.2 385.3 494.1 384.9 495.0 384.6 C495.8 384.2 496.7 383.9 497.6 383.6 C498.5 383.2 499.3 382.9 500.2 382.6 C501.1 382.2 502.0 381.9 502.8 381.5 C503.7 381.2 504.6 380.9 505.5 380.5 C506.3 380.2 507.2 379.8 508.1 379.4 C509.0 379.1 509.8 378.7 510.7 378.3 C511.6 378.0 512.5 377.6 513.4 377.2 C514.2 376.8 515.1 376.4 516.0 376.0 C516.9 375.6 517.7 375.2 518.6 374.8 C519.5 374.4 520.4 374.0 521.2 373.6 C522.1 373.1 523.0 372.7 523.9 372.3 C524.7 371.8 525.6 371.4 526.5 371.0 C527.4 370.5 528.2 370.1 529.1 369.6 C530.0 369.2 530.9 368.7 531.7 368.3 C532.6 367.8 533.5 367.3 534.4 366.9 C535.2 366.4 536.1 365.9 537.0 365.5 C537.9 365.0 538.7 364.5 539.6 364.0 C540.5 363.6 541.4 363.1 542.2 362.6 C543.1 362.1 544.0 361.6 544.9 361.2 C545.7 360.7 546.6 360.2 547.5 359.7 C548.4 359.2 549.2 358.7 550.1 358.2 C551.0 357.7 551.9 357.2 552.7 356.8 C553.6 356.3 554.5 355.8 555.4 355.3 C556.2 354.8 557.1 354.3 558.0 353.8 C558.9 353.3 559.7 352.8 560.6 352.3 C561.5 351.8 562.4 351.3 563.2 350.8 C564.1 350.3 565.0 349.8 565.9 349.3 C566.7 348.8 567.6 348.3 568.5 347.8 C569.4 347.3 570.2 346.8 571.1 346.3 C572.0 345.8 572.9 345.3 573.8 344.8 C574.6 344.3 575.5 343.8 576.4 343.3 C577.3 342.8 578.1 342.3 579.0 341.8 C579.9 341.3 580.8 340.8 581.6 340.3 C582.5 339.8 583.4 339.3 584.3 338.8 C585.1 338.3 586.0 337.8 586.9 337.3 C587.8 336.8 588.6 336.3 589.5 335.8 C590.4 335.3 591.3 334.8 592.1 334.3 C593.0 333.9 593.9 333.4 594.8 332.9 C595.6 332.4 596.5 331.9 597.4 331.4 C598.3 331.0 599.1 330.5 600.0 330.0 C600.9 329.6 601.8 329.1 602.6 328.7 C603.5 328.2 604.4 327.8 605.3 327.3 C606.1 326.9 607.0 326.5 607.9 326.1 C608.8 325.7 609.6 325.3 610.5 324.9 C611.4 324.5 612.3 324.2 613.1 323.8 C614.0 323.5 614.9 323.2 615.8 322.9 C616.6 322.6 617.5 322.3 618.4 322.1 C619.3 321.8 620.1 321.6 621.0 321.4 C621.9 321.1 622.8 321.0 623.6 320.8 C624.5 320.6 625.4 320.5 626.3 320.3 C627.1 320.2 628.5 320.0 628.9 320.0" stroke="#CF2A27"/>
<path d="M447.7 430.2 C448.1 429.6 449.5 427.9 450.3 426.7 C451.2 425.6 452.1 424.4 453.0 423.2 C453.8 422.1 454.7 420.9 455.6 419.8 C456.5 418.6 457.3 417.5 458.2 416.4 C459.1 415.2 460.0 414.1 460.8 413.0 C461.7 411.9 462.6 410.8 463.5 409.7 C464.3 408.6 465.2 407.5 466.1 406.5 C467.0 405.5 467.8 404.4 468.7 403.4 C469.6 402.5 470.5 401.5 471.3 400.6 C472.2 399.7 473.1 398.8 474.0 397.9 C474.8 397.1 475.7 396.3 476.6 395.5 C477.5 394.8 478.3 394.1 479.2 393.4 C480.1 392.8 481.0 392.1 481.8 391.6 C482.7 391.0 483.6 390.5 484.5 390.0 C485.3 389.5 486.2 389.1 487.1 388.7 C488.0 388.2 488.8 387.9 489.7 387.5 C490.6 387.1 491.5 386.8 492.3 386.4 C493.2 386.1 494.1 385.8 495.0 385.5 C495.8 385.2 496.7 384.9 497.6 384.6 C498.5 384.3 499.3 384.0 500.2 383.7 C501.1 383.4 502.0 383.1 502.8 382.8 C503.7 382.4 504.6 382.1 505.5 381.8 C506.3 381.5 507.2 381.2 508.1 380.9 C509.0 380.5 509.8 380.2 510.7 379.9 C511.6 379.5 512.5 379.2 513.4 378.8 C514.2 378.5 515.1 378.1 516.0 377.7 C516.9 377.3 517.7 377.0 518.6 376.6 C519.5 376.2 520.4 375.8 521.2 375.4 C522.1 375.0 523.0 374.6 523.9 374.2 C524.7 373.8 525.6 373.4 526.5 372.9 C527.4 372.5 528.2 372.1 529.1 371.7 C530.0 371.2 530.9 370.8 531.7 370.3 C532.6 369.9 533.5 369.5 534.4 369.0 C535.2 368.6 536.1 368.1 537.0 367.7 C537.9 367.2 538.7 366.7 539.6 366.3 C540.5 365.8 541.4 365.3 542.2 364.9 C543.1 364.4 544.0 363.9 544.9 363.5 C545.7 363.0 546.6 362.5 547.5 362.0 C548.4 361.6 549.2 361.1 550.1 360.6 C551.0 360.1 551.9 359.6 552.7 359.1 C553.6 358.7 554.5 358.2 555.4 357.7 C556.2 357.2 557.1 356.7 558.0 356.2 C558.9 355.7 559.7 355.3 560.6 354.8 C561.5 354.3 562.4 353.8 563.2 353.3 C564.1 352.8 565.0 352.3 565.9 351.8 C566.7 351.3 567.6 350.8 568.5 350.3 C569.4 349.8 570.2 349.3 571.1 348.8 C572.0 348.3 572.9 347.9 573.8 347.4 C574.6 346.9 575.5 346.4 576.4 345.9 C577.3 345.4 578.1 344.9 579.0 344.4 C579.9 343.9 580.8 343.4 581.6 342.9 C582.5 342.4 583.4 341.9 584.3 341.4 C585.1 340.9 586.0 340.4 586.9 339.9 C587.8 339.4 588.6 338.9 589.5 338.4 C590.4 337.9 591.3 337.4 592.1 336.9 C593.0 336.4 593.9 335.9 594.8 335.4 C595.6 334.9 596.5 334.4 597.4 334.0 C598.3 333.5 599.1 333.0 600.0 332.5 C600.9 332.0 601.8 331.5 602.6 331.0 C603.5 330.6 604.4 330.1 605.3 329.6 C606.1 329.2 607.0 328.7 607.9 328.2 C608.8 327.8 609.6 327.3 610.5 326.9 C611.4 326.5 612.3 326.1 613.1 325.7 C614.0 325.3 614.9 324.9 615.8 324.5 C616.6 324.2 617.5 323.9 618.4 323.6 C619.3 323.3 620.1 323.0 621.0 322.7 C621.9 322.5 622.8 322.3 623.6 322.1 C624.5 321.9 625.4 321.7 626.3 321.6 C627.1 321.5 628.5 321.3 628.9 321.2" stroke="#E6553A"/>
<path d="M447.7 430.4 C448.1 429.8 449.5 428.1 450.3 426.9 C451.2 425.7 452.1 424.6 453.0 423.4 C453.8 422.2 454.7 421.1 455.6 419.9 C456.5 418.8 457.3 417.6 458.2 416.5 C459.1 415.4 460.0 414.2 460.8 413.1 C461.7 412.0 462.6 410.9 463.5 409.8 C464.3 408.8 465.2 407.7 466.1 406.6 C467.0 405.6 467.8 404.6 468.7 403.6 C469.6 402.6 470.5 401.7 471.3 400.7 C472.2 399.8 473.1 398.9 474.0 398.1 C474.8 397.3 475.7 396.5 476.6 395.7 C477.5 395.0 478.3 394.3 479.2 393.7 C480.1 393.0 481.0 392.4 481.8 391.9 C482.7 391.3 483.6 390.8 484.5 390.4 C485.3 389.9 486.2 389.5 487.1 389.1 C488.0 388.7 488.8 388.4 489.7 388.1 C490.6 387.7 491.5 387.4 492.3 387.1 C493.2 386.9 494.1 386.6 495.0 386.3 C495.8 386.0 496.7 385.8 497.6 385.5 C498.5 385.3 499.3 385.0 500.2 384.8 C501.1 384.5 502.0 384.3 502.8 384.0 C503.7 383.7 504.6 383.5 505.5 383.2 C506.3 382.9 507.2 382.7 508.1 382.4 C509.0 382.1 509.8 381.8 510.7 381.5 C511.6 381.2 512.5 380.9 513.4 380.6 C514.2 380.3 515.1 379.9 516.0 379.6 C516.9 379.3 517.7 378.9 518.6 378.6 C519.5 378.2 520.4 377.9 521.2 377.5 C522.1 377.1 523.0 376.7 523.9 376.4 C524.7 376.0 525.6 375.6 526.5 375.2 C527.4 374.8 528.2 374.4 529.1 374.0 C530.0 373.6 530.9 373.1 531.7 372.7 C532.6 372.3 533.5 371.9 534.4 371.4 C535.2 371.0 536.1 370.6 537.0 370.1 C537.9 369.7 538.7 369.2 539.6 368.8 C540.5 368.3 541.4 367.9 542.2 367.4 C543.1 366.9 544.0 366.5 544.9 366.0 C545.7 365.5 546.6 365.1 547.5 364.6 C548.4 364.1 549.2 363.6 550.1 363.2 C551.0 362.7 551.9 362.2 552.7 361.7 C553.6 361.2 554.5 360.8 555.4 360.3 C556.2 359.8 557.1 359.3 558.0 358.8 C558.9 358.3 559.7 357.8 560.6 357.3 C561.5 356.9 562.4 356.4 563.2 355.9 C564.1 355.4 565.0 354.9 565.9 354.4 C566.7 353.9 567.6 353.4 568.5 352.9 C569.4 352.4 570.2 351.9 571.1 351.4 C572.0 350.9 572.9 350.4 573.8 349.9 C574.6 349.4 575.5 348.9 576.4 348.4 C577.3 347.9 578.1 347.4 579.0 346.9 C579.9 346.4 580.8 345.9 581.6 345.4 C582.5 344.9 583.4 344.4 584.3 343.9 C585.1 343.4 586.0 342.9 586.9 342.4 C587.8 341.9 588.6 341.4 589.5 340.9 C590.4 340.4 591.3 339.9 592.1 339.4 C593.0 338.9 593.9 338.4 594.8 337.9 C595.6 337.4 596.5 336.9 597.4 336.4 C598.3 335.9 599.1 335.4 600.0 334.9 C600.9 334.4 601.8 333.9 602.6 333.3 C603.5 332.8 604.4 332.3 605.3 331.8 C606.1 331.3 607.0 330.8 607.9 330.3 C608.8 329.8 609.6 329.3 610.5 328.8 C611.4 328.3 612.3 327.9 613.1 327.4 C614.0 326.9 614.9 326.4 615.8 326.0 C616.6 325.6 617.5 325.2 618.4 324.8 C619.3 324.5 620.1 324.2 621.0 324.0 C621.9 323.7 622.8 323.6 623.6 323.5 C624.5 323.3 625.4 323.3 626.3 323.2 C627.1 323.2 628.5 323.1 628.9 323.1" stroke="#F29A54"/>
<path d="M447.7 431 C448.1 430.4 449.5 428.7 450.3 427.5 C451.2 426.3 452.1 425.2 453.0 424.0 C453.8 422.8 454.7 421.7 455.6 420.5 C456.5 419.4 457.3 418.2 458.2 417.0 C459.1 415.9 460.0 414.8 460.8 413.6 C461.7 412.5 462.6 411.4 463.5 410.2 C464.3 409.1 465.2 408.0 466.1 406.9 C467.0 405.9 467.8 404.8 468.7 403.8 C469.6 402.7 470.5 401.7 471.3 400.7 C472.2 399.7 473.1 398.8 474.0 397.9 C474.8 397.0 475.7 396.1 476.6 395.3 C477.5 394.5 478.3 393.7 479.2 393.0 C480.1 392.3 481.0 391.6 481.8 391.0 C482.7 390.4 483.6 389.9 484.5 389.4 C485.3 388.9 486.2 388.5 487.1 388.1 C488.0 387.7 488.8 387.4 489.7 387.1 C490.6 386.8 491.5 386.6 492.3 386.4 C493.2 386.1 494.1 385.9 495.0 385.8 C495.8 385.6 496.7 385.4 497.6 385.3 C498.5 385.2 499.3 385.0 500.2 384.9 C501.1 384.8 502.0 384.7 502.8 384.6 C503.7 384.5 504.6 384.4 505.5 384.3 C506.3 384.2 507.2 384.1 508.1 384.0 C509.0 383.9 509.8 383.8 510.7 383.7 C511.6 383.6 512.5 383.4 513.4 383.3 C514.2 383.2 515.1 383.1 516.0 382.9 C516.9 382.8 517.7 382.7 518.6 382.5 C519.5 382.4 520.4 382.2 521.2 382.0 C522.1 381.8 523.0 381.7 523.9 381.5 C524.7 381.3 525.6 381.1 526.5 380.8 C527.4 380.6 528.2 380.4 529.1 380.1 C530.0 379.9 530.9 379.6 531.7 379.4 C532.6 379.1 533.5 378.8 534.4 378.5 C535.2 378.2 536.1 377.9 537.0 377.6 C537.9 377.3 538.7 376.9 539.6 376.6 C540.5 376.2 541.4 375.9 542.2 375.5 C543.1 375.1 544.0 374.7 544.9 374.4 C545.7 374.0 546.6 373.6 547.5 373.1 C548.4 372.7 549.2 372.3 550.1 371.9 C551.0 371.4 551.9 371.0 552.7 370.5 C553.6 370.1 554.5 369.6 555.4 369.2 C556.2 368.7 557.1 368.2 558.0 367.7 C558.9 367.3 559.7 366.8 560.6 366.3 C561.5 365.8 562.4 365.3 563.2 364.8 C564.1 364.3 565.0 363.8 565.9 363.3 C566.7 362.8 567.6 362.3 568.5 361.7 C569.4 361.2 570.2 360.7 571.1 360.2 C572.0 359.7 572.9 359.1 573.8 358.6 C574.6 358.1 575.5 357.5 576.4 357.0 C577.3 356.5 578.1 355.9 579.0 355.4 C579.9 354.9 580.8 354.3 581.6 353.8 C582.5 353.3 583.4 352.7 584.3 352.2 C585.1 351.6 586.0 351.1 586.9 350.5 C587.8 350.0 588.6 349.4 589.5 348.9 C590.4 348.4 591.3 347.8 592.1 347.3 C593.0 346.7 593.9 346.2 594.8 345.6 C595.6 345.1 596.5 344.5 597.4 344.0 C598.3 343.4 599.1 342.9 600.0 342.3 C600.9 341.8 601.8 341.2 602.6 340.7 C603.5 340.1 604.4 339.6 605.3 339.0 C606.1 338.5 607.0 337.9 607.9 337.3 C608.8 336.8 609.6 336.2 610.5 335.7 C611.4 335.1 612.3 334.6 613.1 334.0 C614.0 333.5 614.9 332.9 615.8 332.4 C616.6 331.8 617.5 331.3 618.4 330.7 C619.3 330.1 620.1 329.6 621.0 329.0 C621.9 328.5 622.8 327.9 623.6 327.4 C624.5 326.8 625.4 326.3 626.3 325.7 C627.1 325.2 628.5 324.3 628.9 324.0" stroke="#F1C970"/>
<path d="M447.7 431.1 C448.1 430.5 449.5 428.7 450.3 427.5 C451.2 426.4 452.1 425.2 453.0 424.0 C453.8 422.9 454.7 421.7 455.6 420.6 C456.5 419.4 457.3 418.2 458.2 417.1 C459.1 416.0 460.0 414.8 460.8 413.7 C461.7 412.6 462.6 411.4 463.5 410.3 C464.3 409.2 465.2 408.1 466.1 407.1 C467.0 406.0 467.8 404.9 468.7 403.9 C469.6 402.9 470.5 401.9 471.3 400.9 C472.2 400.0 473.1 399.0 474.0 398.2 C474.8 397.3 475.7 396.4 476.6 395.7 C477.5 394.9 478.3 394.2 479.2 393.5 C480.1 392.8 481.0 392.2 481.8 391.7 C482.7 391.1 483.6 390.6 484.5 390.2 C485.3 389.7 486.2 389.4 487.1 389.0 C488.0 388.7 488.8 388.4 489.7 388.2 C490.6 387.9 491.5 387.7 492.3 387.5 C493.2 387.4 494.1 387.2 495.0 387.1 C495.8 387.0 496.7 386.9 497.6 386.8 C498.5 386.7 499.3 386.6 500.2 386.6 C501.1 386.5 502.0 386.5 502.8 386.4 C503.7 386.4 504.6 386.3 505.5 386.3 C506.3 386.3 507.2 386.2 508.1 386.2 C509.0 386.2 509.8 386.2 510.7 386.2 C511.6 386.1 512.5 386.1 513.4 386.1 C514.2 386.1 515.1 386.1 516.0 386.1 C516.9 386.0 517.7 386.0 518.6 386.0 C519.5 386.0 520.4 386.0 521.2 385.9 C522.1 385.9 523.0 385.9 523.9 385.9 C524.7 385.8 525.6 385.8 526.5 385.8 C527.4 385.8 528.2 385.7 529.1 385.7 C530.0 385.6 530.9 385.6 531.7 385.6 C532.6 385.5 533.5 385.5 534.4 385.4 C535.2 385.3 536.1 385.3 537.0 385.2 C537.9 385.1 538.7 385.0 539.6 384.9 C540.5 384.8 541.4 384.7 542.2 384.6 C543.1 384.5 544.0 384.4 544.9 384.2 C545.7 384.1 546.6 383.9 547.5 383.8 C548.4 383.6 549.2 383.4 550.1 383.2 C551.0 383.0 551.9 382.8 552.7 382.5 C553.6 382.3 554.5 382.0 555.4 381.7 C556.2 381.4 557.1 381.1 558.0 380.8 C558.9 380.5 559.7 380.1 560.6 379.7 C561.5 379.4 562.4 379.0 563.2 378.6 C564.1 378.1 565.0 377.7 565.9 377.2 C566.7 376.8 567.6 376.3 568.5 375.8 C569.4 375.3 570.2 374.8 571.1 374.2 C572.0 373.7 572.9 373.2 573.8 372.6 C574.6 372.0 575.5 371.4 576.4 370.8 C577.3 370.2 578.1 369.6 579.0 369.0 C579.9 368.4 580.8 367.8 581.6 367.1 C582.5 366.5 583.4 365.8 584.3 365.2 C585.1 364.5 586.0 363.9 586.9 363.2 C587.8 362.5 588.6 361.9 589.5 361.2 C590.4 360.5 591.3 359.8 592.1 359.1 C593.0 358.4 593.9 357.7 594.8 357.1 C595.6 356.4 596.5 355.7 597.4 355.0 C598.3 354.3 599.1 353.6 600.0 352.8 C600.9 352.1 601.8 351.4 602.6 350.7 C603.5 350.0 604.4 349.3 605.3 348.6 C606.1 347.9 607.0 347.2 607.9 346.5 C608.8 345.7 609.6 345.0 610.5 344.3 C611.4 343.6 612.3 342.9 613.1 342.2 C614.0 341.5 614.9 340.7 615.8 340.0 C616.6 339.3 617.5 338.6 618.4 337.9 C619.3 337.1 620.1 336.4 621.0 335.7 C621.9 335.0 622.8 334.1 623.6 333.6 C624.5 333.0 625.4 332.5 626.3 332.2 C627.1 332.0 628.5 332.2 628.9 332.2" stroke="#EAE5A6"/>
<path d="M447.7 431 C448.1 430.5 449.5 428.7 450.3 427.5 C451.2 426.4 452.1 425.2 453.0 424.0 C453.8 422.9 454.7 421.7 455.6 420.6 C456.5 419.4 457.3 418.3 458.2 417.1 C459.1 416.0 460.0 414.9 460.8 413.7 C461.7 412.6 462.6 411.5 463.5 410.4 C464.3 409.3 465.2 408.3 466.1 407.2 C467.0 406.2 467.8 405.1 468.7 404.1 C469.6 403.1 470.5 402.2 471.3 401.3 C472.2 400.3 473.1 399.5 474.0 398.6 C474.8 397.8 475.7 397.0 476.6 396.3 C477.5 395.6 478.3 394.9 479.2 394.3 C480.1 393.7 481.0 393.1 481.8 392.6 C482.7 392.2 483.6 391.7 484.5 391.3 C485.3 391.0 486.2 390.6 487.1 390.4 C488.0 390.1 488.8 389.8 489.7 389.6 C490.6 389.4 491.5 389.2 492.3 389.1 C493.2 389.0 494.1 388.8 495.0 388.7 C495.8 388.6 496.7 388.5 497.6 388.5 C498.5 388.4 499.3 388.4 500.2 388.3 C501.1 388.3 502.0 388.2 502.8 388.2 C503.7 388.1 504.6 388.1 505.5 388.1 C506.3 388.1 507.2 388.1 508.1 388.0 C509.0 388.0 509.8 388.0 510.7 388.0 C511.6 388.0 512.5 388.0 513.4 388.0 C514.2 388.0 515.1 388.0 516.0 388.0 C516.9 388.0 517.7 387.9 518.6 387.9 C519.5 387.9 520.4 387.9 521.2 387.9 C522.1 387.9 523.0 387.9 523.9 387.9 C524.7 387.9 525.6 387.9 526.5 387.9 C527.4 387.9 528.2 387.9 529.1 387.9 C530.0 387.9 530.9 387.9 531.7 387.9 C532.6 387.8 533.5 387.8 534.4 387.8 C535.2 387.8 536.1 387.8 537.0 387.8 C537.9 387.8 538.7 387.8 539.6 387.8 C540.5 387.7 541.4 387.7 542.2 387.7 C543.1 387.7 544.0 387.7 544.9 387.6 C545.7 387.6 546.6 387.6 547.5 387.5 C548.4 387.5 549.2 387.5 550.1 387.4 C551.0 387.4 551.9 387.3 552.7 387.3 C553.6 387.2 554.5 387.2 555.4 387.1 C556.2 387.0 557.1 387.0 558.0 386.9 C558.9 386.8 559.7 386.7 560.6 386.6 C561.5 386.5 562.4 386.4 563.2 386.3 C564.1 386.1 565.0 386.0 565.9 385.8 C566.7 385.7 567.6 385.5 568.5 385.3 C569.4 385.1 570.2 384.9 571.1 384.7 C572.0 384.5 572.9 384.2 573.8 384.0 C574.6 383.7 575.5 383.4 576.4 383.1 C577.3 382.8 578.1 382.5 579.0 382.1 C579.9 381.8 580.8 381.4 581.6 381.0 C582.5 380.6 583.4 380.2 584.3 379.7 C585.1 379.3 586.0 378.8 586.9 378.3 C587.8 377.8 588.6 377.3 589.5 376.8 C590.4 376.3 591.3 375.7 592.1 375.2 C593.0 374.6 593.9 374.0 594.8 373.5 C595.6 372.9 596.5 372.3 597.4 371.7 C598.3 371.0 599.1 370.4 600.0 369.8 C600.9 369.1 601.8 368.5 602.6 367.8 C603.5 367.2 604.4 366.5 605.3 365.8 C606.1 365.2 607.0 364.5 607.9 363.8 C608.8 363.1 609.6 362.4 610.5 361.8 C611.4 361.1 612.3 360.4 613.1 359.7 C614.0 359.0 614.9 358.3 615.8 357.6 C616.6 356.8 617.5 356.1 618.4 355.4 C619.3 354.7 620.1 354.0 621.0 353.3 C621.9 352.6 622.8 351.9 623.6 351.1 C624.5 350.4 625.4 349.7 626.3 349.0 C627.1 348.3 628.5 347.2 628.9 346.8" stroke="#C3DDE9"/>
<path d="M447.7 430.9 C448.1 430.3 449.5 428.5 450.3 427.4 C451.2 426.2 452.1 425.0 453.0 423.9 C453.8 422.7 454.7 421.6 455.6 420.4 C456.5 419.3 457.3 418.1 458.2 417.0 C459.1 415.9 460.0 414.8 460.8 413.7 C461.7 412.6 462.6 411.5 463.5 410.4 C464.3 409.4 465.2 408.3 466.1 407.3 C467.0 406.3 467.8 405.3 468.7 404.4 C469.6 403.4 470.5 402.5 471.3 401.7 C472.2 400.8 473.1 400.0 474.0 399.2 C474.8 398.5 475.7 397.8 476.6 397.1 C477.5 396.5 478.3 395.9 479.2 395.4 C480.1 394.8 481.0 394.4 481.8 394.0 C482.7 393.5 483.6 393.2 484.5 392.9 C485.3 392.6 486.2 392.3 487.1 392.1 C488.0 391.8 488.8 391.7 489.7 391.5 C490.6 391.3 491.5 391.2 492.3 391.1 C493.2 391.0 494.1 390.9 495.0 390.8 C495.8 390.7 496.7 390.7 497.6 390.6 C498.5 390.5 499.3 390.5 500.2 390.5 C501.1 390.4 502.0 390.4 502.8 390.4 C503.7 390.3 504.6 390.3 505.5 390.3 C506.3 390.3 507.2 390.3 508.1 390.3 C509.0 390.2 509.8 390.2 510.7 390.2 C511.6 390.2 512.5 390.2 513.4 390.2 C514.2 390.2 515.1 390.2 516.0 390.2 C516.9 390.2 517.7 390.2 518.6 390.2 C519.5 390.1 520.4 390.1 521.2 390.1 C522.1 390.1 523.0 390.1 523.9 390.1 C524.7 390.1 525.6 390.1 526.5 390.1 C527.4 390.1 528.2 390.1 529.1 390.1 C530.0 390.1 530.9 390.0 531.7 390.0 C532.6 390.0 533.5 390.0 534.4 390.0 C535.2 390.0 536.1 390.0 537.0 389.9 C537.9 389.9 538.7 389.9 539.6 389.9 C540.5 389.9 541.4 389.9 542.2 389.8 C543.1 389.8 544.0 389.8 544.9 389.8 C545.7 389.7 546.6 389.7 547.5 389.7 C548.4 389.6 549.2 389.6 550.1 389.6 C551.0 389.5 551.9 389.5 552.7 389.4 C553.6 389.4 554.5 389.3 555.4 389.3 C556.2 389.2 557.1 389.2 558.0 389.1 C558.9 389.1 559.7 389.0 560.6 388.9 C561.5 388.8 562.4 388.8 563.2 388.7 C564.1 388.6 565.0 388.5 565.9 388.4 C566.7 388.3 567.6 388.2 568.5 388.1 C569.4 387.9 570.2 387.8 571.1 387.7 C572.0 387.5 572.9 387.4 573.8 387.2 C574.6 387.1 575.5 386.9 576.4 386.7 C577.3 386.6 578.1 386.4 579.0 386.2 C579.9 386.0 580.8 385.8 581.6 385.5 C582.5 385.3 583.4 385.1 584.3 384.8 C585.1 384.6 586.0 384.3 586.9 384.0 C587.8 383.8 588.6 383.5 589.5 383.2 C590.4 382.9 591.3 382.6 592.1 382.2 C593.0 381.9 593.9 381.6 594.8 381.2 C595.6 380.9 596.5 380.5 597.4 380.1 C598.3 379.8 599.1 379.4 600.0 379.0 C600.9 378.6 601.8 378.2 602.6 377.8 C603.5 377.4 604.4 377.0 605.3 376.5 C606.1 376.1 607.0 375.7 607.9 375.2 C608.8 374.8 609.6 374.3 610.5 373.9 C611.4 373.4 612.3 373.0 613.1 372.5 C614.0 372.0 614.9 371.5 615.8 371.1 C616.6 370.6 617.5 370.1 618.4 369.6 C619.3 369.1 620.1 368.6 621.0 368.1 C621.9 367.6 622.8 367.1 623.6 366.7 C624.5 366.3 625.4 365.9 626.3 365.7 C627.1 365.5 628.5 365.5 628.9 365.5" stroke="#8DBFDA"/>
<path d="M447.7 430.6 C448.1 430.0 449.5 428.3 450.3 427.1 C451.2 425.9 452.1 424.8 453.0 423.6 C453.8 422.5 454.7 421.4 455.6 420.2 C456.5 419.1 457.3 418.0 458.2 416.9 C459.1 415.8 460.0 414.7 460.8 413.6 C461.7 412.5 462.6 411.5 463.5 410.5 C464.3 409.4 465.2 408.4 466.1 407.5 C467.0 406.5 467.8 405.6 468.7 404.7 C469.6 403.8 470.5 403.0 471.3 402.2 C472.2 401.4 473.1 400.7 474.0 400.0 C474.8 399.4 475.7 398.7 476.6 398.2 C477.5 397.6 478.3 397.2 479.2 396.7 C480.1 396.3 481.0 395.9 481.8 395.6 C482.7 395.2 483.6 395.0 484.5 394.7 C485.3 394.5 486.2 394.3 487.1 394.1 C488.0 393.9 488.8 393.8 489.7 393.6 C490.6 393.5 491.5 393.4 492.3 393.3 C493.2 393.2 494.1 393.2 495.0 393.1 C495.8 393.0 496.7 393.0 497.6 393.0 C498.5 392.9 499.3 392.9 500.2 392.9 C501.1 392.8 502.0 392.8 502.8 392.8 C503.7 392.8 504.6 392.7 505.5 392.7 C506.3 392.7 507.2 392.7 508.1 392.7 C509.0 392.7 509.8 392.7 510.7 392.7 C511.6 392.7 512.5 392.6 513.4 392.6 C514.2 392.6 515.1 392.6 516.0 392.6 C516.9 392.6 517.7 392.6 518.6 392.6 C519.5 392.6 520.4 392.6 521.2 392.6 C522.1 392.6 523.0 392.5 523.9 392.5 C524.7 392.5 525.6 392.5 526.5 392.5 C527.4 392.5 528.2 392.5 529.1 392.5 C530.0 392.5 530.9 392.5 531.7 392.4 C532.6 392.4 533.5 392.4 534.4 392.4 C535.2 392.4 536.1 392.4 537.0 392.3 C537.9 392.3 538.7 392.3 539.6 392.3 C540.5 392.3 541.4 392.2 542.2 392.2 C543.1 392.2 544.0 392.2 544.9 392.1 C545.7 392.1 546.6 392.1 547.5 392.1 C548.4 392.0 549.2 392.0 550.1 392.0 C551.0 391.9 551.9 391.9 552.7 391.8 C553.6 391.8 554.5 391.8 555.4 391.7 C556.2 391.7 557.1 391.6 558.0 391.5 C558.9 391.5 559.7 391.4 560.6 391.4 C561.5 391.3 562.4 391.2 563.2 391.2 C564.1 391.1 565.0 391.0 565.9 390.9 C566.7 390.9 567.6 390.8 568.5 390.7 C569.4 390.6 570.2 390.5 571.1 390.4 C572.0 390.3 572.9 390.2 573.8 390.0 C574.6 389.9 575.5 389.8 576.4 389.7 C577.3 389.5 578.1 389.4 579.0 389.2 C579.9 389.1 580.8 388.9 581.6 388.8 C582.5 388.6 583.4 388.5 584.3 388.3 C585.1 388.1 586.0 387.9 586.9 387.7 C587.8 387.5 588.6 387.3 589.5 387.1 C590.4 386.9 591.3 386.7 592.1 386.4 C593.0 386.2 593.9 386.0 594.8 385.7 C595.6 385.5 596.5 385.2 597.4 385.0 C598.3 384.7 599.1 384.4 600.0 384.1 C600.9 383.8 601.8 383.6 602.6 383.3 C603.5 383.0 604.4 382.7 605.3 382.3 C606.1 382.0 607.0 381.7 607.9 381.4 C608.8 381.1 609.6 380.7 610.5 380.4 C611.4 380.0 612.3 379.7 613.1 379.3 C614.0 379.0 614.9 378.6 615.8 378.3 C616.6 377.9 617.5 377.5 618.4 377.2 C619.3 376.8 620.1 376.4 621.0 376.0 C621.9 375.6 622.8 375.2 623.6 374.9 C624.5 374.5 625.4 374.1 626.3 373.7 C627.1 373.3 628.5 372.7 628.9 372.5" stroke="#4E8EC2"/>
<path d="M447.7 429.7 C448.1 429.1 449.5 427.4 450.3 426.3 C451.2 425.1 452.1 424.0 453.0 422.9 C453.8 421.8 454.7 420.7 455.6 419.6 C456.5 418.5 457.3 417.5 458.2 416.4 C459.1 415.4 460.0 414.4 460.8 413.4 C461.7 412.4 462.6 411.5 463.5 410.6 C464.3 409.7 465.2 408.8 466.1 408.0 C467.0 407.2 467.8 406.4 468.7 405.7 C469.6 405.0 470.5 404.4 471.3 403.8 C472.2 403.2 473.1 402.7 474.0 402.2 C474.8 401.8 475.7 401.3 476.6 401.0 C477.5 400.6 478.3 400.3 479.2 400.0 C480.1 399.8 481.0 399.6 481.8 399.4 C482.7 399.2 483.6 399.0 484.5 398.9 C485.3 398.7 486.2 398.6 487.1 398.5 C488.0 398.4 488.8 398.3 489.7 398.2 C490.6 398.2 491.5 398.1 492.3 398.1 C493.2 398.0 494.1 398.0 495.0 397.9 C495.8 397.9 496.7 397.8 497.6 397.8 C498.5 397.8 499.3 397.8 500.2 397.7 C501.1 397.7 502.0 397.7 502.8 397.7 C503.7 397.6 504.6 397.6 505.5 397.6 C506.3 397.6 507.2 397.6 508.1 397.5 C509.0 397.5 509.8 397.5 510.7 397.5 C511.6 397.5 512.5 397.4 513.4 397.4 C514.2 397.4 515.1 397.4 516.0 397.4 C516.9 397.3 517.7 397.3 518.6 397.3 C519.5 397.3 520.4 397.3 521.2 397.2 C522.1 397.2 523.0 397.2 523.9 397.2 C524.7 397.1 525.6 397.1 526.5 397.1 C527.4 397.1 528.2 397.0 529.1 397.0 C530.0 397.0 530.9 396.9 531.7 396.9 C532.6 396.9 533.5 396.8 534.4 396.8 C535.2 396.8 536.1 396.7 537.0 396.7 C537.9 396.6 538.7 396.6 539.6 396.6 C540.5 396.5 541.4 396.5 542.2 396.4 C543.1 396.4 544.0 396.3 544.9 396.3 C545.7 396.2 546.6 396.2 547.5 396.1 C548.4 396.1 549.2 396.0 550.1 395.9 C551.0 395.9 551.9 395.8 552.7 395.8 C553.6 395.7 554.5 395.6 555.4 395.6 C556.2 395.5 557.1 395.4 558.0 395.3 C558.9 395.3 559.7 395.2 560.6 395.1 C561.5 395.0 562.4 394.9 563.2 394.9 C564.1 394.8 565.0 394.7 565.9 394.6 C566.7 394.5 567.6 394.4 568.5 394.3 C569.4 394.2 570.2 394.1 571.1 394.0 C572.0 393.9 572.9 393.8 573.8 393.7 C574.6 393.6 575.5 393.5 576.4 393.3 C577.3 393.2 578.1 393.1 579.0 393.0 C579.9 392.8 580.8 392.7 581.6 392.6 C582.5 392.5 583.4 392.3 584.3 392.2 C585.1 392.0 586.0 391.9 586.9 391.7 C587.8 391.6 588.6 391.5 589.5 391.3 C590.4 391.1 591.3 391.0 592.1 390.8 C593.0 390.7 593.9 390.5 594.8 390.3 C595.6 390.2 596.5 390.0 597.4 389.8 C598.3 389.7 599.1 389.5 600.0 389.3 C600.9 389.1 601.8 388.9 602.6 388.7 C603.5 388.6 604.4 388.4 605.3 388.2 C606.1 388.0 607.0 387.8 607.9 387.6 C608.8 387.4 609.6 387.2 610.5 387.0 C611.4 386.8 612.3 386.6 613.1 386.3 C614.0 386.1 614.9 385.9 615.8 385.7 C616.6 385.5 617.5 385.3 618.4 385.0 C619.3 384.8 620.1 384.6 621.0 384.4 C621.9 384.1 622.8 383.9 623.6 383.7 C624.5 383.5 625.4 383.2 626.3 383.0 C627.1 382.7 628.5 382.4 628.9 382.3" stroke="#2A55A3"/>
</g>
<line x1="447.7" y1="307.7" x2="530.8" y2="199.8" stroke="#111" stroke-width="1.3" stroke-dasharray="3 2.4"/>
<line x1="447.7" y1="295.6" x2="589.6" y2="199.8" stroke="#111" stroke-width="1.3" stroke-dasharray="3 2.4"/>
<line x1="447.7" y1="421.7" x2="528.7" y2="316.1" stroke="#111" stroke-width="1.3" stroke-dasharray="3 2.4"/>
<line x1="447.7" y1="410.9" x2="586.8" y2="316.1" stroke="#111" stroke-width="1.3" stroke-dasharray="3 2.4"/>
<text x="500.8" y="233.4" font-size="10" text-anchor="middle" fill="#1a1a1a" transform="rotate(-53 500.8 233.4)" >Ballistic</text>
<text x="535.4" y="233.8" font-size="10" text-anchor="middle" fill="#1a1a1a" transform="rotate(-33 535.4 233.8)" >Diffusive</text>
<text x="618.6" y="307.1" font-size="10" text-anchor="end" fill="#1a1a1a" >Fluid</text>
<text x="580.7" y="410.8" font-size="10" text-anchor="middle" fill="#1a1a1a" >Icosahedral cluster</text>
<text x="580.7" y="422.7" font-size="10" text-anchor="middle" fill="#1a1a1a" >Type 9<tspan font-size="7" dy="2">1</tspan></text>
<rect x="447.7" y="199.8" width="179.7" height="233.1" fill="none" stroke="#222" stroke-width="1"/>
<line x1="447.7" y1="316.1" x2="627.4" y2="316.1" stroke="#222" stroke-width="1" />
<path d="M447.7 199.8v3.2M447.7 432.9v-3.2M447.7 312.9v6.4M456.7 199.8v1.8M456.7 432.9v-1.8M456.7 314.3v3.6M462.0 199.8v1.8M462.0 432.9v-1.8M462.0 314.3v3.6M465.7 199.8v1.8M465.7 432.9v-1.8M465.7 314.3v3.6M468.6 199.8v1.8M468.6 432.9v-1.8M468.6 314.3v3.6M471.0 199.8v1.8M471.0 432.9v-1.8M471.0 314.3v3.6M473.0 199.8v1.8M473.0 432.9v-1.8M473.0 314.3v3.6M474.7 199.8v1.8M474.7 432.9v-1.8M474.7 314.3v3.6M476.3 199.8v1.8M476.3 432.9v-1.8M476.3 314.3v3.6M477.6 199.8v3.2M477.6 432.9v-3.2M477.6 312.9v6.4M486.7 199.8v1.8M486.7 432.9v-1.8M486.7 314.3v3.6M491.9 199.8v1.8M491.9 432.9v-1.8M491.9 314.3v3.6M495.7 199.8v1.8M495.7 432.9v-1.8M495.7 314.3v3.6M498.6 199.8v1.8M498.6 432.9v-1.8M498.6 314.3v3.6M501.0 199.8v1.8M501.0 432.9v-1.8M501.0 314.3v3.6M503.0 199.8v1.8M503.0 432.9v-1.8M503.0 314.3v3.6M504.7 199.8v1.8M504.7 432.9v-1.8M504.7 314.3v3.6M506.2 199.8v1.8M506.2 432.9v-1.8M506.2 314.3v3.6M507.6 199.8v3.2M507.6 432.9v-3.2M507.6 312.9v6.4M516.6 199.8v1.8M516.6 432.9v-1.8M516.6 314.3v3.6M521.9 199.8v1.8M521.9 432.9v-1.8M521.9 314.3v3.6M525.6 199.8v1.8M525.6 432.9v-1.8M525.6 314.3v3.6M528.5 199.8v1.8M528.5 432.9v-1.8M528.5 314.3v3.6M530.9 199.8v1.8M530.9 432.9v-1.8M530.9 314.3v3.6M532.9 199.8v1.8M532.9 432.9v-1.8M532.9 314.3v3.6M534.6 199.8v1.8M534.6 432.9v-1.8M534.6 314.3v3.6M536.2 199.8v1.8M536.2 432.9v-1.8M536.2 314.3v3.6M537.5 199.8v3.2M537.5 432.9v-3.2M537.5 312.9v6.4M546.6 199.8v1.8M546.6 432.9v-1.8M546.6 314.3v3.6M551.8 199.8v1.8M551.8 432.9v-1.8M551.8 314.3v3.6M555.6 199.8v1.8M555.6 432.9v-1.8M555.6 314.3v3.6M558.5 199.8v1.8M558.5 432.9v-1.8M558.5 314.3v3.6M560.9 199.8v1.8M560.9 432.9v-1.8M560.9 314.3v3.6M562.9 199.8v1.8M562.9 432.9v-1.8M562.9 314.3v3.6M564.6 199.8v1.8M564.6 432.9v-1.8M564.6 314.3v3.6M566.1 199.8v1.8M566.1 432.9v-1.8M566.1 314.3v3.6M567.5 199.8v3.2M567.5 432.9v-3.2M567.5 312.9v6.4M576.5 199.8v1.8M576.5 432.9v-1.8M576.5 314.3v3.6M581.8 199.8v1.8M581.8 432.9v-1.8M581.8 314.3v3.6M585.5 199.8v1.8M585.5 432.9v-1.8M585.5 314.3v3.6M588.4 199.8v1.8M588.4 432.9v-1.8M588.4 314.3v3.6M590.8 199.8v1.8M590.8 432.9v-1.8M590.8 314.3v3.6M592.8 199.8v1.8M592.8 432.9v-1.8M592.8 314.3v3.6M594.5 199.8v1.8M594.5 432.9v-1.8M594.5 314.3v3.6M596.1 199.8v1.8M596.1 432.9v-1.8M596.1 314.3v3.6M597.5 199.8v3.2M597.5 432.9v-3.2M597.5 312.9v6.4M606.5 199.8v1.8M606.5 432.9v-1.8M606.5 314.3v3.6M611.7 199.8v1.8M611.7 432.9v-1.8M611.7 314.3v3.6M615.5 199.8v1.8M615.5 432.9v-1.8M615.5 314.3v3.6M618.4 199.8v1.8M618.4 432.9v-1.8M618.4 314.3v3.6M620.8 199.8v1.8M620.8 432.9v-1.8M620.8 314.3v3.6M622.8 199.8v1.8M622.8 432.9v-1.8M622.8 314.3v3.6M624.5 199.8v1.8M624.5 432.9v-1.8M624.5 314.3v3.6M626.0 199.8v1.8M626.0 432.9v-1.8M626.0 314.3v3.6M447.7 315.8h1.8M627.4 315.8h-1.8M447.7 312.3h1.8M627.4 312.3h-1.8M447.7 309.7h1.8M627.4 309.7h-1.8M447.7 307.8h1.8M627.4 307.8h-1.8M447.7 306.2h1.8M627.4 306.2h-1.8M447.7 304.8h1.8M627.4 304.8h-1.8M447.7 303.7h1.8M627.4 303.7h-1.8M447.7 302.6h1.8M627.4 302.6h-1.8M447.7 301.7h3.2M627.4 301.7h-3.2M447.7 295.6h1.8M627.4 295.6h-1.8M447.7 292.1h1.8M627.4 292.1h-1.8M447.7 289.5h1.8M627.4 289.5h-1.8M447.7 287.6h1.8M627.4 287.6h-1.8M447.7 286.0h1.8M627.4 286.0h-1.8M447.7 284.6h1.8M627.4 284.6h-1.8M447.7 283.5h1.8M627.4 283.5h-1.8M447.7 282.4h1.8M627.4 282.4h-1.8M447.7 281.5h3.2M627.4 281.5h-3.2M447.7 275.4h1.8M627.4 275.4h-1.8M447.7 271.9h1.8M627.4 271.9h-1.8M447.7 269.3h1.8M627.4 269.3h-1.8M447.7 267.4h1.8M627.4 267.4h-1.8M447.7 265.8h1.8M627.4 265.8h-1.8M447.7 264.4h1.8M627.4 264.4h-1.8M447.7 263.3h1.8M627.4 263.3h-1.8M447.7 262.2h1.8M627.4 262.2h-1.8M447.7 261.3h3.2M627.4 261.3h-3.2M447.7 255.2h1.8M627.4 255.2h-1.8M447.7 251.7h1.8M627.4 251.7h-1.8M447.7 249.1h1.8M627.4 249.1h-1.8M447.7 247.2h1.8M627.4 247.2h-1.8M447.7 245.6h1.8M627.4 245.6h-1.8M447.7 244.2h1.8M627.4 244.2h-1.8M447.7 243.1h1.8M627.4 243.1h-1.8M447.7 242.0h1.8M627.4 242.0h-1.8M447.7 241.1h3.2M627.4 241.1h-3.2M447.7 235.0h1.8M627.4 235.0h-1.8M447.7 231.5h1.8M627.4 231.5h-1.8M447.7 228.9h1.8M627.4 228.9h-1.8M447.7 227.0h1.8M627.4 227.0h-1.8M447.7 225.4h1.8M627.4 225.4h-1.8M447.7 224.0h1.8M627.4 224.0h-1.8M447.7 222.9h1.8M627.4 222.9h-1.8M447.7 221.8h1.8M627.4 221.8h-1.8M447.7 220.9h3.2M627.4 220.9h-3.2M447.7 214.8h1.8M627.4 214.8h-1.8M447.7 211.3h1.8M627.4 211.3h-1.8M447.7 208.7h1.8M627.4 208.7h-1.8M447.7 206.8h1.8M627.4 206.8h-1.8M447.7 205.2h1.8M627.4 205.2h-1.8M447.7 203.8h1.8M627.4 203.8h-1.8M447.7 202.7h1.8M627.4 202.7h-1.8M447.7 201.6h1.8M627.4 201.6h-1.8M447.7 200.7h3.2M627.4 200.7h-3.2M447.7 432.9h1.8M627.4 432.9h-1.8M447.7 429.4h1.8M627.4 429.4h-1.8M447.7 426.8h1.8M627.4 426.8h-1.8M447.7 424.9h1.8M627.4 424.9h-1.8M447.7 423.3h1.8M627.4 423.3h-1.8M447.7 421.9h1.8M627.4 421.9h-1.8M447.7 420.8h1.8M627.4 420.8h-1.8M447.7 419.7h1.8M627.4 419.7h-1.8M447.7 418.8h3.2M627.4 418.8h-3.2M447.7 412.7h1.8M627.4 412.7h-1.8M447.7 409.2h1.8M627.4 409.2h-1.8M447.7 406.6h1.8M627.4 406.6h-1.8M447.7 404.7h1.8M627.4 404.7h-1.8M447.7 403.1h1.8M627.4 403.1h-1.8M447.7 401.7h1.8M627.4 401.7h-1.8M447.7 400.6h1.8M627.4 400.6h-1.8M447.7 399.5h1.8M627.4 399.5h-1.8M447.7 398.6h3.2M627.4 398.6h-3.2M447.7 392.5h1.8M627.4 392.5h-1.8M447.7 389.0h1.8M627.4 389.0h-1.8M447.7 386.4h1.8M627.4 386.4h-1.8M447.7 384.5h1.8M627.4 384.5h-1.8M447.7 382.9h1.8M627.4 382.9h-1.8M447.7 381.5h1.8M627.4 381.5h-1.8M447.7 380.4h1.8M627.4 380.4h-1.8M447.7 379.3h1.8M627.4 379.3h-1.8M447.7 378.4h3.2M627.4 378.4h-3.2M447.7 372.3h1.8M627.4 372.3h-1.8M447.7 368.8h1.8M627.4 368.8h-1.8M447.7 366.2h1.8M627.4 366.2h-1.8M447.7 364.3h1.8M627.4 364.3h-1.8M447.7 362.7h1.8M627.4 362.7h-1.8M447.7 361.3h1.8M627.4 361.3h-1.8M447.7 360.2h1.8M627.4 360.2h-1.8M447.7 359.1h1.8M627.4 359.1h-1.8M447.7 358.2h3.2M627.4 358.2h-3.2M447.7 352.1h1.8M627.4 352.1h-1.8M447.7 348.6h1.8M627.4 348.6h-1.8M447.7 346.0h1.8M627.4 346.0h-1.8M447.7 344.1h1.8M627.4 344.1h-1.8M447.7 342.5h1.8M627.4 342.5h-1.8M447.7 341.1h1.8M627.4 341.1h-1.8M447.7 340.0h1.8M627.4 340.0h-1.8M447.7 338.9h1.8M627.4 338.9h-1.8M447.7 338.0h3.2M627.4 338.0h-3.2M447.7 331.9h1.8M627.4 331.9h-1.8M447.7 328.4h1.8M627.4 328.4h-1.8M447.7 325.8h1.8M627.4 325.8h-1.8M447.7 323.9h1.8M627.4 323.9h-1.8M447.7 322.3h1.8M627.4 322.3h-1.8M447.7 320.9h1.8M627.4 320.9h-1.8M447.7 319.8h1.8M627.4 319.8h-1.8M447.7 318.7h1.8M627.4 318.7h-1.8M447.7 317.8h3.2M627.4 317.8h-3.2" stroke="#222" stroke-width="0.8" fill="none"/>
<text x="443.6" y="205.7" font-size="10" text-anchor="end" fill="#1a1a1a" >10<tspan font-size="7" dy="-4.2">2</tspan></text>
<text x="443.6" y="225.9" font-size="10" text-anchor="end" fill="#1a1a1a" >10<tspan font-size="7" dy="-4.2">1</tspan></text>
<text x="443.6" y="246.1" font-size="10" text-anchor="end" fill="#1a1a1a" >10<tspan font-size="7" dy="-4.2">0</tspan></text>
<text x="443.6" y="266.3" font-size="10" text-anchor="end" fill="#1a1a1a" >10<tspan font-size="7" dy="-4.2">−1</tspan></text>
<text x="443.6" y="286.5" font-size="10" text-anchor="end" fill="#1a1a1a" >10<tspan font-size="7" dy="-4.2">−2</tspan></text>
<text x="443.6" y="306.7" font-size="10" text-anchor="end" fill="#1a1a1a" >10<tspan font-size="7" dy="-4.2">−3</tspan></text>
<text x="443.6" y="322.8" font-size="10" text-anchor="end" fill="#1a1a1a" >10<tspan font-size="7" dy="-4.2">2</tspan></text>
<text x="443.6" y="343" font-size="10" text-anchor="end" fill="#1a1a1a" >10<tspan font-size="7" dy="-4.2">1</tspan></text>
<text x="443.6" y="363.2" font-size="10" text-anchor="end" fill="#1a1a1a" >10<tspan font-size="7" dy="-4.2">0</tspan></text>
<text x="443.6" y="383.4" font-size="10" text-anchor="end" fill="#1a1a1a" >10<tspan font-size="7" dy="-4.2">−1</tspan></text>
<text x="443.6" y="403.6" font-size="10" text-anchor="end" fill="#1a1a1a" >10<tspan font-size="7" dy="-4.2">−2</tspan></text>
<text x="443.6" y="423.8" font-size="10" text-anchor="end" fill="#1a1a1a" >10<tspan font-size="7" dy="-4.2">−3</tspan></text>
<text x="449.2" y="448.6" font-size="10" text-anchor="middle" fill="#1a1a1a" >10<tspan font-size="7" dy="-4.2">−2</tspan></text>
<text x="479.1" y="448.6" font-size="10" text-anchor="middle" fill="#1a1a1a" >10<tspan font-size="7" dy="-4.2">−1</tspan></text>
<text x="509.1" y="448.6" font-size="10" text-anchor="middle" fill="#1a1a1a" >10<tspan font-size="7" dy="-4.2">0</tspan></text>
<text x="539" y="448.6" font-size="10" text-anchor="middle" fill="#1a1a1a" >10<tspan font-size="7" dy="-4.2">1</tspan></text>
<text x="569" y="448.6" font-size="10" text-anchor="middle" fill="#1a1a1a" >10<tspan font-size="7" dy="-4.2">2</tspan></text>
<text x="599" y="448.6" font-size="10" text-anchor="middle" fill="#1a1a1a" >10<tspan font-size="7" dy="-4.2">3</tspan></text>
<text x="628.9" y="448.6" font-size="10" text-anchor="middle" fill="#1a1a1a" >10<tspan font-size="7" dy="-4.2">4</tspan></text>
<text x="535.6" y="465.3" font-size="10" text-anchor="middle" fill="#1a1a1a" >Time <tspan font-style="italic">t</tspan><tspan font-size="9" dx="0.8" dy="-3">*</tspan></text>
<text x="416.3" y="310.4" font-size="10" text-anchor="middle" fill="#1a1a1a" transform="rotate(-90 416.3 310.4)" >Mean square displacement/<tspan font-family="Liberation Serif" font-style="italic">σ</tspan><tspan font-size="7" dy="-4">2</tspan></text>
<text x="408" y="202.7" font-size="14" text-anchor="start" font-weight="bold" fill="#000" >g</text>
<text x="639" y="261.5" font-size="10" text-anchor="start" fill="#1a1a1a" >Surface</text>
<line x1="633" y1="372.6" x2="650.1" y2="372.6" stroke="#2A55A3" stroke-width="1.6" />
<text x="654.5" y="375.9" font-size="10" text-anchor="start" fill="#1a1a1a" >Shell 1</text>
<line x1="633" y1="360.4" x2="650.1" y2="360.4" stroke="#4E8EC2" stroke-width="1.6" />
<text x="654.5" y="363.7" font-size="10" text-anchor="start" fill="#1a1a1a" >Shell 2</text>
<line x1="633" y1="348.2" x2="650.1" y2="348.2" stroke="#8DBFDA" stroke-width="1.6" />
<text x="654.5" y="351.5" font-size="10" text-anchor="start" fill="#1a1a1a" >Shell 3</text>
<line x1="633" y1="336" x2="650.1" y2="336" stroke="#C3DDE9" stroke-width="1.6" />
<text x="654.5" y="339.3" font-size="10" text-anchor="start" fill="#1a1a1a" >Shell 4</text>
<line x1="633" y1="323.8" x2="650.1" y2="323.8" stroke="#EAE5A6" stroke-width="1.6" />
<text x="654.5" y="327.1" font-size="10" text-anchor="start" fill="#1a1a1a" >Shell 5</text>
<line x1="633" y1="311.7" x2="650.1" y2="311.7" stroke="#F1C970" stroke-width="1.6" />
<text x="654.5" y="315" font-size="10" text-anchor="start" fill="#1a1a1a" >Shell 6</text>
<line x1="633" y1="299.5" x2="650.1" y2="299.5" stroke="#F29A54" stroke-width="1.6" />
<text x="654.5" y="302.8" font-size="10" text-anchor="start" fill="#1a1a1a" >Shell 7</text>
<line x1="633" y1="287.3" x2="650.1" y2="287.3" stroke="#E6553A" stroke-width="1.6" />
<text x="654.5" y="290.6" font-size="10" text-anchor="start" fill="#1a1a1a" >Shell 8</text>
<line x1="633" y1="275.1" x2="650.1" y2="275.1" stroke="#CF2A27" stroke-width="1.6" />
<text x="654.5" y="278.4" font-size="10" text-anchor="start" fill="#1a1a1a" >Shell 9</text>
<text x="640.6" y="390.9" font-size="10" text-anchor="start" fill="#1a1a1a" >Center</text>
<line x1="46.4" y1="261.9" x2="46.4" y2="432.9" stroke="#c8c8c8" stroke-width="0.8" stroke-dasharray="1 2"/>
<line x1="82.3" y1="261.9" x2="82.3" y2="432.9" stroke="#c8c8c8" stroke-width="0.8" stroke-dasharray="1 2"/>
<line x1="118.2" y1="261.9" x2="118.2" y2="432.9" stroke="#c8c8c8" stroke-width="0.8" stroke-dasharray="1 2"/>
<line x1="154" y1="261.9" x2="154" y2="432.9" stroke="#c8c8c8" stroke-width="0.8" stroke-dasharray="1 2"/>
<line x1="189.9" y1="261.9" x2="189.9" y2="432.9" stroke="#c8c8c8" stroke-width="0.8" stroke-dasharray="1 2"/>
<line x1="225.8" y1="261.9" x2="225.8" y2="432.9" stroke="#c8c8c8" stroke-width="0.8" stroke-dasharray="1 2"/>
<line x1="261.7" y1="261.9" x2="261.7" y2="432.9" stroke="#c8c8c8" stroke-width="0.8" stroke-dasharray="1 2"/>
<line x1="297.6" y1="261.9" x2="297.6" y2="432.9" stroke="#c8c8c8" stroke-width="0.8" stroke-dasharray="1 2"/>
<line x1="333.4" y1="261.9" x2="333.4" y2="432.9" stroke="#c8c8c8" stroke-width="0.8" stroke-dasharray="1 2"/>
<line x1="369.3" y1="261.9" x2="369.3" y2="432.9" stroke="#c8c8c8" stroke-width="0.8" stroke-dasharray="1 2"/>
<line x1="42.6" y1="418.3" x2="384.7" y2="418.3" stroke="#c8c8c8" stroke-width="0.8" stroke-dasharray="1 2"/>
<line x1="42.6" y1="389.9" x2="384.7" y2="389.9" stroke="#c8c8c8" stroke-width="0.8" stroke-dasharray="1 2"/>
<line x1="42.6" y1="361.5" x2="384.7" y2="361.5" stroke="#c8c8c8" stroke-width="0.8" stroke-dasharray="1 2"/>
<line x1="42.6" y1="333.1" x2="384.7" y2="333.1" stroke="#c8c8c8" stroke-width="0.8" stroke-dasharray="1 2"/>
<line x1="42.6" y1="304.7" x2="384.7" y2="304.7" stroke="#c8c8c8" stroke-width="0.8" stroke-dasharray="1 2"/>
<line x1="42.6" y1="276.2" x2="384.7" y2="276.2" stroke="#c8c8c8" stroke-width="0.8" stroke-dasharray="1 2"/>
<path d="M49.1 261.9 L50.6 355 L53.2 421.5 L57 360 L59.2 345.8 L61.3 333 L63.5 315.8 L65.2 290 L66.7 286.8 L71 290 L74.2 296.5 L75.9 314.7 L79.6 316.2 L81.7 321.2 L83.8 335.1 L86 350 L87.6 362.7 L92.7 330 L95.3 325.8 L98.7 309.4 L103.9 309.4 L106.5 312 L109 319.7 L111.6 315.5 L114.2 320.6 L119.3 356.7 L126.2 334.3 L129.6 323.2 L134.8 322.3 L145.1 324.9 L147.7 341.2 L151.1 346.4 L153.7 343.8 L160.5 327.5 L162.2 328.3 L167.6 330.4 L177.2 333.6 L182.6 351.9 L190.1 344.4 L196.5 336.2 L207.3 337.5 L210.5 340 L213.7 350.8 L220.1 346.5 L229.3 338.2 L240 339.7 L246.5 351.5 L255 347.3 L263.6 341.9 L272.2 341.9 L276.1 350.5 L289.4 346.2 L295.8 344 L304.4 344 L311.4 351.1 L319.6 348.4 L328.7 344.7 L337.8 344.7 L343.3 351.1 L350.6 347.4 L359.7 346.5 L372.5 343.8 L376.2 349.3 L383.5 350.2" stroke="#E32B2B" stroke-width="1.6" fill="none" stroke-linejoin="round"/>
<path d="M157.9 316.9 C159.2 317.0 163.2 318.6 165.4 317.6 C167.6 316.6 169.2 313.4 171.0 311.0 C172.8 308.6 174.5 303.0 176.1 303.2 C177.7 303.4 178.4 308.4 180.4 312.2 C182.4 316.0 185.9 323.1 187.9 326.1 C189.9 329.1 190.4 330.9 192.2 330.4 C194.0 329.9 196.2 325.1 198.7 322.9 C201.2 320.6 205.0 317.1 207.3 316.9 C209.6 316.7 210.8 319.6 212.6 321.8 C214.4 324.1 216.0 328.0 218.0 330.4 C220.0 332.8 222.3 335.7 224.4 336.2 C226.5 336.7 228.7 335.1 230.4 333.3 C232.1 331.5 232.9 326.3 234.7 325.4 C236.5 324.5 238.8 326.2 241.1 327.9 C243.4 329.6 246.1 333.4 248.6 335.5 C251.1 337.6 253.8 340.6 256.1 340.4 C258.4 340.2 260.3 335.6 262.6 334.4 C264.9 333.2 267.4 332.8 270.1 333.3 C272.8 333.8 275.8 336.2 278.6 337.6 C281.5 339.0 284.0 341.6 287.2 341.9 C290.4 342.1 294.8 339.5 298.0 339.1 C301.2 338.7 303.6 339.1 306.5 339.7 C309.4 340.3 312.6 342.2 315.1 343.0 C317.6 343.8 318.5 344.6 321.4 344.7 C324.3 344.8 329.0 343.7 332.4 343.4 C335.8 343.1 338.2 342.4 341.5 342.9 C344.8 343.4 348.4 346.2 352.4 346.5 C356.3 346.8 361.5 345.0 365.2 344.7 C368.9 344.4 371.2 343.9 374.3 344.7 C377.4 345.5 382.0 348.5 383.5 349.3" stroke="#3E84C4" stroke-width="1.4" fill="none" />
<path d="M52.2 420.5l2 2m0 -2l-2 2" stroke="#E32B2B" stroke-width="0.6"/>
<path d="M56.0 359.0l2 2m0 -2l-2 2" stroke="#E32B2B" stroke-width="0.6"/>
<path d="M58.2 344.8l2 2m0 -2l-2 2" stroke="#E32B2B" stroke-width="0.6"/>
<path d="M60.3 332.0l2 2m0 -2l-2 2" stroke="#E32B2B" stroke-width="0.6"/>
<path d="M62.5 314.8l2 2m0 -2l-2 2" stroke="#E32B2B" stroke-width="0.6"/>
<path d="M64.2 289.0l2 2m0 -2l-2 2" stroke="#E32B2B" stroke-width="0.6"/>
<path d="M65.7 285.8l2 2m0 -2l-2 2" stroke="#E32B2B" stroke-width="0.6"/>
<path d="M70.0 289.0l2 2m0 -2l-2 2" stroke="#E32B2B" stroke-width="0.6"/>
<path d="M73.2 295.5l2 2m0 -2l-2 2" stroke="#E32B2B" stroke-width="0.6"/>
<path d="M74.9 313.7l2 2m0 -2l-2 2" stroke="#E32B2B" stroke-width="0.6"/>
<path d="M78.6 315.2l2 2m0 -2l-2 2" stroke="#E32B2B" stroke-width="0.6"/>
<path d="M80.7 320.2l2 2m0 -2l-2 2" stroke="#E32B2B" stroke-width="0.6"/>
<path d="M82.8 334.1l2 2m0 -2l-2 2" stroke="#E32B2B" stroke-width="0.6"/>
<path d="M85.0 349.0l2 2m0 -2l-2 2" stroke="#E32B2B" stroke-width="0.6"/>
<path d="M86.6 361.7l2 2m0 -2l-2 2" stroke="#E32B2B" stroke-width="0.6"/>
<path d="M91.7 329.0l2 2m0 -2l-2 2" stroke="#E32B2B" stroke-width="0.6"/>
<path d="M94.3 324.8l2 2m0 -2l-2 2" stroke="#E32B2B" stroke-width="0.6"/>
<path d="M97.7 308.4l2 2m0 -2l-2 2" stroke="#E32B2B" stroke-width="0.6"/>
<path d="M102.9 308.4l2 2m0 -2l-2 2" stroke="#E32B2B" stroke-width="0.6"/>
<path d="M105.5 311.0l2 2m0 -2l-2 2" stroke="#E32B2B" stroke-width="0.6"/>
<path d="M108.0 318.7l2 2m0 -2l-2 2" stroke="#E32B2B" stroke-width="0.6"/>
<path d="M110.6 314.5l2 2m0 -2l-2 2" stroke="#E32B2B" stroke-width="0.6"/>
<path d="M113.2 319.6l2 2m0 -2l-2 2" stroke="#E32B2B" stroke-width="0.6"/>
<path d="M118.3 355.7l2 2m0 -2l-2 2" stroke="#E32B2B" stroke-width="0.6"/>
<path d="M125.2 333.3l2 2m0 -2l-2 2" stroke="#E32B2B" stroke-width="0.6"/>
<path d="M128.6 322.2l2 2m0 -2l-2 2" stroke="#E32B2B" stroke-width="0.6"/>
<path d="M133.8 321.3l2 2m0 -2l-2 2" stroke="#E32B2B" stroke-width="0.6"/>
<path d="M144.1 323.9l2 2m0 -2l-2 2" stroke="#E32B2B" stroke-width="0.6"/>
<path d="M146.7 340.2l2 2m0 -2l-2 2" stroke="#E32B2B" stroke-width="0.6"/>
<path d="M150.1 345.4l2 2m0 -2l-2 2" stroke="#E32B2B" stroke-width="0.6"/>
<path d="M152.7 342.8l2 2m0 -2l-2 2" stroke="#E32B2B" stroke-width="0.6"/>
<path d="M159.5 326.5l2 2m0 -2l-2 2" stroke="#E32B2B" stroke-width="0.6"/>
<path d="M161.2 327.3l2 2m0 -2l-2 2" stroke="#E32B2B" stroke-width="0.6"/>
<path d="M166.6 329.4l2 2m0 -2l-2 2" stroke="#E32B2B" stroke-width="0.6"/>
<path d="M176.2 332.6l2 2m0 -2l-2 2" stroke="#E32B2B" stroke-width="0.6"/>
<path d="M181.6 350.9l2 2m0 -2l-2 2" stroke="#E32B2B" stroke-width="0.6"/>
<path d="M189.1 343.4l2 2m0 -2l-2 2" stroke="#E32B2B" stroke-width="0.6"/>
<path d="M195.5 335.2l2 2m0 -2l-2 2" stroke="#E32B2B" stroke-width="0.6"/>
<path d="M206.3 336.5l2 2m0 -2l-2 2" stroke="#E32B2B" stroke-width="0.6"/>
<path d="M209.5 339.0l2 2m0 -2l-2 2" stroke="#E32B2B" stroke-width="0.6"/>
<path d="M212.7 349.8l2 2m0 -2l-2 2" stroke="#E32B2B" stroke-width="0.6"/>
<path d="M219.1 345.5l2 2m0 -2l-2 2" stroke="#E32B2B" stroke-width="0.6"/>
<path d="M228.3 337.2l2 2m0 -2l-2 2" stroke="#E32B2B" stroke-width="0.6"/>
<path d="M239.0 338.7l2 2m0 -2l-2 2" stroke="#E32B2B" stroke-width="0.6"/>
<path d="M245.5 350.5l2 2m0 -2l-2 2" stroke="#E32B2B" stroke-width="0.6"/>
<path d="M254.0 346.3l2 2m0 -2l-2 2" stroke="#E32B2B" stroke-width="0.6"/>
<path d="M262.6 340.9l2 2m0 -2l-2 2" stroke="#E32B2B" stroke-width="0.6"/>
<path d="M271.2 340.9l2 2m0 -2l-2 2" stroke="#E32B2B" stroke-width="0.6"/>
<path d="M275.1 349.5l2 2m0 -2l-2 2" stroke="#E32B2B" stroke-width="0.6"/>
<path d="M288.4 345.2l2 2m0 -2l-2 2" stroke="#E32B2B" stroke-width="0.6"/>
<path d="M294.8 343.0l2 2m0 -2l-2 2" stroke="#E32B2B" stroke-width="0.6"/>
<path d="M303.4 343.0l2 2m0 -2l-2 2" stroke="#E32B2B" stroke-width="0.6"/>
<path d="M310.4 350.1l2 2m0 -2l-2 2" stroke="#E32B2B" stroke-width="0.6"/>
<path d="M318.6 347.4l2 2m0 -2l-2 2" stroke="#E32B2B" stroke-width="0.6"/>
<path d="M327.7 343.7l2 2m0 -2l-2 2" stroke="#E32B2B" stroke-width="0.6"/>
<path d="M336.8 343.7l2 2m0 -2l-2 2" stroke="#E32B2B" stroke-width="0.6"/>
<path d="M342.3 350.1l2 2m0 -2l-2 2" stroke="#E32B2B" stroke-width="0.6"/>
<path d="M349.6 346.4l2 2m0 -2l-2 2" stroke="#E32B2B" stroke-width="0.6"/>
<path d="M358.7 345.5l2 2m0 -2l-2 2" stroke="#E32B2B" stroke-width="0.6"/>
<path d="M371.5 342.8l2 2m0 -2l-2 2" stroke="#E32B2B" stroke-width="0.6"/>
<path d="M375.2 348.3l2 2m0 -2l-2 2" stroke="#E32B2B" stroke-width="0.6"/>
<path d="M382.5 349.2l2 2m0 -2l-2 2" stroke="#E32B2B" stroke-width="0.6"/>
<path d="M44.0 266.3l2.4 2.4m0 -2.4l-2.4 2.4" stroke="#E32B2B" stroke-width="0.7"/>
<path d="M64.4 280.3l2.4 2.4m0 -2.4l-2.4 2.4" stroke="#E32B2B" stroke-width="0.7"/>
<path d="M67.6 297.4l2.4 2.4m0 -2.4l-2.4 2.4" stroke="#E32B2B" stroke-width="0.7"/>
<path d="M81.6 305.6l2.4 2.4m0 -2.4l-2.4 2.4" stroke="#E32B2B" stroke-width="0.7"/>
<path d="M103.0 306.0l2.4 2.4m0 -2.4l-2.4 2.4" stroke="#E32B2B" stroke-width="0.7"/>
<path d="M62.8 282.8l2.4 2.4m0 -2.4l-2.4 2.4" stroke="#E32B2B" stroke-width="0.7"/>
<path d="M68.8 286.8l2.4 2.4m0 -2.4l-2.4 2.4" stroke="#E32B2B" stroke-width="0.7"/>
<circle cx="157.9" cy="316.9" r="1.2" fill="none" stroke="#3E84C4" stroke-width="0.6"/>
<circle cx="165.4" cy="317.6" r="1.2" fill="none" stroke="#3E84C4" stroke-width="0.6"/>
<circle cx="171.0" cy="311.0" r="1.2" fill="none" stroke="#3E84C4" stroke-width="0.6"/>
<circle cx="176.1" cy="303.2" r="1.2" fill="none" stroke="#3E84C4" stroke-width="0.6"/>
<circle cx="180.4" cy="312.2" r="1.2" fill="none" stroke="#3E84C4" stroke-width="0.6"/>
<circle cx="187.9" cy="326.1" r="1.2" fill="none" stroke="#3E84C4" stroke-width="0.6"/>
<circle cx="192.2" cy="330.4" r="1.2" fill="none" stroke="#3E84C4" stroke-width="0.6"/>
<circle cx="198.7" cy="322.9" r="1.2" fill="none" stroke="#3E84C4" stroke-width="0.6"/>
<circle cx="207.3" cy="316.9" r="1.2" fill="none" stroke="#3E84C4" stroke-width="0.6"/>
<circle cx="212.6" cy="321.8" r="1.2" fill="none" stroke="#3E84C4" stroke-width="0.6"/>
<circle cx="218.0" cy="330.4" r="1.2" fill="none" stroke="#3E84C4" stroke-width="0.6"/>
<circle cx="224.4" cy="336.2" r="1.2" fill="none" stroke="#3E84C4" stroke-width="0.6"/>
<circle cx="230.4" cy="333.3" r="1.2" fill="none" stroke="#3E84C4" stroke-width="0.6"/>
<circle cx="234.7" cy="325.4" r="1.2" fill="none" stroke="#3E84C4" stroke-width="0.6"/>
<circle cx="241.1" cy="327.9" r="1.2" fill="none" stroke="#3E84C4" stroke-width="0.6"/>
<circle cx="248.6" cy="335.5" r="1.2" fill="none" stroke="#3E84C4" stroke-width="0.6"/>
<circle cx="256.1" cy="340.4" r="1.2" fill="none" stroke="#3E84C4" stroke-width="0.6"/>
<circle cx="262.6" cy="334.4" r="1.2" fill="none" stroke="#3E84C4" stroke-width="0.6"/>
<circle cx="270.1" cy="333.3" r="1.2" fill="none" stroke="#3E84C4" stroke-width="0.6"/>
<circle cx="278.6" cy="337.6" r="1.2" fill="none" stroke="#3E84C4" stroke-width="0.6"/>
<circle cx="287.2" cy="341.9" r="1.2" fill="none" stroke="#3E84C4" stroke-width="0.6"/>
<circle cx="298.0" cy="339.1" r="1.2" fill="none" stroke="#3E84C4" stroke-width="0.6"/>
<circle cx="306.5" cy="339.7" r="1.2" fill="none" stroke="#3E84C4" stroke-width="0.6"/>
<circle cx="315.1" cy="343.0" r="1.2" fill="none" stroke="#3E84C4" stroke-width="0.6"/>
<circle cx="321.4" cy="344.7" r="1.2" fill="none" stroke="#3E84C4" stroke-width="0.6"/>
<circle cx="332.4" cy="343.4" r="1.2" fill="none" stroke="#3E84C4" stroke-width="0.6"/>
<circle cx="341.5" cy="342.9" r="1.2" fill="none" stroke="#3E84C4" stroke-width="0.6"/>
<circle cx="352.4" cy="346.5" r="1.2" fill="none" stroke="#3E84C4" stroke-width="0.6"/>
<circle cx="365.2" cy="344.7" r="1.2" fill="none" stroke="#3E84C4" stroke-width="0.6"/>
<circle cx="374.3" cy="344.7" r="1.2" fill="none" stroke="#3E84C4" stroke-width="0.6"/>
<circle cx="383.5" cy="349.3" r="1.2" fill="none" stroke="#3E84C4" stroke-width="0.6"/>
<rect x="42.6" y="261.9" width="342.1" height="171" fill="none" stroke="#555" stroke-width="1.3"/>
<line x1="46.4" y1="432.9" x2="46.4" y2="429.4" stroke="#333" stroke-width="1" />
<text x="46.4" y="445.6" font-size="10" text-anchor="middle" fill="#1a1a1a" >3</text>
<line x1="82.3" y1="432.9" x2="82.3" y2="429.4" stroke="#333" stroke-width="1" />
<text x="82.3" y="445.6" font-size="10" text-anchor="middle" fill="#1a1a1a" >4</text>
<line x1="118.2" y1="432.9" x2="118.2" y2="429.4" stroke="#333" stroke-width="1" />
<text x="118.2" y="445.6" font-size="10" text-anchor="middle" fill="#1a1a1a" >5</text>
<line x1="154" y1="432.9" x2="154" y2="429.4" stroke="#333" stroke-width="1" />
<text x="154" y="445.6" font-size="10" text-anchor="middle" fill="#1a1a1a" >6</text>
<line x1="189.9" y1="432.9" x2="189.9" y2="429.4" stroke="#333" stroke-width="1" />
<text x="189.9" y="445.6" font-size="10" text-anchor="middle" fill="#1a1a1a" >7</text>
<line x1="225.8" y1="432.9" x2="225.8" y2="429.4" stroke="#333" stroke-width="1" />
<text x="225.8" y="445.6" font-size="10" text-anchor="middle" fill="#1a1a1a" >8</text>
<line x1="261.7" y1="432.9" x2="261.7" y2="429.4" stroke="#333" stroke-width="1" />
<text x="261.7" y="445.6" font-size="10" text-anchor="middle" fill="#1a1a1a" >9</text>
<line x1="297.6" y1="432.9" x2="297.6" y2="429.4" stroke="#333" stroke-width="1" />
<text x="297.6" y="445.6" font-size="10" text-anchor="middle" fill="#1a1a1a" >10</text>
<line x1="333.4" y1="432.9" x2="333.4" y2="429.4" stroke="#333" stroke-width="1" />
<text x="333.4" y="445.6" font-size="10" text-anchor="middle" fill="#1a1a1a" >11</text>
<line x1="369.3" y1="432.9" x2="369.3" y2="429.4" stroke="#333" stroke-width="1" />
<text x="369.3" y="445.6" font-size="10" text-anchor="middle" fill="#1a1a1a" >12</text>
<line x1="42.6" y1="418.3" x2="46.1" y2="418.3" stroke="#333" stroke-width="1" />
<line x1="384.7" y1="418.3" x2="381.2" y2="418.3" stroke="#333" stroke-width="1" />
<text x="37.8" y="421.9" font-size="10" text-anchor="end" fill="#1a1a1a" >−0.2</text>
<line x1="42.6" y1="389.9" x2="46.1" y2="389.9" stroke="#333" stroke-width="1" />
<line x1="384.7" y1="389.9" x2="381.2" y2="389.9" stroke="#333" stroke-width="1" />
<text x="37.8" y="393.5" font-size="10" text-anchor="end" fill="#1a1a1a" >−0.1</text>
<line x1="42.6" y1="361.5" x2="46.1" y2="361.5" stroke="#333" stroke-width="1" />
<line x1="384.7" y1="361.5" x2="381.2" y2="361.5" stroke="#333" stroke-width="1" />
<text x="37.8" y="365.1" font-size="10" text-anchor="end" fill="#1a1a1a" >0</text>
<line x1="42.6" y1="333.1" x2="46.1" y2="333.1" stroke="#333" stroke-width="1" />
<line x1="384.7" y1="333.1" x2="381.2" y2="333.1" stroke="#333" stroke-width="1" />
<text x="37.8" y="336.7" font-size="10" text-anchor="end" fill="#1a1a1a" >0.1</text>
<line x1="42.6" y1="304.7" x2="46.1" y2="304.7" stroke="#333" stroke-width="1" />
<line x1="384.7" y1="304.7" x2="381.2" y2="304.7" stroke="#333" stroke-width="1" />
<text x="37.8" y="308.3" font-size="10" text-anchor="end" fill="#1a1a1a" >0.2</text>
<line x1="42.6" y1="276.2" x2="46.1" y2="276.2" stroke="#333" stroke-width="1" />
<line x1="384.7" y1="276.2" x2="381.2" y2="276.2" stroke="#333" stroke-width="1" />
<text x="37.8" y="279.8" font-size="10" text-anchor="end" fill="#1a1a1a" >0.3</text>
<line x1="87.5" y1="261.9" x2="87.5" y2="265.4" stroke="#333" stroke-width="1" />
<line x1="115.5" y1="261.9" x2="115.5" y2="265.4" stroke="#333" stroke-width="1" />
<line x1="161.4" y1="261.9" x2="161.4" y2="265.4" stroke="#333" stroke-width="1" />
<line x1="219.6" y1="261.9" x2="219.6" y2="265.4" stroke="#333" stroke-width="1" />
<line x1="260.4" y1="261.9" x2="260.4" y2="265.4" stroke="#333" stroke-width="1" />
<line x1="319.7" y1="261.9" x2="319.7" y2="265.4" stroke="#333" stroke-width="1" />
<text x="42.5" y="255.6" font-size="10" text-anchor="middle" fill="#1a1a1a" >100</text>
<text x="87.5" y="255.6" font-size="10" text-anchor="middle" fill="#1a1a1a" >300</text>
<text x="115.5" y="255.6" font-size="10" text-anchor="middle" fill="#1a1a1a" >500</text>
<text x="162" y="255.6" font-size="10" text-anchor="middle" fill="#1a1a1a" >1000</text>
<text x="220.5" y="255.6" font-size="10" text-anchor="middle" fill="#1a1a1a" >2000</text>
<text x="260.4" y="255.6" font-size="10" text-anchor="middle" fill="#1a1a1a" >3000</text>
<text x="319.7" y="255.6" font-size="10" text-anchor="middle" fill="#1a1a1a" >5000</text>
<text x="383.5" y="255.6" font-size="10" text-anchor="middle" fill="#1a1a1a" >8000</text>
<text x="211.9" y="238.4" font-size="10" text-anchor="middle" fill="#1a1a1a" >Number of particles <tspan font-style="italic">N</tspan></text>
<text x="213" y="461.6" font-size="10" text-anchor="middle" fill="#1a1a1a" >Confinement radius <tspan font-style="italic">R</tspan>/<tspan font-family="Liberation Serif" font-style="italic">σ</tspan></text>
<text x="9.8" y="353.6" font-size="10" text-anchor="middle" fill="#1a1a1a" transform="rotate(-90 9.8 353.6)" >Free energy  (<tspan font-style="italic">F</tspan> − <tspan font-style="italic">F</tspan><tspan font-size="7" dy="2">0</tspan><tspan dy="-2">)/</tspan><tspan font-style="italic">Nk</tspan><tspan font-size="7" dy="2">B</tspan><tspan font-style="italic" dy="-2">T</tspan></text>
<text x="0" y="234.4" font-size="14" text-anchor="start" font-weight="bold" fill="#000" >h</text>
<line x1="300" y1="277.7" x2="321.5" y2="277.7" stroke="#3E84C4" stroke-width="1.6" />
<line x1="300" y1="289" x2="321.5" y2="289" stroke="#E32B2B" stroke-width="1.6" />
<text x="325" y="281.2" font-size="10" text-anchor="start" fill="#1a1a1a" >FCC</text>
<text x="325" y="292.5" font-size="10" text-anchor="start" fill="#1a1a1a" >Simulation</text>
<text x="59.8" y="428" font-size="10" text-anchor="middle" fill="#1a1a1a" >3</text>
<line x1="87.5" y1="366.8" x2="87.5" y2="380.8" stroke="#333" stroke-width="1" />
<text x="87.5" y="391.2" font-size="10" text-anchor="middle" fill="#1a1a1a" >4</text>
<line x1="118.8" y1="360.4" x2="118.8" y2="373.3" stroke="#333" stroke-width="1" />
<text x="118.8" y="384.4" font-size="10" text-anchor="middle" fill="#1a1a1a" >5</text>
<line x1="151" y1="349.1" x2="151" y2="363.3" stroke="#333" stroke-width="1" />
<text x="151" y="373.7" font-size="10" text-anchor="middle" fill="#1a1a1a" >6</text>
<line x1="182.1" y1="355.1" x2="182.1" y2="370.1" stroke="#333" stroke-width="1" />
<text x="182.1" y="380.2" font-size="10" text-anchor="middle" fill="#1a1a1a" >7</text>
<line x1="213.7" y1="354" x2="213.7" y2="368" stroke="#333" stroke-width="1" />
<text x="213.7" y="378" font-size="10" text-anchor="middle" fill="#1a1a1a" >8</text>
<line x1="246.9" y1="359.3" x2="246.9" y2="366.8" stroke="#333" stroke-width="1" />
<text x="246.9" y="377.9" font-size="10" text-anchor="middle" fill="#1a1a1a" >9</text>
<line x1="276.5" y1="354.8" x2="276.5" y2="368" stroke="#333" stroke-width="1" />
<text x="276.5" y="378.4" font-size="10" text-anchor="middle" fill="#1a1a1a" >10</text>
<line x1="311.4" y1="353.8" x2="311.4" y2="367.5" stroke="#333" stroke-width="1" />
<text x="311.4" y="378.4" font-size="10" text-anchor="middle" fill="#1a1a1a" >11</text>
<line x1="343.3" y1="353.8" x2="343.3" y2="367.5" stroke="#333" stroke-width="1" />
<text x="343.3" y="378.4" font-size="10" text-anchor="middle" fill="#1a1a1a" >12</text>
<line x1="377.6" y1="353.8" x2="377.6" y2="367.5" stroke="#333" stroke-width="1" />
<text x="377.6" y="378.4" font-size="10" text-anchor="middle" fill="#1a1a1a" >13</text>
<line x1="208.6" y1="339" x2="208.6" y2="385" stroke="#333" stroke-width="0.9" stroke-dasharray="1 1.5"/>
<line x1="228.2" y1="341" x2="228.2" y2="385" stroke="#333" stroke-width="0.9" stroke-dasharray="1 1.5"/>
<line x1="182.1" y1="406.5" x2="182.1" y2="391" stroke="#000" stroke-width="1.1" />
<path d="M182.1 386.5 L179.9 392.5 L184.3 392.5 Z" fill="#000"/>
<text x="178.7" y="394" font-size="9" text-anchor="middle" fill="#1a1a1a" transform="rotate(-90 178.7 394)" >1308</text>
<line x1="208.9" y1="406.5" x2="208.9" y2="391" stroke="#000" stroke-width="1.1" />
<path d="M208.9 386.5 L206.7 392.5 L211.1 392.5 Z" fill="#000"/>
<text x="206.1" y="394" font-size="9" text-anchor="middle" fill="#1a1a1a" transform="rotate(-90 206.1 394)" >1774</text>
<line x1="214.1" y1="406.5" x2="214.1" y2="391" stroke="#000" stroke-width="1.1" />
<path d="M214.1 386.5 L211.9 392.5 L216.3 392.5 Z" fill="#000"/>
<text x="224.4" y="394" font-size="9" text-anchor="middle" fill="#1a1a1a" transform="rotate(-90 224.4 394)" >1905</text>
<line x1="228.2" y1="406.5" x2="228.2" y2="391" stroke="#000" stroke-width="1.1" />
<path d="M228.2 386.5 L226.0 392.5 L230.4 392.5 Z" fill="#000"/>
<text x="238.3" y="394" font-size="9" text-anchor="middle" fill="#1a1a1a" transform="rotate(-90 238.3 394)" >2166</text>
<line x1="246.9" y1="406.5" x2="246.9" y2="391" stroke="#000" stroke-width="1.1" />
<path d="M246.9 386.5 L244.7 392.5 L249.1 392.5 Z" fill="#000"/>
<text x="257.6" y="394" font-size="9" text-anchor="middle" fill="#1a1a1a" transform="rotate(-90 257.6 394)" >2641</text>
<line x1="343.5" y1="406.5" x2="343.5" y2="391" stroke="#000" stroke-width="1.1" />
<path d="M343.5 386.5 L341.3 392.5 L345.7 392.5 Z" fill="#000"/>
<text x="355.8" y="394" font-size="9" text-anchor="middle" fill="#1a1a1a" transform="rotate(-90 355.8 394)" >5971</text>
<text x="182.1" y="417.5" font-size="10" text-anchor="middle" fill="#1a1a1a" >a</text>
<text x="246.9" y="417.5" font-size="10" text-anchor="middle" fill="#1a1a1a" >a</text>
<text x="343.5" y="417" font-size="10" text-anchor="middle" fill="#1a1a1a" >a</text>
<text x="218.4" y="422.5" font-size="10" text-anchor="middle" fill="#1a1a1a" >b</text>
<text x="245.8" y="429.8" font-size="10" text-anchor="middle" fill="#1a1a1a" >c-g</text>
<path d="M207.6 406.5 Q207.6 409.7 211 409.7 L215.5 409.7 Q218.4 409.7 218.4 412 Q218.4 409.7 221.3 409.7 L226.3 409.7 Q229.7 409.7 229.7 406.5" fill="none" stroke="#000" stroke-width="0.9"/>
</svg></body></html>
